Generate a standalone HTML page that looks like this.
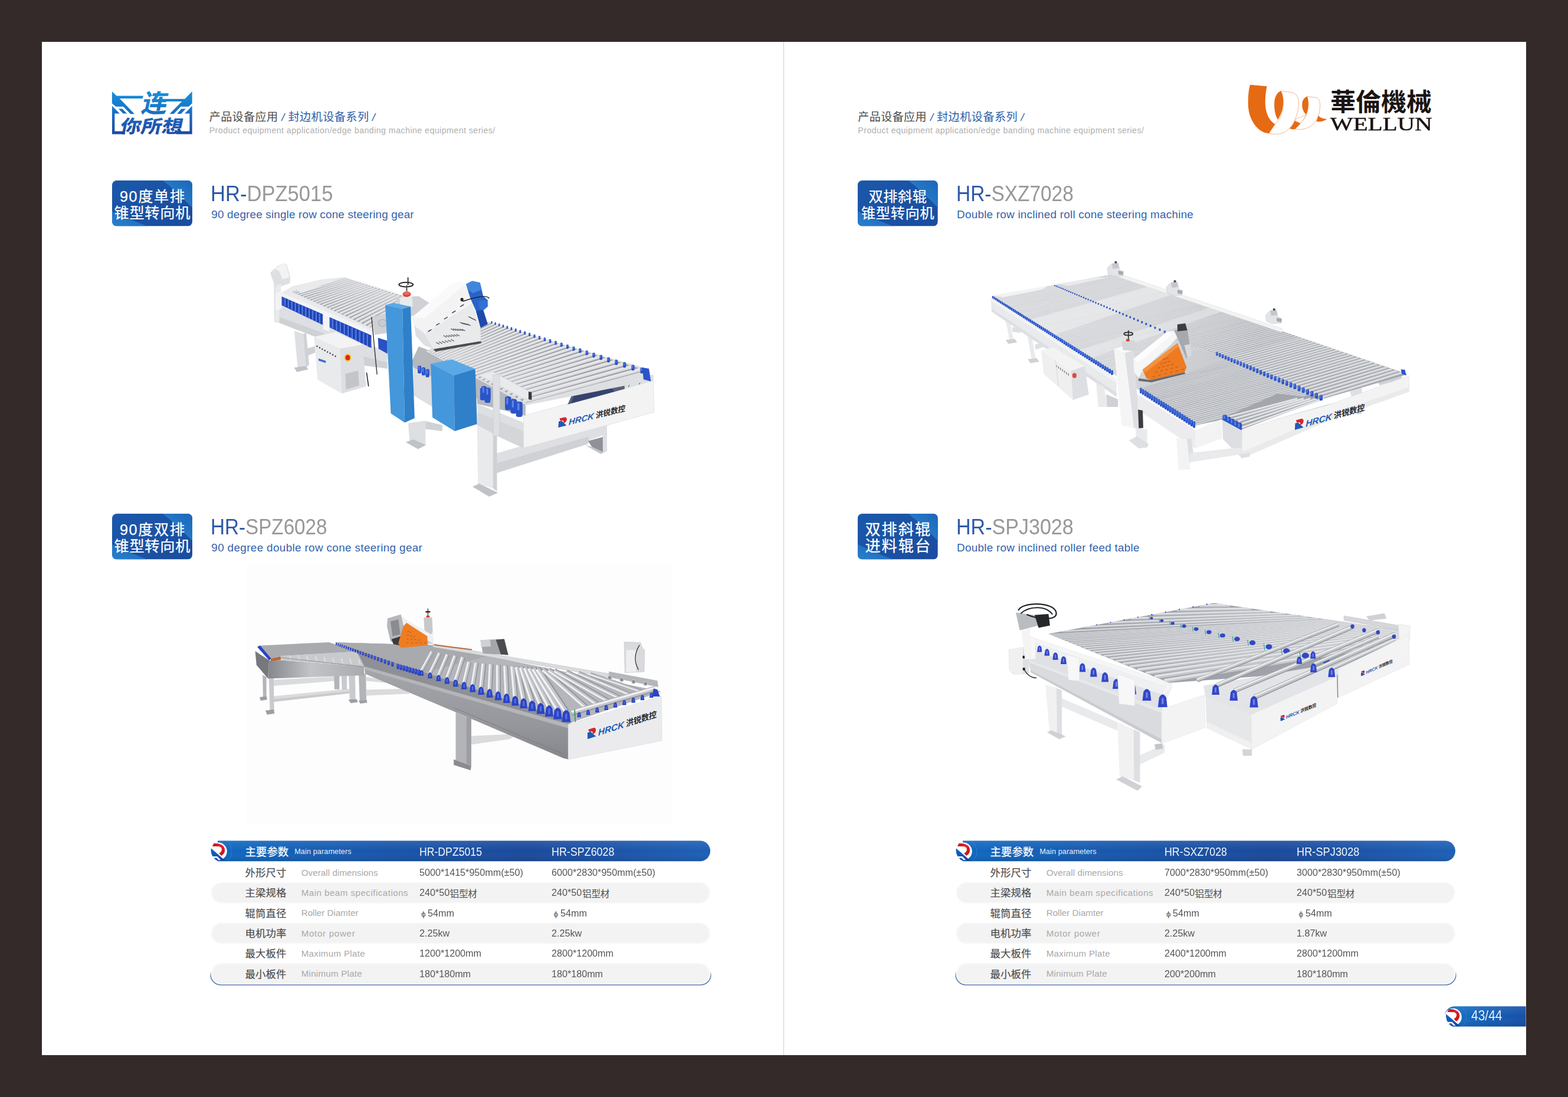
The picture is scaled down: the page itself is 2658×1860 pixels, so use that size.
<!DOCTYPE html>
<html lang="zh"><head><meta charset="utf-8"><title>HRCK / WELLUN product catalogue 43/44</title>
<style>
html,body{margin:0;padding:0;background:#342a29;}
body{width:2658px;height:1860px;position:relative;overflow:hidden;font-family:"Liberation Sans",sans-serif;}
#page{position:absolute;left:70.5px;top:71.2px;width:2516.1px;height:1718.2px;background:#fff;}
#fold{position:absolute;left:1328px;top:71.2px;width:1px;height:1718.2px;background:#cfcfd2;}
.t{position:absolute;white-space:nowrap;font-family:"Liberation Sans",sans-serif;}
.ser{font-family:"Liberation Serif",serif;}
svg{position:absolute;left:0;top:0;overflow:visible;}
.m{position:absolute;}
.cj{font-family:"Liberation Sans","Noto Sans CJK SC",sans-serif;}
.cjt{font-family:"Liberation Sans","Noto Sans CJK TC",sans-serif;}
</style></head><body>
<div id="page"></div><div id="fold"></div>

<svg width="2658" height="1860" viewBox="0 0 2658 1860" role="img" aria-label="catalogue artwork">
<defs>
<linearGradient id="hdr" x1="0" x2="1" y1="0" y2="0">
 <stop offset="0" stop-color="#0f68c0"/><stop offset="0.3" stop-color="#1757ac"/><stop offset="0.62" stop-color="#1a499b"/><stop offset="1" stop-color="#1d5fb5"/>
</linearGradient>
<linearGradient id="pgn" x1="0" x2="1" y1="0" y2="0"><stop offset="0" stop-color="#1272c8"/><stop offset="1" stop-color="#164fa6"/></linearGradient>
<linearGradient id="hdrv" x1="0" x2="0" y1="0" y2="1">
 <stop offset="0" stop-color="#fff" stop-opacity="0.10"/><stop offset="0.5" stop-color="#fff" stop-opacity="0"/><stop offset="1" stop-color="#000" stop-opacity="0.10"/>
</linearGradient>
<linearGradient id="bdg" x1="0" x2="1" y1="0" y2="1">
 <stop offset="0" stop-color="#1b58aa"/><stop offset="1" stop-color="#1a4c9e"/>
</linearGradient>
<linearGradient id="bdg2" x1="0" x2="1" y1="1" y2="0">
 <stop offset="0" stop-color="#2a8ad6"/><stop offset="1" stop-color="#1d66b8"/>
</linearGradient>
<linearGradient id="rred" x1="0" x2="1" y1="0" y2="1">
 <stop offset="0" stop-color="#c8161c"/><stop offset="0.5" stop-color="#e3222a"/><stop offset="1" stop-color="#b5141a"/>
</linearGradient>
<linearGradient id="rblu" x1="0" x2="1" y1="0" y2="1">
 <stop offset="0" stop-color="#0e6ac4"/><stop offset="1" stop-color="#1a3c9c"/>
</linearGradient>
<linearGradient id="rowline" x1="0" x2="0" y1="0" y2="1">
 <stop offset="0" stop-color="#5f7fb5" stop-opacity="0"/><stop offset="0.35" stop-color="#5f7fb5" stop-opacity="0"/><stop offset="0.6" stop-color="#5f7fb5" stop-opacity="1"/><stop offset="1" stop-color="#5f7fb5" stop-opacity="1"/>
</linearGradient>
<filter id="soft" x="-5%" y="-20%" width="110%" height="140%"><feGaussianBlur stdDeviation="1.2"/></filter>
</defs>
<g id="m1"><polygon points="498.8,561 513.9,566.1 519,623.2 504.7,623.2" fill="#dddfe2"/><polygon points="513.9,566.1 519,564.4 524,618.1 519,623.2" fill="#cfd1d5"/><polygon points="498.8,623.2 519,620.7 522.3,626.5 503,630.7" fill="#bfc2c7"/><polygon points="516.4,592.1 534.1,587.1 534.1,598 517.3,604.7" fill="#cfd1d5"/><polygon points="458.5,461.9 469.4,451.8 481.2,446.8 486.2,448.5 492.1,470.3 491.2,480.4 476.1,485.4 476.1,500.6 474.4,547.6 465.2,545.9 464.4,480.4 458.8,465.3" fill="#dddfe2"/><polygon points="465.2,455.2 480.3,447.6 485.4,449.3 490.4,470.3 478.6,473.7 473.6,460.2" fill="#f3f3f4"/><polygon points="466.9,485.4 476.1,480.4 476.1,500.6 474.4,545.9 466.9,544.2" fill="#e9eaec"/><polygon points="473.6,517.4 630.7,586.2 656.7,598 656.7,624.9 618.1,619.8 547.5,576.1 473.6,547.6" fill="#dddfe2"/><polygon points="473.6,537.5 547.5,564.4 618.1,604.7 656.7,614.8 656.7,624.9 618.1,619.8 547.5,576.1 473.6,547.6" fill="#cfd1d5"/><polygon points="476.1,497.2 495.4,485.4 544.1,474 582.8,470 708.8,509 633.2,564.4" fill="#e9eaec"/><polygon points="495.4,494.7 628.1,555.1 707.1,509.8 584.5,471.2" fill="#979aa0"/><line x1="497.9" y1="495.8" x2="586.7" y2="471.9" stroke="#dadbde" stroke-width="2.4"/><line x1="497.8" y1="495.5" x2="586.6" y2="471.6" stroke="#e6e7e9" stroke-width="0.9"/><line x1="502.8" y1="498" x2="591.2" y2="473.3" stroke="#dadbde" stroke-width="2.5"/><line x1="502.7" y1="497.7" x2="591.2" y2="473" stroke="#e6e7e9" stroke-width="0.9"/><line x1="507.8" y1="500.3" x2="595.9" y2="474.7" stroke="#dadbde" stroke-width="2.6"/><line x1="507.7" y1="500" x2="595.8" y2="474.5" stroke="#e6e7e9" stroke-width="0.9"/><line x1="512.9" y1="502.6" x2="600.6" y2="476.2" stroke="#dadbde" stroke-width="2.6"/><line x1="512.8" y1="502.3" x2="600.5" y2="475.9" stroke="#e6e7e9" stroke-width="1"/><line x1="518.1" y1="505" x2="605.4" y2="477.7" stroke="#dadbde" stroke-width="2.7"/><line x1="518" y1="504.7" x2="605.3" y2="477.4" stroke="#e6e7e9" stroke-width="1"/><line x1="523.4" y1="507.4" x2="610.3" y2="479.3" stroke="#dadbde" stroke-width="2.8"/><line x1="523.3" y1="507.1" x2="610.2" y2="479" stroke="#e6e7e9" stroke-width="1"/><line x1="528.8" y1="509.9" x2="615.3" y2="480.9" stroke="#dadbde" stroke-width="2.9"/><line x1="528.7" y1="509.5" x2="615.2" y2="480.5" stroke="#e6e7e9" stroke-width="1"/><line x1="534.3" y1="512.4" x2="620.4" y2="482.5" stroke="#dadbde" stroke-width="3"/><line x1="534.2" y1="512" x2="620.2" y2="482.1" stroke="#e6e7e9" stroke-width="1.1"/><line x1="539.9" y1="514.9" x2="625.5" y2="484.1" stroke="#dadbde" stroke-width="3.1"/><line x1="539.8" y1="514.6" x2="625.4" y2="483.7" stroke="#e6e7e9" stroke-width="1.1"/><line x1="545.6" y1="517.5" x2="630.8" y2="485.8" stroke="#dadbde" stroke-width="3.2"/><line x1="545.5" y1="517.2" x2="630.7" y2="485.4" stroke="#e6e7e9" stroke-width="1.2"/><line x1="551.5" y1="520.2" x2="636.2" y2="487.5" stroke="#dadbde" stroke-width="3.3"/><line x1="551.3" y1="519.8" x2="636.1" y2="487.1" stroke="#e6e7e9" stroke-width="1.2"/><line x1="557.4" y1="522.9" x2="641.7" y2="489.2" stroke="#dadbde" stroke-width="3.4"/><line x1="557.3" y1="522.5" x2="641.6" y2="488.8" stroke="#e6e7e9" stroke-width="1.2"/><line x1="563.5" y1="525.7" x2="647.4" y2="491" stroke="#dadbde" stroke-width="3.5"/><line x1="563.3" y1="525.3" x2="647.2" y2="490.6" stroke="#e6e7e9" stroke-width="1.3"/><line x1="569.7" y1="528.5" x2="653.1" y2="492.8" stroke="#dadbde" stroke-width="3.7"/><line x1="569.5" y1="528.1" x2="652.9" y2="492.4" stroke="#e6e7e9" stroke-width="1.3"/><line x1="576" y1="531.4" x2="658.9" y2="494.6" stroke="#dadbde" stroke-width="3.8"/><line x1="575.8" y1="531" x2="658.8" y2="494.2" stroke="#e6e7e9" stroke-width="1.4"/><line x1="582.5" y1="534.3" x2="664.9" y2="496.5" stroke="#dadbde" stroke-width="3.9"/><line x1="582.3" y1="533.9" x2="664.7" y2="496.1" stroke="#e6e7e9" stroke-width="1.4"/><line x1="589.1" y1="537.4" x2="671" y2="498.4" stroke="#dadbde" stroke-width="4.1"/><line x1="588.9" y1="536.9" x2="670.8" y2="498" stroke="#e6e7e9" stroke-width="1.5"/><line x1="595.9" y1="540.4" x2="677.3" y2="500.4" stroke="#dadbde" stroke-width="4.2"/><line x1="595.6" y1="540" x2="677" y2="499.9" stroke="#e6e7e9" stroke-width="1.5"/><line x1="602.8" y1="543.6" x2="683.6" y2="502.4" stroke="#dadbde" stroke-width="4.3"/><line x1="602.5" y1="543.1" x2="683.4" y2="501.9" stroke="#e6e7e9" stroke-width="1.6"/><line x1="609.8" y1="546.8" x2="690.2" y2="504.5" stroke="#dadbde" stroke-width="4.5"/><line x1="609.6" y1="546.3" x2="689.9" y2="504" stroke="#e6e7e9" stroke-width="1.6"/><line x1="617" y1="550.1" x2="696.8" y2="506.6" stroke="#dadbde" stroke-width="4.7"/><line x1="616.8" y1="549.6" x2="696.5" y2="506.1" stroke="#e6e7e9" stroke-width="1.7"/><line x1="624.4" y1="553.4" x2="703.6" y2="508.7" stroke="#dadbde" stroke-width="4.8"/><line x1="624.1" y1="552.9" x2="703.3" y2="508.2" stroke="#e6e7e9" stroke-width="1.7"/><polygon points="495.4,486.3 544.1,474 582.8,470.3 510.6,497.2" fill="#e9eaec"/><polygon points="476.1,495.8 632.3,561.4 632.3,566.9 476.1,501.4" fill="#f3f3f4"/><polygon points="477.3,502.6 547.5,532.8 547.5,550.9 477.3,517.7" fill="#2a50c4"/><polygon points="558.4,537.5 629.5,568.6 629.5,589.9 558.4,555.1" fill="#2a50c4"/><line x1="483.3" y1="505.2" x2="483.3" y2="518.8" stroke="#5a86ec" stroke-width="1.6"/><line x1="485.5" y1="506.2" x2="485.5" y2="519.8" stroke="#17308c" stroke-width="1.2"/><line x1="489.1" y1="507.9" x2="489.1" y2="521.8" stroke="#5a86ec" stroke-width="1.6"/><line x1="491.3" y1="508.9" x2="491.3" y2="522.8" stroke="#17308c" stroke-width="1.2"/><line x1="495" y1="510.6" x2="495" y2="524.8" stroke="#5a86ec" stroke-width="1.6"/><line x1="497.2" y1="511.6" x2="497.2" y2="525.8" stroke="#17308c" stroke-width="1.2"/><line x1="500.9" y1="513.3" x2="500.9" y2="527.8" stroke="#5a86ec" stroke-width="1.6"/><line x1="503.1" y1="514.3" x2="503.1" y2="528.8" stroke="#17308c" stroke-width="1.2"/><line x1="506.8" y1="515.9" x2="506.8" y2="530.8" stroke="#5a86ec" stroke-width="1.6"/><line x1="509" y1="516.9" x2="509" y2="531.8" stroke="#17308c" stroke-width="1.2"/><line x1="512.7" y1="518.6" x2="512.7" y2="533.7" stroke="#5a86ec" stroke-width="1.6"/><line x1="514.9" y1="519.6" x2="514.9" y2="534.7" stroke="#17308c" stroke-width="1.2"/><line x1="518.5" y1="521.3" x2="518.5" y2="536.7" stroke="#5a86ec" stroke-width="1.6"/><line x1="520.7" y1="522.3" x2="520.7" y2="537.7" stroke="#17308c" stroke-width="1.2"/><line x1="524.4" y1="524" x2="524.4" y2="539.7" stroke="#5a86ec" stroke-width="1.6"/><line x1="526.6" y1="525" x2="526.6" y2="540.7" stroke="#17308c" stroke-width="1.2"/><line x1="530.3" y1="526.6" x2="530.3" y2="542.7" stroke="#5a86ec" stroke-width="1.6"/><line x1="532.5" y1="527.6" x2="532.5" y2="543.7" stroke="#17308c" stroke-width="1.2"/><line x1="536.2" y1="529.3" x2="536.2" y2="545.6" stroke="#5a86ec" stroke-width="1.6"/><line x1="538.4" y1="530.3" x2="538.4" y2="546.6" stroke="#17308c" stroke-width="1.2"/><line x1="542" y1="532" x2="542" y2="548.6" stroke="#5a86ec" stroke-width="1.6"/><line x1="544.2" y1="533" x2="544.2" y2="549.6" stroke="#17308c" stroke-width="1.2"/><line x1="564.2" y1="540.3" x2="564.2" y2="556.5" stroke="#5a86ec" stroke-width="1.6"/><line x1="566.4" y1="541.3" x2="566.4" y2="557.5" stroke="#17308c" stroke-width="1.2"/><line x1="570.8" y1="543.3" x2="570.8" y2="559.9" stroke="#5a86ec" stroke-width="1.6"/><line x1="573" y1="544.3" x2="573" y2="560.9" stroke="#17308c" stroke-width="1.2"/><line x1="577.3" y1="546.3" x2="577.3" y2="563.4" stroke="#5a86ec" stroke-width="1.6"/><line x1="579.5" y1="547.3" x2="579.5" y2="564.4" stroke="#17308c" stroke-width="1.2"/><line x1="583.9" y1="549.4" x2="583.9" y2="566.8" stroke="#5a86ec" stroke-width="1.6"/><line x1="586.1" y1="550.4" x2="586.1" y2="567.8" stroke="#17308c" stroke-width="1.2"/><line x1="590.4" y1="552.4" x2="590.4" y2="570.3" stroke="#5a86ec" stroke-width="1.6"/><line x1="592.6" y1="553.4" x2="592.6" y2="571.3" stroke="#17308c" stroke-width="1.2"/><line x1="597" y1="555.4" x2="597" y2="573.7" stroke="#5a86ec" stroke-width="1.6"/><line x1="599.2" y1="556.4" x2="599.2" y2="574.7" stroke="#17308c" stroke-width="1.2"/><line x1="603.5" y1="558.5" x2="603.5" y2="577.2" stroke="#5a86ec" stroke-width="1.6"/><line x1="605.7" y1="559.5" x2="605.7" y2="578.2" stroke="#17308c" stroke-width="1.2"/><line x1="610.1" y1="561.5" x2="610.1" y2="580.6" stroke="#5a86ec" stroke-width="1.6"/><line x1="612.3" y1="562.5" x2="612.3" y2="581.6" stroke="#17308c" stroke-width="1.2"/><line x1="616.6" y1="564.5" x2="616.6" y2="584.1" stroke="#5a86ec" stroke-width="1.6"/><line x1="618.8" y1="565.5" x2="618.8" y2="585.1" stroke="#17308c" stroke-width="1.2"/><line x1="623.2" y1="567.6" x2="623.2" y2="587.5" stroke="#5a86ec" stroke-width="1.6"/><line x1="625.4" y1="568.6" x2="625.4" y2="588.5" stroke="#17308c" stroke-width="1.2"/><polygon points="547.5,532.5 558.4,537.2 558.4,562.7 547.5,557.7" fill="#f3f3f4"/><polygon points="466.9,497.2 477.3,494.7 477.3,524.1 466.9,526.6" fill="#f3f3f4"/><polygon points="532.4,571.1 569.3,562.7 614.7,584.5 576.1,591.6" fill="#f3f3f4"/><polygon points="532.4,571.1 576.1,591.6 579.4,667.2 538.3,643.7" fill="#e9eaec"/><polygon points="576.1,591.6 614.7,584.5 620.6,655.1 579.4,667.2" fill="#dddfe2"/><polygon points="585.3,634.1 607.1,628.2 608.8,653.4 586.5,660.5" fill="#c3c5c9"/><ellipse cx="589.5" cy="606.4" rx="5.6" ry="6.4" fill="#f0c020"/><ellipse cx="589.5" cy="606.4" rx="3.8" ry="4.4" fill="#d8261e"/><ellipse cx="537.4" cy="587.1" rx="1.2" ry="1.5" fill="#4a4a4a"/><ellipse cx="541.9" cy="589.5" rx="1.2" ry="1.5" fill="#4a4a4a"/><ellipse cx="546.3" cy="591.9" rx="1.2" ry="1.5" fill="#4a4a4a"/><ellipse cx="550.7" cy="594.3" rx="1.2" ry="1.5" fill="#4a4a4a"/><ellipse cx="555.2" cy="596.7" rx="1.2" ry="1.5" fill="#4a4a4a"/><ellipse cx="559.6" cy="599.1" rx="1.2" ry="1.5" fill="#4a4a4a"/><ellipse cx="564.1" cy="601.5" rx="1.2" ry="1.5" fill="#4a4a4a"/><ellipse cx="568.5" cy="603.9" rx="1.2" ry="1.5" fill="#4a4a4a"/><polygon points="539.9,607.7 552.2,611.8 552.2,615.6 539.9,611.4" fill="#3b6fd0"/><line x1="621.4" y1="631.6" x2="624.8" y2="655.1" stroke="#2a2a2a" stroke-width="1.6"/><line x1="629.8" y1="537.5" x2="639.1" y2="634.9" stroke="#333" stroke-width="1.4"/><polygon points="631.5,537.5 655,530.8 656.7,564.4 634.9,567.7" fill="#cfd1d5"/><ellipse cx="648.3" cy="547.6" rx="7" ry="6" fill="#c9ccd0" stroke="#9a9da2" stroke-width="0.8"/><polygon points="640.7,572.8 656.7,577.8 656.7,599.7 641.6,591.3" fill="#2a50c4"/><polygon points="668.6,503.5 709.7,502.3 729.6,514.7 714.7,529.7 696,537.1 681.1,524.7" fill="#cfd1d5"/><polygon points="677.3,504.8 698.5,502.3 699.7,519.7 678.6,522.2" fill="#e9eaec"/><line x1="691.6" y1="471.2" x2="691.6" y2="482.4" stroke="#2b2b2b" stroke-width="1.8" stroke-linecap="round"/><ellipse cx="688.3" cy="482.6" rx="12" ry="3.8" fill="none" stroke="#2b2b2b" stroke-width="2"/><line x1="689.2" y1="483.6" x2="689.5" y2="493.6" stroke="#555" stroke-width="2.2"/><ellipse cx="689.5" cy="498.8" rx="7" ry="4.6" fill="#d8402f"/><ellipse cx="689.5" cy="497.3" rx="5.5" ry="3.2" fill="#e86a55"/><polygon points="691.9,717.4 721.3,713.2 721.3,754.4 694.4,748.5" fill="#dddfe2"/><polygon points="687.7,749.7 700.3,745.1 722.1,754.4 708.7,761.4" fill="#bfc2c7"/><polygon points="721.3,714.1 749.8,720.8 749.8,730.9 721.3,727.5" fill="#cfd1d5"/><polygon points="841.3,768.7 1023.6,716.1 1023.6,737.6 841.3,802.3" fill="#dddfe2"/><polygon points="841.3,785.5 998.4,740.1 996.7,752.7 841.3,802.3" fill="#cfd1d5"/><polygon points="1021.9,718.3 1029,716.6 1029,764.5 1021.9,766.5" fill="#dddfe2"/><polygon points="996.7,747.7 1021.9,740.9 1021.9,766.5 1003.4,757.7" fill="#8e9197"/><polygon points="991.7,754.4 1003.4,757.7 1021.9,766.5 1029,764.1 1032,762.8 1018.5,769.8" fill="#bfc2c7"/><polygon points="808.6,720.8 835.5,731.7 835.5,827.5 810.3,821.6" fill="#e9eaec"/><polygon points="835.5,731.7 842.5,730 842.5,833.3 835.5,827.5" fill="#cfd1d5"/><polygon points="801.1,825.3 812,819.9 844.2,835.4 829.1,842.1" fill="#bfc2c7"/><polygon points="701.1,623.4 808.6,675.4 808.6,720.8 748.1,699 701.1,670.4" fill="#dddfe2"/><polygon points="809.4,684.7 887.5,716.6 887.5,759.8 847.2,741.3 809.4,720.8" fill="#dddfe2"/><polygon points="809.4,699 887.5,730.9 887.5,759.8 847.2,741.3 809.4,720.8" fill="#d4d6d9"/><polygon points="887.5,704.8 1107.6,645.2 1108.6,699 887.5,759.8" fill="#f3f3f4" stroke="#d0d2d5" stroke-width="0.5"/><polygon points="962.3,685.8 969.8,668.7 1042.1,648.6 1058.9,645.2 1058.9,659.5" fill="#5a6078"/><polygon points="968.1,683.8 973.2,670.4 1032,654.4 1042.1,663.7" fill="#36436e"/><polygon points="1058.9,645.2 1107.6,635.1 1107.6,645.2 1058.9,659.5" fill="#dddfe2"/><line x1="1068.9" y1="641.8" x2="1065.6" y2="656.1" stroke="#2a9a5a" stroke-width="1.2"/><line x1="1087.4" y1="630.1" x2="1084" y2="651.9" stroke="#2a9a5a" stroke-width="1.4"/><g transform="translate(946.3 725) rotate(-13.8) skewX(-18)"><path d="M0 0 L0 -10 L5 -10 L14.5 -0 L9 0 Z" fill="#1f5bb5"/><path d="M1 -14.5 L11 -14.5 Q17 -11 12 -5.5 L8 -5.5 Q11 -10 3 -10.5 Z" fill="#d8232a"/><text x="18" y="0" font-family="Liberation Sans, sans-serif" font-weight="bold" font-style="italic" font-size="13.8" fill="#1f5bb5" textLength="44" lengthAdjust="spacingAndGlyphs">HRCK</text><g transform="translate(65 -0.2)"><text class="cj" x="0" y="0" font-size="13" font-weight="bold" fill="#26262a">洪锐数控</text></g></g><polygon points="709.7,587.5 724.6,593.1 891,680 890.9,704.8 809.4,684.7 808.6,675.4 701.1,623.4 697.7,613.3" fill="#b5b8bd"/><polygon points="722.1,595.6 815.5,544.6 1100,625.7 1105,645 891.7,687" fill="#dddfe2"/><polygon points="725.9,595 892,683 1095.8,628.2 827.9,545.9" fill="#92959b"/><line x1="727.8" y1="596" x2="831" y2="546.9" stroke="#dbdcdf" stroke-width="3.2"/><line x1="727.6" y1="595.7" x2="830.8" y2="546.5" stroke="#e8e9eb" stroke-width="1.2"/><line x1="731.8" y1="598.1" x2="837.4" y2="548.8" stroke="#dbdcdf" stroke-width="3.3"/><line x1="731.6" y1="597.8" x2="837.2" y2="548.5" stroke="#e8e9eb" stroke-width="1.2"/><line x1="735.8" y1="600.3" x2="843.9" y2="550.8" stroke="#dbdcdf" stroke-width="3.4"/><line x1="735.7" y1="599.9" x2="843.8" y2="550.5" stroke="#e8e9eb" stroke-width="1.2"/><line x1="740" y1="602.5" x2="850.7" y2="552.9" stroke="#dbdcdf" stroke-width="3.5"/><line x1="739.9" y1="602.1" x2="850.5" y2="552.5" stroke="#e8e9eb" stroke-width="1.2"/><line x1="744.3" y1="604.8" x2="857.6" y2="555.1" stroke="#dbdcdf" stroke-width="3.5"/><line x1="744.2" y1="604.4" x2="857.5" y2="554.7" stroke="#e8e9eb" stroke-width="1.3"/><line x1="748.8" y1="607.1" x2="864.8" y2="557.3" stroke="#dbdcdf" stroke-width="3.6"/><line x1="748.6" y1="606.7" x2="864.6" y2="556.9" stroke="#e8e9eb" stroke-width="1.3"/><line x1="753.4" y1="609.5" x2="872.2" y2="559.5" stroke="#dbdcdf" stroke-width="3.7"/><line x1="753.2" y1="609.1" x2="872" y2="559.1" stroke="#e8e9eb" stroke-width="1.3"/><line x1="758.1" y1="612" x2="879.8" y2="561.9" stroke="#dbdcdf" stroke-width="3.8"/><line x1="757.9" y1="611.6" x2="879.6" y2="561.4" stroke="#e8e9eb" stroke-width="1.4"/><line x1="762.9" y1="614.6" x2="887.6" y2="564.3" stroke="#dbdcdf" stroke-width="3.9"/><line x1="762.8" y1="614.2" x2="887.5" y2="563.8" stroke="#e8e9eb" stroke-width="1.4"/><line x1="768" y1="617.3" x2="895.8" y2="566.8" stroke="#dbdcdf" stroke-width="4"/><line x1="767.8" y1="616.8" x2="895.6" y2="566.3" stroke="#e8e9eb" stroke-width="1.4"/><line x1="773.1" y1="620" x2="904.1" y2="569.3" stroke="#dbdcdf" stroke-width="4.1"/><line x1="773" y1="619.6" x2="903.9" y2="568.9" stroke="#e8e9eb" stroke-width="1.5"/><line x1="778.5" y1="622.9" x2="912.8" y2="572" stroke="#dbdcdf" stroke-width="4.2"/><line x1="778.3" y1="622.4" x2="912.6" y2="571.5" stroke="#e8e9eb" stroke-width="1.5"/><line x1="784" y1="625.8" x2="921.7" y2="574.7" stroke="#dbdcdf" stroke-width="4.3"/><line x1="783.9" y1="625.3" x2="921.5" y2="574.2" stroke="#e8e9eb" stroke-width="1.5"/><line x1="789.8" y1="628.8" x2="930.9" y2="577.6" stroke="#dbdcdf" stroke-width="4.4"/><line x1="789.6" y1="628.3" x2="930.7" y2="577.1" stroke="#e8e9eb" stroke-width="1.6"/><line x1="795.7" y1="632" x2="940.5" y2="580.5" stroke="#dbdcdf" stroke-width="4.5"/><line x1="795.5" y1="631.5" x2="940.3" y2="580" stroke="#e8e9eb" stroke-width="1.6"/><line x1="801.8" y1="635.2" x2="950.4" y2="583.5" stroke="#dbdcdf" stroke-width="4.6"/><line x1="801.6" y1="634.7" x2="950.2" y2="583" stroke="#e8e9eb" stroke-width="1.7"/><line x1="808.2" y1="638.6" x2="960.6" y2="586.7" stroke="#dbdcdf" stroke-width="4.8"/><line x1="808" y1="638.1" x2="960.4" y2="586.2" stroke="#e8e9eb" stroke-width="1.7"/><line x1="814.8" y1="642.1" x2="971.3" y2="590" stroke="#dbdcdf" stroke-width="4.9"/><line x1="814.6" y1="641.5" x2="971.1" y2="589.4" stroke="#e8e9eb" stroke-width="1.8"/><line x1="821.6" y1="645.7" x2="982.3" y2="593.3" stroke="#dbdcdf" stroke-width="5.1"/><line x1="821.4" y1="645.1" x2="982.1" y2="592.8" stroke="#e8e9eb" stroke-width="1.8"/><line x1="828.7" y1="649.5" x2="993.7" y2="596.9" stroke="#dbdcdf" stroke-width="5.2"/><line x1="828.5" y1="648.9" x2="993.5" y2="596.3" stroke="#e8e9eb" stroke-width="1.9"/><line x1="836.1" y1="653.4" x2="1005.6" y2="600.5" stroke="#dbdcdf" stroke-width="5.4"/><line x1="835.9" y1="652.8" x2="1005.4" y2="599.9" stroke="#e8e9eb" stroke-width="1.9"/><line x1="843.8" y1="657.4" x2="1018" y2="604.3" stroke="#dbdcdf" stroke-width="5.6"/><line x1="843.6" y1="656.8" x2="1017.8" y2="603.7" stroke="#e8e9eb" stroke-width="2"/><line x1="851.7" y1="661.7" x2="1030.9" y2="608.3" stroke="#dbdcdf" stroke-width="5.7"/><line x1="851.5" y1="661" x2="1030.7" y2="607.6" stroke="#e8e9eb" stroke-width="2.1"/><line x1="860" y1="666.1" x2="1044.2" y2="612.4" stroke="#dbdcdf" stroke-width="5.9"/><line x1="859.8" y1="665.4" x2="1044" y2="611.7" stroke="#e8e9eb" stroke-width="2.1"/><line x1="868.7" y1="670.6" x2="1058.2" y2="616.7" stroke="#dbdcdf" stroke-width="6.1"/><line x1="868.5" y1="669.9" x2="1058" y2="616" stroke="#e8e9eb" stroke-width="2.2"/><line x1="877.7" y1="675.4" x2="1072.8" y2="621.1" stroke="#dbdcdf" stroke-width="6.4"/><line x1="877.5" y1="674.7" x2="1072.6" y2="620.4" stroke="#e8e9eb" stroke-width="2.3"/><line x1="887.1" y1="680.4" x2="1088" y2="625.8" stroke="#dbdcdf" stroke-width="6.6"/><line x1="886.9" y1="679.7" x2="1087.7" y2="625" stroke="#e8e9eb" stroke-width="2.4"/><rect x="832.4" y="544.4" width="2.2" height="4.3" rx="0.8" fill="#2b54c9"/><rect x="838.6" y="546.4" width="2.3" height="4.4" rx="0.8" fill="#2b54c9"/><rect x="845.1" y="548.4" width="2.4" height="4.5" rx="0.8" fill="#2b54c9"/><rect x="851.8" y="550.5" width="2.5" height="4.7" rx="0.9" fill="#2b54c9"/><rect x="858.6" y="552.6" width="2.6" height="4.9" rx="0.9" fill="#2b54c9"/><rect x="865.7" y="554.8" width="2.6" height="5" rx="0.9" fill="#2b54c9"/><rect x="872.9" y="557.1" width="2.7" height="5.2" rx="1" fill="#2b54c9"/><rect x="880.4" y="559.4" width="2.8" height="5.4" rx="1" fill="#2b54c9"/><rect x="888.2" y="561.8" width="2.9" height="5.5" rx="1" fill="#2b54c9"/><rect x="896.1" y="564.3" width="3" height="5.7" rx="1.1" fill="#2b54c9"/><rect x="896.8" y="564.7" width="0.9" height="2.9" rx="0.5" fill="#5c86ea"/><rect x="904.4" y="566.9" width="3.1" height="5.9" rx="1.1" fill="#2b54c9"/><rect x="905" y="567.3" width="0.9" height="3" rx="0.5" fill="#5c86ea"/><rect x="912.9" y="569.5" width="3.2" height="6.1" rx="1.1" fill="#2b54c9"/><rect x="913.6" y="570" width="1" height="3.1" rx="0.5" fill="#5c86ea"/><rect x="921.7" y="572.2" width="3.3" height="6.3" rx="1.2" fill="#2b54c9"/><rect x="922.4" y="572.7" width="1" height="3.2" rx="0.5" fill="#5c86ea"/><rect x="930.8" y="575.1" width="3.4" height="6.5" rx="1.2" fill="#2b54c9"/><rect x="931.5" y="575.6" width="1" height="3.3" rx="0.5" fill="#5c86ea"/><rect x="940.2" y="578" width="3.5" height="6.7" rx="1.2" fill="#2b54c9"/><rect x="941" y="578.5" width="1.1" height="3.4" rx="0.5" fill="#5c86ea"/><rect x="949.9" y="581" width="3.7" height="7" rx="1.3" fill="#2b54c9"/><rect x="950.7" y="581.6" width="1.1" height="3.5" rx="0.5" fill="#5c86ea"/><rect x="960" y="584.2" width="3.8" height="7.2" rx="1.3" fill="#2b54c9"/><rect x="960.8" y="584.8" width="1.1" height="3.6" rx="0.6" fill="#5c86ea"/><rect x="970.5" y="587.4" width="3.9" height="7.4" rx="1.4" fill="#2b54c9"/><rect x="971.3" y="588" width="1.2" height="3.7" rx="0.6" fill="#5c86ea"/><rect x="981.3" y="590.8" width="4" height="7.7" rx="1.4" fill="#2b54c9"/><rect x="982.2" y="591.4" width="1.2" height="3.8" rx="0.6" fill="#5c86ea"/><rect x="992.6" y="594.3" width="4.2" height="7.9" rx="1.5" fill="#2b54c9"/><rect x="993.5" y="595" width="1.3" height="4" rx="0.6" fill="#5c86ea"/><rect x="1004.3" y="598" width="4.3" height="8.2" rx="1.5" fill="#2b54c9"/><rect x="1005.3" y="598.6" width="1.3" height="4.1" rx="0.6" fill="#5c86ea"/><rect x="1016.5" y="601.8" width="4.5" height="8.5" rx="1.6" fill="#2b54c9"/><rect x="1017.5" y="602.4" width="1.3" height="4.2" rx="0.7" fill="#5c86ea"/><rect x="1029.2" y="605.7" width="4.6" height="8.8" rx="1.6" fill="#2b54c9"/><rect x="1030.2" y="606.4" width="1.4" height="4.4" rx="0.7" fill="#5c86ea"/><rect x="1042.3" y="609.8" width="4.8" height="9.1" rx="1.7" fill="#2b54c9"/><rect x="1043.4" y="610.5" width="1.4" height="4.5" rx="0.7" fill="#5c86ea"/><rect x="1056.1" y="614.1" width="5" height="9.4" rx="1.7" fill="#2b54c9"/><rect x="1057.2" y="614.8" width="1.5" height="4.7" rx="0.7" fill="#5c86ea"/><rect x="1070.4" y="618.5" width="5.1" height="9.7" rx="1.8" fill="#2b54c9"/><rect x="1071.5" y="619.3" width="1.5" height="4.9" rx="0.8" fill="#5c86ea"/><rect x="1085.4" y="623.2" width="5.3" height="10.1" rx="1.9" fill="#2b54c9"/><rect x="1086.5" y="624" width="1.6" height="5" rx="0.8" fill="#5c86ea"/><polygon points="1089.1,623.2 1100,624.9 1103.4,646.7 1090.8,643.3" fill="#2b54c9"/><polygon points="810.2,636 835.4,630.1 900.9,665.4 900.9,678 887.5,676.3 830.4,645.2" fill="#e9eaec" stroke="#c4c6ca" stroke-width="0.5"/><polygon points="835.4,636 847.2,634.3 847.2,737.6 836.3,740.1" fill="#dddfe2" stroke="#c0c2c6" stroke-width="0.5"/><polygon points="895.9,664 901.3,665 901.3,678 895.9,677.1" fill="#3a3a3c"/><rect x="813.8" y="657.4" width="9.2" height="21.3" rx="3.2" fill="#2b54c9"/><rect x="815.8" y="659.1" width="2.8" height="10.6" rx="1.4" fill="#5c86ea"/><rect x="821.5" y="660.7" width="9.8" height="22.4" rx="3.4" fill="#2b54c9"/><rect x="823.7" y="662.4" width="2.9" height="11.2" rx="1.5" fill="#5c86ea"/><rect x="856.1" y="672" width="10.2" height="23.6" rx="3.6" fill="#2b54c9"/><rect x="858.3" y="673.9" width="3.1" height="11.8" rx="1.5" fill="#5c86ea"/><rect x="865.3" y="676.5" width="10.8" height="24.7" rx="3.8" fill="#2b54c9"/><rect x="867.7" y="678.5" width="3.2" height="12.4" rx="1.6" fill="#5c86ea"/><rect x="874.6" y="681" width="11.2" height="25.9" rx="3.9" fill="#2b54c9"/><rect x="877.1" y="683" width="3.4" height="12.9" rx="1.7" fill="#5c86ea"/><rect x="708.1" y="619.9" width="6.1" height="13.4" rx="2.1" fill="#2b54c9"/><rect x="709.5" y="621" width="1.8" height="6.7" rx="0.9" fill="#5c86ea"/><rect x="714.8" y="622.8" width="6.2" height="13.8" rx="2.2" fill="#2b54c9"/><rect x="716.2" y="623.9" width="1.9" height="6.9" rx="0.9" fill="#5c86ea"/><rect x="721.4" y="625.7" width="6.4" height="14.1" rx="2.2" fill="#2b54c9"/><rect x="722.8" y="626.8" width="1.9" height="7.1" rx="1" fill="#5c86ea"/><rect x="816" y="654.5" width="8.8" height="20.1" rx="3.1" fill="#2b54c9"/><rect x="817.9" y="656.1" width="2.6" height="10.1" rx="1.3" fill="#5c86ea"/><rect x="822.5" y="657.2" width="9.2" height="21.3" rx="3.2" fill="#2b54c9"/><rect x="824.5" y="658.9" width="2.8" height="10.6" rx="1.4" fill="#5c86ea"/><polygon points="734.6,591.9 815.5,578.2 815.7,581.9 738.3,596.2" fill="#4a4c50"/><polygon points="699.7,537.1 764.5,482.6 780.6,476.4 791.2,487.3 800.5,512.9 719.7,565.1 707.2,570.1 701,549.6" fill="#f3f3f4"/><polygon points="699.7,537.1 764.5,482.6 780.6,476.4 789.3,481.1 719.7,539.6" fill="#fafafa"/><polygon points="719.7,565.7 800.5,513.5 814.2,555.2 815.2,578.2 734.6,591.6" fill="#e9eaec"/><polygon points="702.2,552.1 719.7,565.7 734.6,591.6 719.7,585.7 704.7,569.5" fill="#dddfe2"/><line x1="739.6" y1="580.7" x2="744.6" y2="583.3" stroke="#4c4e52" stroke-width="1.1" stroke-linecap="round"/><line x1="752" y1="569.1" x2="757" y2="571.7" stroke="#4c4e52" stroke-width="1.1" stroke-linecap="round"/><line x1="764.5" y1="557.5" x2="769.5" y2="560.1" stroke="#4c4e52" stroke-width="1.1" stroke-linecap="round"/><line x1="744.5" y1="579.7" x2="749.5" y2="582.3" stroke="#4c4e52" stroke-width="1.1" stroke-linecap="round"/><line x1="756.4" y1="568.7" x2="761.4" y2="571.3" stroke="#4c4e52" stroke-width="1.1" stroke-linecap="round"/><line x1="768.2" y1="557.6" x2="773.2" y2="560.2" stroke="#4c4e52" stroke-width="1.1" stroke-linecap="round"/><line x1="780" y1="546.6" x2="785" y2="549.2" stroke="#4c4e52" stroke-width="1.1" stroke-linecap="round"/><line x1="749.5" y1="578.7" x2="754.5" y2="581.3" stroke="#4c4e52" stroke-width="1.1" stroke-linecap="round"/><line x1="760.7" y1="568.2" x2="765.7" y2="570.8" stroke="#4c4e52" stroke-width="1.1" stroke-linecap="round"/><line x1="771.9" y1="557.8" x2="776.9" y2="560.4" stroke="#4c4e52" stroke-width="1.1" stroke-linecap="round"/><line x1="783.1" y1="547.3" x2="788.1" y2="549.9" stroke="#4c4e52" stroke-width="1.1" stroke-linecap="round"/><line x1="794.3" y1="536.8" x2="799.3" y2="539.4" stroke="#4c4e52" stroke-width="1.1" stroke-linecap="round"/><line x1="754.5" y1="577.7" x2="759.5" y2="580.3" stroke="#4c4e52" stroke-width="1.1" stroke-linecap="round"/><line x1="765.1" y1="567.8" x2="770.1" y2="570.4" stroke="#4c4e52" stroke-width="1.1" stroke-linecap="round"/><line x1="775.7" y1="557.9" x2="780.7" y2="560.5" stroke="#4c4e52" stroke-width="1.1" stroke-linecap="round"/><line x1="786.2" y1="548" x2="791.2" y2="550.6" stroke="#4c4e52" stroke-width="1.1" stroke-linecap="round"/><line x1="796.8" y1="538.1" x2="801.8" y2="540.7" stroke="#4c4e52" stroke-width="1.1" stroke-linecap="round"/><line x1="759.5" y1="576.7" x2="764.5" y2="579.3" stroke="#4c4e52" stroke-width="1.1" stroke-linecap="round"/><line x1="769.4" y1="567.4" x2="774.4" y2="570" stroke="#4c4e52" stroke-width="1.1" stroke-linecap="round"/><line x1="779.4" y1="558" x2="784.4" y2="560.6" stroke="#4c4e52" stroke-width="1.1" stroke-linecap="round"/><line x1="789.3" y1="548.7" x2="794.3" y2="551.3" stroke="#4c4e52" stroke-width="1.1" stroke-linecap="round"/><line x1="799.3" y1="539.4" x2="804.3" y2="542" stroke="#4c4e52" stroke-width="1.1" stroke-linecap="round"/><line x1="764.5" y1="575.7" x2="769.5" y2="578.3" stroke="#4c4e52" stroke-width="1.1" stroke-linecap="round"/><line x1="773.8" y1="566.9" x2="778.8" y2="569.5" stroke="#4c4e52" stroke-width="1.1" stroke-linecap="round"/><line x1="783.1" y1="558.2" x2="788.1" y2="560.8" stroke="#4c4e52" stroke-width="1.1" stroke-linecap="round"/><line x1="792.5" y1="549.4" x2="797.5" y2="552" stroke="#4c4e52" stroke-width="1.1" stroke-linecap="round"/><line x1="801.8" y1="540.6" x2="806.8" y2="543.2" stroke="#4c4e52" stroke-width="1.1" stroke-linecap="round"/><line x1="725.9" y1="562" x2="730.9" y2="559" stroke="#4c4e52" stroke-width="1.6" stroke-linecap="round"/><line x1="739.6" y1="551.4" x2="744.6" y2="548.4" stroke="#4c4e52" stroke-width="1.6" stroke-linecap="round"/><line x1="753.3" y1="540.9" x2="758.3" y2="537.9" stroke="#4c4e52" stroke-width="1.6" stroke-linecap="round"/><line x1="766.9" y1="530.3" x2="771.9" y2="527.3" stroke="#4c4e52" stroke-width="1.6" stroke-linecap="round"/><line x1="780.6" y1="519.7" x2="785.6" y2="516.7" stroke="#4c4e52" stroke-width="1.6" stroke-linecap="round"/><ellipse cx="783.1" cy="507.9" rx="2.6" ry="3" fill="#222"/><polygon points="790,481.7 800.5,476.4 813.6,479.2 819.2,502.3 826.7,508.5 826.7,519.7 819.2,525.9 826.7,549.6 814.9,555.8 806.8,527.2 797.4,506" fill="#2a62c8"/><polygon points="790,481.7 800.5,476.4 813.6,479.2 816.7,491.1 801.8,497.3 793.1,491.1" fill="#3f86dc"/><polygon points="811.7,509.7 826.1,508.5 826.7,519.7 819.2,525.9 812.4,522.2" fill="#2f74d4"/><polygon points="806.8,527.2 819.2,525.9 826.7,549.6 814.9,555.8" fill="#1f4aa8"/><path d="M784.4 511 Q824.2 497.3 829.2 506" fill="none" stroke="#222" stroke-width="1.6"/><polygon points="653.1,517.2 667.4,513.5 696,519.7 682.3,523.7" fill="#5aa9e6"/><polygon points="653.1,517.2 682.3,523.7 686,716.6 662.5,701" fill="#4497da"/><polygon points="682.3,523.7 696,519.7 702.8,709 686,716.6" fill="#2f7fc9"/><polygon points="730.2,616.8 765.7,609.3 805.5,625.5 769.4,636.7" fill="#5aa9e6"/><polygon points="730.2,616.8 769.4,636.7 770.8,730.9 733,707.7" fill="#4497da"/><polygon points="769.4,636.7 805.5,625.5 808.6,719.1 770.8,730.9" fill="#2f7fc9"/></g><g id="m2"><rect x="418" y="957" width="722" height="438" fill="#fdfdfd"/><polygon points="445.2,1144.3 451.6,1147.7 451.6,1183.8 446,1183.8" fill="#b3b4b8"/><polygon points="440.2,1182.1 451.9,1180.4 452.8,1186.3 441.8,1188" fill="#9d9ea3"/><polygon points="462,1152.7 568.7,1147.3 568.7,1154.4 462.8,1163.1" fill="#dadbdd"/><polygon points="462.8,1180.4 593,1167.8 593,1175.4 463.7,1190" fill="#dadbdd"/><polygon points="462.8,1185.5 593,1172 593,1175.4 463.7,1190" fill="#c9cacd"/><polygon points="566.1,1144.3 575.4,1144.3 575.4,1168.7 567,1168.7" fill="#b3b4b8"/><polygon points="578.7,1143.5 588,1143.5 588,1169.5 579.6,1169.5" fill="#c9cacd"/><polygon points="455.8,1150.2 464,1150.2 464.7,1206.8 457.6,1206.8" fill="#c9cacd"/><polygon points="449.9,1204.8 464,1203.1 465.4,1209.8 452.8,1211.8" fill="#9d9ea3"/><polygon points="591,1142.3 601.8,1142.3 602.8,1188 593,1188" fill="#c9cacd"/><polygon points="608.1,1142.3 620.2,1142.3 621.1,1189.7 609.8,1189.7" fill="#b3b4b8"/><polygon points="590.5,1186.3 604.8,1185.5 606.5,1190.5 594.7,1192.2" fill="#9d9ea3"/><polygon points="608.1,1188 621.6,1187.1 622.4,1191.3 610.7,1193" fill="#9d9ea3"/><polygon points="620.7,1147.7 672,1154.4 672,1159.4 620.7,1154.4" fill="#dadbdd"/><polygon points="620.7,1169.5 682.1,1167.8 695.5,1176.2 620.7,1179.6" fill="#dadbdd"/><polygon points="432.6,1104 456.1,1119.4 454.1,1150.2 434.8,1127.5" fill="#77787d"/><linearGradient id="m2f" x1="0" x2="1" y1="0" y2="0"><stop offset="0" stop-color="#86878c"/><stop offset="0.45" stop-color="#c3c4c7"/><stop offset="1" stop-color="#a9aaae"/></linearGradient><polygon points="456.1,1119.9 477.1,1119.4 616.9,1130 617.5,1145.1 454.1,1150.5" fill="url(#m2f)"/><polygon points="475.4,1112.1 604.8,1104.8 668.6,1127.5 666.9,1137.6 616.9,1130 477.1,1119.4" fill="#c9cacd"/><line x1="490.6" y1="1109.6" x2="493.1" y2="1117.6" stroke="#e8e8ea" stroke-width="1.4"/><line x1="505.2" y1="1110.7" x2="507.7" y2="1118.7" stroke="#e8e8ea" stroke-width="1.4"/><line x1="519.9" y1="1111.8" x2="522.4" y2="1119.8" stroke="#e8e8ea" stroke-width="1.4"/><line x1="534.5" y1="1112.9" x2="537" y2="1120.9" stroke="#e8e8ea" stroke-width="1.4"/><line x1="549.2" y1="1114" x2="551.7" y2="1122" stroke="#e8e8ea" stroke-width="1.4"/><line x1="563.9" y1="1115.1" x2="566.4" y2="1123.1" stroke="#e8e8ea" stroke-width="1.4"/><line x1="578.5" y1="1116.2" x2="581" y2="1124.2" stroke="#e8e8ea" stroke-width="1.4"/><line x1="593.2" y1="1117.3" x2="595.7" y2="1125.3" stroke="#e8e8ea" stroke-width="1.4"/><line x1="607.8" y1="1118.4" x2="610.3" y2="1126.4" stroke="#e8e8ea" stroke-width="1.4"/><line x1="622.5" y1="1119.5" x2="625" y2="1127.5" stroke="#e8e8ea" stroke-width="1.4"/><line x1="637.2" y1="1120.5" x2="639.7" y2="1128.5" stroke="#e8e8ea" stroke-width="1.4"/><line x1="651.8" y1="1121.6" x2="654.3" y2="1129.6" stroke="#e8e8ea" stroke-width="1.4"/><line x1="475.4" y1="1114.9" x2="666.9" y2="1135.9" stroke="#8f9095" stroke-width="1"/><polygon points="437.6,1094.8 557.7,1088.9 604.8,1104.8 477.1,1112.1 457.8,1116.9" fill="#a9aaae"/><polygon points="436,1096.8 441.3,1094.8 460,1116.9 456.1,1119.4" fill="#2b44c4"/><polygon points="457.8,1116.9 475.4,1112.7 476.3,1119.1 459.5,1120.8" fill="#b9673f"/><polygon points="798.6,1248.1 879.2,1243.9 864.1,1253.2 798.6,1262.4" fill="#dadbdd"/><polygon points="772.5,1207.8 790.2,1215.4 790.2,1295.2 772.5,1288.8" fill="#b3b4b8"/><polygon points="790.2,1215.4 798.9,1217.9 798.9,1298.5 790.2,1295.2" fill="#9d9ea3"/><polygon points="769.2,1287.6 798.9,1298.5 797.7,1306.1 769.2,1296.9" fill="#8a8b90"/><polygon points="567.9,1089.2 735.5,1094.1 1120.6,1172.4 970.7,1223.9 963.2,1228 617.5,1130 604.8,1104.8" fill="#8e9096"/><polygon points="567.9,1089.2 735.5,1094.1 1120.6,1172.4 970.7,1223.9" fill="#b4b6bb"/><polygon points="567.9,1089.2 735.5,1094.1 825.7,1112.7 719.4,1140.1" fill="#a9aaae"/><polygon points="733.9,1091.8 1057.8,1146.6 1057.8,1153 733.9,1097" fill="#dadbdd" stroke="#aeb0b4" stroke-width="0.4"/><linearGradient id="m2b" x1="0" x2="0" y1="0" y2="1"><stop offset="0" stop-color="#a5a6aa"/><stop offset="0.6" stop-color="#97989d"/><stop offset="1" stop-color="#85868b"/></linearGradient><polygon points="617.5,1130 963.2,1228 963.2,1287.6 954.8,1285.4 770,1206.5 619.1,1142.6" fill="url(#m2b)"/><polygon points="617.5,1130 963.2,1228 963.2,1234.7 617.9,1135.1" fill="#b4b5b9"/><line x1="770" y1="1200.3" x2="954.8" y2="1278.4" stroke="#7b7c81" stroke-width="0.9"/><line x1="714.6" y1="1137.3" x2="732.2" y2="1105" stroke="#8d9096" stroke-width="6.4"/><line x1="714.1" y1="1137" x2="731.8" y2="1104.8" stroke="#c4c6cb" stroke-width="5.1"/><line x1="713.4" y1="1136.7" x2="731.1" y2="1104.4" stroke="#f2f2f4" stroke-width="1.9"/><line x1="729" y1="1141.3" x2="745.3" y2="1107.4" stroke="#8d9096" stroke-width="6.8"/><line x1="728.5" y1="1141.1" x2="744.8" y2="1107.1" stroke="#c4c6cb" stroke-width="5.4"/><line x1="727.8" y1="1140.8" x2="744.1" y2="1106.8" stroke="#f2f2f4" stroke-width="2"/><line x1="743.4" y1="1145.4" x2="758.4" y2="1109.7" stroke="#8d9096" stroke-width="7.2"/><line x1="742.9" y1="1145.2" x2="757.9" y2="1109.5" stroke="#c4c6cb" stroke-width="5.8"/><line x1="742.1" y1="1144.9" x2="757.1" y2="1109.2" stroke="#f2f2f4" stroke-width="2.2"/><line x1="757.8" y1="1149.5" x2="771.5" y2="1112.1" stroke="#8d9096" stroke-width="7.6"/><line x1="757.3" y1="1149.3" x2="770.9" y2="1111.9" stroke="#c4c6cb" stroke-width="6.1"/><line x1="756.4" y1="1149" x2="770.1" y2="1111.6" stroke="#f2f2f4" stroke-width="2.3"/><line x1="772.3" y1="1153.6" x2="784.6" y2="1114.4" stroke="#8d9096" stroke-width="8"/><line x1="771.7" y1="1153.4" x2="784" y2="1114.2" stroke="#c4c6cb" stroke-width="6.4"/><line x1="770.7" y1="1153.1" x2="783.1" y2="1113.9" stroke="#f2f2f4" stroke-width="2.4"/><line x1="786.7" y1="1157.6" x2="795.2" y2="1122.5" stroke="#8d9096" stroke-width="8.2"/><line x1="786.1" y1="1157.5" x2="794.6" y2="1122.3" stroke="#c4c6cb" stroke-width="6.6"/><line x1="785.1" y1="1157.2" x2="793.6" y2="1122.1" stroke="#f2f2f4" stroke-width="2.5"/><line x1="801.1" y1="1161.7" x2="807.5" y2="1123.7" stroke="#8d9096" stroke-width="8.4"/><line x1="800.5" y1="1161.6" x2="806.8" y2="1123.6" stroke="#c4c6cb" stroke-width="6.7"/><line x1="799.5" y1="1161.4" x2="805.8" y2="1123.4" stroke="#f2f2f4" stroke-width="2.5"/><line x1="815.6" y1="1165.8" x2="819.7" y2="1124.9" stroke="#8d9096" stroke-width="8.6"/><line x1="814.9" y1="1165.7" x2="819" y2="1124.9" stroke="#c4c6cb" stroke-width="6.9"/><line x1="813.8" y1="1165.6" x2="818" y2="1124.8" stroke="#f2f2f4" stroke-width="2.6"/><line x1="830" y1="1169.8" x2="832" y2="1126.2" stroke="#8d9096" stroke-width="8.9"/><line x1="829.3" y1="1169.8" x2="831.3" y2="1126.1" stroke="#c4c6cb" stroke-width="7.1"/><line x1="828.2" y1="1169.8" x2="830.2" y2="1126.1" stroke="#f2f2f4" stroke-width="2.7"/><line x1="844.4" y1="1173.9" x2="844.2" y2="1127.4" stroke="#8d9096" stroke-width="9.1"/><line x1="843.7" y1="1173.9" x2="843.5" y2="1127.4" stroke="#c4c6cb" stroke-width="7.3"/><line x1="842.6" y1="1173.9" x2="842.4" y2="1127.4" stroke="#f2f2f4" stroke-width="2.7"/><line x1="858.8" y1="1178" x2="856.5" y2="1128.6" stroke="#8d9096" stroke-width="9.3"/><line x1="858.1" y1="1178" x2="855.8" y2="1128.7" stroke="#c4c6cb" stroke-width="7.4"/><line x1="857" y1="1178.1" x2="854.7" y2="1128.7" stroke="#f2f2f4" stroke-width="2.8"/><line x1="873.3" y1="1182.1" x2="868.8" y2="1129.8" stroke="#8d9096" stroke-width="9.5"/><line x1="872.5" y1="1182.1" x2="868" y2="1129.9" stroke="#c4c6cb" stroke-width="7.6"/><line x1="871.4" y1="1182.2" x2="866.9" y2="1130" stroke="#f2f2f4" stroke-width="2.9"/><line x1="887.7" y1="1186.1" x2="876.2" y2="1130.6" stroke="#8d9096" stroke-width="9.7"/><line x1="886.9" y1="1186.3" x2="875.4" y2="1130.7" stroke="#c4c6cb" stroke-width="7.8"/><line x1="885.8" y1="1186.5" x2="874.3" y2="1131" stroke="#f2f2f4" stroke-width="2.9"/><line x1="902.1" y1="1190.2" x2="883.2" y2="1131.3" stroke="#8d9096" stroke-width="10"/><line x1="901.4" y1="1190.4" x2="882.5" y2="1131.5" stroke="#c4c6cb" stroke-width="8"/><line x1="900.2" y1="1190.8" x2="881.3" y2="1131.9" stroke="#f2f2f4" stroke-width="3"/><line x1="916.5" y1="1194.3" x2="890.3" y2="1132" stroke="#8d9096" stroke-width="10.2"/><line x1="915.8" y1="1194.6" x2="889.5" y2="1132.3" stroke="#c4c6cb" stroke-width="8.1"/><line x1="914.7" y1="1195.1" x2="888.4" y2="1132.8" stroke="#f2f2f4" stroke-width="3.1"/><line x1="931" y1="1198.3" x2="897.3" y2="1132.7" stroke="#8d9096" stroke-width="10.4"/><line x1="930.2" y1="1198.7" x2="896.6" y2="1133.1" stroke="#c4c6cb" stroke-width="8.3"/><line x1="929.1" y1="1199.3" x2="895.5" y2="1133.7" stroke="#f2f2f4" stroke-width="3.1"/><line x1="945.4" y1="1202.4" x2="904.4" y2="1133.4" stroke="#8d9096" stroke-width="10.6"/><line x1="944.7" y1="1202.8" x2="903.7" y2="1133.8" stroke="#c4c6cb" stroke-width="8.5"/><line x1="943.6" y1="1203.5" x2="902.6" y2="1134.5" stroke="#f2f2f4" stroke-width="3.2"/><line x1="959.8" y1="1206.5" x2="911.4" y2="1134.1" stroke="#8d9096" stroke-width="10.8"/><line x1="959.1" y1="1207" x2="910.7" y2="1134.6" stroke="#c4c6cb" stroke-width="8.7"/><line x1="958" y1="1207.7" x2="909.6" y2="1135.3" stroke="#f2f2f4" stroke-width="3.3"/><line x1="993.4" y1="1199.4" x2="920.7" y2="1135" stroke="#8d9096" stroke-width="9"/><line x1="992.9" y1="1200" x2="920.2" y2="1135.6" stroke="#c4c6cb" stroke-width="7.2"/><line x1="992.2" y1="1200.8" x2="919.5" y2="1136.4" stroke="#f2f2f4" stroke-width="2.7"/><line x1="1012.6" y1="1194.1" x2="930.3" y2="1136" stroke="#8d9096" stroke-width="8.4"/><line x1="1012.2" y1="1194.7" x2="929.9" y2="1136.5" stroke="#c4c6cb" stroke-width="6.7"/><line x1="1011.6" y1="1195.5" x2="929.3" y2="1137.4" stroke="#f2f2f4" stroke-width="2.5"/><line x1="1031.7" y1="1188.8" x2="939.8" y2="1137" stroke="#8d9096" stroke-width="7.8"/><line x1="1031.4" y1="1189.4" x2="939.5" y2="1137.5" stroke="#c4c6cb" stroke-width="6.2"/><line x1="1031" y1="1190.2" x2="939.1" y2="1138.3" stroke="#f2f2f4" stroke-width="2.3"/><line x1="1050.9" y1="1183.5" x2="960.2" y2="1139" stroke="#8d9096" stroke-width="7.2"/><line x1="1050.6" y1="1184" x2="959.9" y2="1139.5" stroke="#c4c6cb" stroke-width="5.8"/><line x1="1050.2" y1="1184.8" x2="959.5" y2="1140.3" stroke="#f2f2f4" stroke-width="2.2"/><line x1="1070" y1="1178.2" x2="980.7" y2="1141" stroke="#8d9096" stroke-width="6.6"/><line x1="1069.8" y1="1178.7" x2="980.4" y2="1141.5" stroke="#c4c6cb" stroke-width="5.3"/><line x1="1069.5" y1="1179.4" x2="980.1" y2="1142.3" stroke="#f2f2f4" stroke-width="2"/><line x1="1089.2" y1="1172.9" x2="1001.1" y2="1143.1" stroke="#8d9096" stroke-width="6"/><line x1="1089" y1="1173.3" x2="1001" y2="1143.5" stroke="#c4c6cb" stroke-width="4.8"/><line x1="1088.8" y1="1174" x2="1000.8" y2="1144.2" stroke="#f2f2f4" stroke-width="1.8"/><line x1="969.1" y1="1208.7" x2="1111" y2="1167.8" stroke="#8d9096" stroke-width="9.5"/><line x1="968.8" y1="1207.9" x2="1110.8" y2="1167.1" stroke="#c4c6cb" stroke-width="7.6"/><line x1="968.5" y1="1206.8" x2="1110.5" y2="1166" stroke="#f2f2f4" stroke-width="2.9"/><line x1="974.1" y1="1202.8" x2="975.3" y2="1224.6" stroke="#2f9a5a" stroke-width="1.6"/><path d="M711.8 1138.6 Q714.6 1133.7 717.3 1138.6 L718.1 1145.7 L711 1145.7 Z" fill="#2b44c4"/><rect x="713.8" y="1138.9" width="1.6" height="4.5" fill="#5570e4"/><path d="M726.1 1142.7 Q729 1137.5 731.9 1142.7 L732.8 1150.3 L725.2 1150.3 Z" fill="#2b44c4"/><rect x="728.2" y="1143.1" width="1.7" height="4.8" fill="#5570e4"/><path d="M740.3 1146.9 Q743.4 1141.4 746.5 1146.9 L747.5 1155 L739.4 1155 Z" fill="#2b44c4"/><rect x="742.5" y="1147.2" width="1.8" height="5.1" fill="#5570e4"/><path d="M754.6 1151 Q757.8 1145.2 761.1 1151 L762.1 1159.6 L753.6 1159.6 Z" fill="#2b44c4"/><rect x="756.9" y="1151.4" width="1.9" height="5.4" fill="#5570e4"/><path d="M768.8 1155.2 Q772.3 1149.1 775.7 1155.2 L776.8 1164.2 L767.8 1164.2 Z" fill="#2b44c4"/><rect x="771.3" y="1155.6" width="2" height="5.7" fill="#5570e4"/><path d="M783.1 1159.3 Q786.7 1152.9 790.3 1159.3 L791.4 1168.8 L782 1168.8 Z" fill="#2b44c4"/><rect x="785.7" y="1159.8" width="2.1" height="6" fill="#5570e4"/><path d="M797.3 1163.5 Q801.1 1156.7 804.9 1163.5 L806.1 1173.4 L796.2 1173.4 Z" fill="#2b44c4"/><rect x="800" y="1164" width="2.2" height="6.3" fill="#5570e4"/><path d="M811.6 1167.7 Q815.6 1160.6 819.5 1167.7 L820.7 1178 L810.4 1178 Z" fill="#2b44c4"/><rect x="814.4" y="1168.1" width="2.3" height="6.6" fill="#5570e4"/><path d="M825.8 1171.8 Q830 1164.4 834.1 1171.8 L835.4 1182.7 L824.6 1182.7 Z" fill="#2b44c4"/><rect x="828.8" y="1172.3" width="2.4" height="6.9" fill="#5570e4"/><path d="M840.1 1176 Q844.4 1168.3 848.7 1176 L850.1 1187.3 L838.8 1187.3 Z" fill="#2b44c4"/><rect x="843.2" y="1176.5" width="2.5" height="7.2" fill="#5570e4"/><path d="M854.3 1180.1 Q858.8 1172.1 863.3 1180.1 L864.7 1191.9 L852.9 1191.9 Z" fill="#2b44c4"/><rect x="857.5" y="1180.7" width="2.6" height="7.5" fill="#5570e4"/><path d="M868.6 1184.3 Q873.3 1175.9 877.9 1184.3 L879.4 1196.5 L867.1 1196.5 Z" fill="#2b44c4"/><rect x="871.9" y="1184.8" width="2.7" height="7.8" fill="#5570e4"/><path d="M882.8 1188.4 Q887.7 1179.8 892.5 1188.4 L894 1201.1 L881.3 1201.1 Z" fill="#2b44c4"/><rect x="886.3" y="1189" width="2.8" height="8.1" fill="#5570e4"/><path d="M897.1 1192.6 Q902.1 1183.6 907.1 1192.6 L908.7 1205.7 L895.5 1205.7 Z" fill="#2b44c4"/><rect x="900.7" y="1193.2" width="2.9" height="8.4" fill="#5570e4"/><path d="M911.3 1196.7 Q916.5 1187.5 921.7 1196.7 L923.3 1210.4 L909.7 1210.4 Z" fill="#2b44c4"/><rect x="915.1" y="1197.4" width="3" height="8.7" fill="#5570e4"/><path d="M925.6 1200.9 Q931 1191.3 936.3 1200.9 L938 1215 L923.9 1215 Z" fill="#2b44c4"/><rect x="929.4" y="1201.5" width="3.1" height="9" fill="#5570e4"/><path d="M939.8 1205.1 Q945.4 1195.1 950.9 1205.1 L952.7 1219.6 L938.1 1219.6 Z" fill="#2b44c4"/><rect x="943.8" y="1205.7" width="3.2" height="9.3" fill="#5570e4"/><path d="M954.1 1209.2 Q959.8 1199 965.5 1209.2 L967.3 1224.2 L952.3 1224.2 Z" fill="#2b44c4"/><rect x="958.2" y="1209.9" width="3.3" height="9.5" fill="#5570e4"/><path d="M979.1 1209.7 Q981.7 1205.2 984.2 1209.7 L985 1216.3 L978.4 1216.3 Z" fill="#2b44c4"/><rect x="980.9" y="1210" width="1.4" height="4.2" fill="#5570e4"/><path d="M994.5 1205.6 Q997 1201.1 999.5 1205.6 L1000.3 1212.2 L993.7 1212.2 Z" fill="#2b44c4"/><rect x="996.3" y="1205.9" width="1.4" height="4.2" fill="#5570e4"/><path d="M1009.8 1201.4 Q1012.3 1196.9 1014.8 1201.4 L1015.6 1208 L1009 1208 Z" fill="#2b44c4"/><rect x="1011.6" y="1201.7" width="1.4" height="4.2" fill="#5570e4"/><path d="M1025.1 1197.3 Q1027.6 1192.8 1030.2 1197.3 L1030.9 1203.9 L1024.3 1203.9 Z" fill="#2b44c4"/><rect x="1026.9" y="1197.6" width="1.4" height="4.2" fill="#5570e4"/><path d="M1040.5 1193.1 Q1043 1188.6 1045.5 1193.1 L1046.3 1199.7 L1039.7 1199.7 Z" fill="#2b44c4"/><rect x="1042.3" y="1193.4" width="1.4" height="4.2" fill="#5570e4"/><path d="M1055.8 1188.9 Q1058.3 1184.4 1060.8 1188.9 L1061.6 1195.5 L1055 1195.5 Z" fill="#2b44c4"/><rect x="1057.6" y="1189.2" width="1.4" height="4.2" fill="#5570e4"/><path d="M1071.1 1184.8 Q1073.6 1180.3 1076.1 1184.8 L1076.9 1191.4 L1070.3 1191.4 Z" fill="#2b44c4"/><rect x="1072.9" y="1185.1" width="1.4" height="4.2" fill="#5570e4"/><path d="M1086.4 1180.6 Q1089 1176.1 1091.5 1180.6 L1092.3 1187.2 L1085.7 1187.2 Z" fill="#2b44c4"/><rect x="1088.2" y="1180.9" width="1.4" height="4.2" fill="#5570e4"/><path d="M1101.8 1176.5 Q1104.3 1172 1106.8 1176.5 L1107.6 1183.1 L1101 1183.1 Z" fill="#2b44c4"/><rect x="1103.6" y="1176.8" width="1.4" height="4.2" fill="#5570e4"/><polygon points="1107.6,1167.5 1114.4,1169.2 1118.6,1180.9 1106,1180.9" fill="#2b44c4"/><rect x="569.1" y="1089.8" width="2.2" height="4.2" rx="0.8" fill="#2b44c4"/><rect x="572.2" y="1090.9" width="2.3" height="4.4" rx="0.8" fill="#2b44c4"/><rect x="575.4" y="1092" width="2.4" height="4.5" rx="0.8" fill="#2b44c4"/><rect x="578.6" y="1093.1" width="2.4" height="4.6" rx="0.8" fill="#2b44c4"/><rect x="582" y="1094.3" width="2.5" height="4.7" rx="0.9" fill="#2b44c4"/><rect x="585.6" y="1095.5" width="2.6" height="4.9" rx="0.9" fill="#2b44c4"/><rect x="589.2" y="1096.8" width="2.6" height="5" rx="0.9" fill="#2b44c4"/><rect x="592.9" y="1098.1" width="2.7" height="5.2" rx="0.9" fill="#2b44c4"/><rect x="596.8" y="1099.4" width="2.8" height="5.3" rx="1" fill="#2b44c4"/><rect x="600.8" y="1100.8" width="2.9" height="5.5" rx="1" fill="#2b44c4"/><rect x="605" y="1102.2" width="3" height="5.6" rx="1" fill="#2b44c4"/><rect x="609.3" y="1103.7" width="3" height="5.8" rx="1.1" fill="#2b44c4"/><rect x="610" y="1104.2" width="0.9" height="2.9" rx="0.5" fill="#5570e4"/><rect x="613.8" y="1105.3" width="3.1" height="6" rx="1.1" fill="#2b44c4"/><rect x="614.5" y="1105.8" width="0.9" height="3" rx="0.5" fill="#5570e4"/><rect x="618.5" y="1106.9" width="3.2" height="6.1" rx="1.1" fill="#2b44c4"/><rect x="619.2" y="1107.4" width="1" height="3.1" rx="0.5" fill="#5570e4"/><rect x="623.3" y="1108.6" width="3.3" height="6.3" rx="1.2" fill="#2b44c4"/><rect x="624" y="1109.1" width="1" height="3.2" rx="0.5" fill="#5570e4"/><rect x="628.3" y="1110.3" width="3.4" height="6.5" rx="1.2" fill="#2b44c4"/><rect x="629.1" y="1110.8" width="1" height="3.3" rx="0.5" fill="#5570e4"/><rect x="633.5" y="1112.1" width="3.5" height="6.7" rx="1.2" fill="#2b44c4"/><rect x="634.3" y="1112.7" width="1.1" height="3.4" rx="0.5" fill="#5570e4"/><rect x="639" y="1114" width="3.6" height="6.9" rx="1.3" fill="#2b44c4"/><rect x="639.8" y="1114.5" width="1.1" height="3.5" rx="0.5" fill="#5570e4"/><rect x="644.6" y="1116" width="3.8" height="7.1" rx="1.3" fill="#2b44c4"/><rect x="645.5" y="1116.5" width="1.1" height="3.6" rx="0.6" fill="#5570e4"/><rect x="650.6" y="1118" width="3.9" height="7.4" rx="1.4" fill="#2b44c4"/><rect x="651.4" y="1118.6" width="1.2" height="3.7" rx="0.6" fill="#5570e4"/><rect x="656.7" y="1120.1" width="4" height="7.6" rx="1.4" fill="#2b44c4"/><rect x="657.6" y="1120.7" width="1.2" height="3.8" rx="0.6" fill="#5570e4"/><rect x="663.2" y="1122.4" width="4.1" height="7.9" rx="1.4" fill="#2b44c4"/><rect x="664.1" y="1123" width="1.2" height="3.9" rx="0.6" fill="#5570e4"/><rect x="672.4" y="1125.5" width="4.2" height="8.9" rx="1.5" fill="#2b44c4"/><rect x="673.3" y="1126.2" width="1.3" height="4.4" rx="0.6" fill="#5570e4"/><rect x="677.4" y="1126.9" width="4.3" height="9.1" rx="1.5" fill="#2b44c4"/><rect x="678.3" y="1127.6" width="1.3" height="4.5" rx="0.6" fill="#5570e4"/><rect x="682.4" y="1128.3" width="4.4" height="9.2" rx="1.5" fill="#2b44c4"/><rect x="683.3" y="1129" width="1.3" height="4.6" rx="0.7" fill="#5570e4"/><rect x="687.4" y="1129.6" width="4.5" height="9.4" rx="1.6" fill="#2b44c4"/><rect x="688.4" y="1130.4" width="1.3" height="4.7" rx="0.7" fill="#5570e4"/><rect x="692.4" y="1131" width="4.5" height="9.5" rx="1.6" fill="#2b44c4"/><rect x="693.4" y="1131.8" width="1.4" height="4.8" rx="0.7" fill="#5570e4"/><rect x="697.4" y="1132.4" width="4.6" height="9.7" rx="1.6" fill="#2b44c4"/><rect x="698.4" y="1133.2" width="1.4" height="4.8" rx="0.7" fill="#5570e4"/><rect x="702.4" y="1133.8" width="4.7" height="9.8" rx="1.6" fill="#2b44c4"/><rect x="703.4" y="1134.6" width="1.4" height="4.9" rx="0.7" fill="#5570e4"/><rect x="707.4" y="1135.2" width="4.8" height="10" rx="1.7" fill="#2b44c4"/><rect x="708.4" y="1136" width="1.4" height="5" rx="0.7" fill="#5570e4"/><polygon points="963.2,1228 1121.1,1180.6 1122.1,1255.7 963.2,1287.6" fill="#ebebed" stroke="#cfd0d3" stroke-width="0.5"/><g transform="translate(995.9 1253.2) rotate(-17.6) skewX(-18)"><path d="M0 0 L0 -10.5 L5.2 -10.5 L15.2 -0 L9.5 0 Z" fill="#1f5bb5"/><path d="M1.1 -15.2 L11.6 -15.2 Q17.8 -11.6 12.6 -5.8 L8.4 -5.8 Q11.6 -10.5 3.1 -11 Z" fill="#d8232a"/><text x="18.9" y="0" font-family="Liberation Sans, sans-serif" font-weight="bold" font-style="italic" font-size="14.5" fill="#1f5bb5" textLength="46.2" lengthAdjust="spacingAndGlyphs">HRCK</text><g transform="translate(68.2 -0.2)"><text class="cj" x="0" y="0" font-size="13.7" font-weight="bold" fill="#26262a">洪锐数控</text></g></g><polygon points="718.2,1046.9 732.4,1046.9 734.5,1091.4 721,1091.4" fill="#c7c8cb"/><line x1="725.4" y1="1031.8" x2="725.4" y2="1046.9" stroke="#333" stroke-width="1.2"/><ellipse cx="725.4" cy="1037.3" rx="4.5" ry="1.6" fill="#333"/><ellipse cx="725.4" cy="1045.2" rx="3.2" ry="1.8" fill="#d8402f"/><polygon points="678.7,1043.5 693,1053.6 730.8,1075.4 734.5,1070.4 734.5,1091.4 682.1,1062" fill="#f0f0f1"/><polygon points="656.9,1048.6 679.5,1041.8 686.3,1070.4 679.5,1094.8 661.9,1087.2 656,1062" fill="#b5b7bb"/><polygon points="661.9,1053.6 675.3,1050.2 678.7,1075.4 665.3,1078.8" fill="#8a8c91"/><polygon points="663.6,1083.8 679.5,1078.8 680.4,1094.8 666.9,1092.2" fill="#3a3b3f"/><polygon points="683.7,1062 689.1,1056.1 724.4,1078.8 725.1,1094.2 679.5,1098.4 675.3,1090.6" fill="#ee7d22"/><line x1="688.8" y1="1090.6" x2="692.3" y2="1089.4" stroke="#b85510" stroke-width="0.9"/><line x1="696.3" y1="1090.6" x2="699.8" y2="1089.4" stroke="#b85510" stroke-width="0.9"/><line x1="703.9" y1="1090.6" x2="707.4" y2="1089.4" stroke="#b85510" stroke-width="0.9"/><line x1="711.4" y1="1090.6" x2="714.9" y2="1089.4" stroke="#b85510" stroke-width="0.9"/><line x1="719" y1="1090.6" x2="722.5" y2="1089.4" stroke="#b85510" stroke-width="0.9"/><line x1="689.3" y1="1084.1" x2="692.8" y2="1082.9" stroke="#b85510" stroke-width="0.9"/><line x1="695.7" y1="1084.6" x2="699.2" y2="1083.4" stroke="#b85510" stroke-width="0.9"/><line x1="702.2" y1="1085.1" x2="705.7" y2="1083.9" stroke="#b85510" stroke-width="0.9"/><line x1="708.6" y1="1085.6" x2="712.1" y2="1084.4" stroke="#b85510" stroke-width="0.9"/><line x1="689.8" y1="1077.7" x2="693.3" y2="1076.5" stroke="#b85510" stroke-width="0.9"/><line x1="695.1" y1="1078.7" x2="698.6" y2="1077.5" stroke="#b85510" stroke-width="0.9"/><line x1="700.4" y1="1079.7" x2="703.9" y2="1078.5" stroke="#b85510" stroke-width="0.9"/><line x1="690.3" y1="1071.3" x2="693.8" y2="1070.1" stroke="#b85510" stroke-width="0.9"/><line x1="694.5" y1="1072.8" x2="698" y2="1071.6" stroke="#b85510" stroke-width="0.9"/><polygon points="735.8,1092.2 800,1100.6 800,1102.6 735.8,1094.2" fill="#b9673f"/><polygon points="814.5,1085.2 854,1083.5 861.6,1110.4 818.7,1107.9" fill="#a4a6aa"/><polygon points="840.6,1084.4 854.8,1083.5 861.6,1110.4 849,1109.6" fill="#4b4c50"/><polygon points="814.5,1085.2 830.5,1084.5 832.2,1096.1 815.4,1097" fill="#d0d1d4"/><polygon points="1058.1,1088.6 1085.8,1089.4 1089.2,1099 1092.9,1102 1091.9,1139 1059.3,1140.6" fill="#d9dadd" stroke="#b8babd" stroke-width="0.5"/><polygon points="1061.4,1102 1078.2,1102 1078.2,1139 1061.4,1139.8" fill="#eeeeef"/><path d="M1084.1 1093.6 Q1070.7 1115.4 1082.4 1135.6" fill="none" stroke="#2a2a2a" stroke-width="1.2"/><polygon points="1032.1,1138.6 1114.4,1154.1 1116,1165 1032.1,1147.7" fill="#b4b6ba"/><ellipse cx="1033.7" cy="1149" rx="3.4" ry="3.4" fill="#8d8f94" stroke="#d5d6d9" stroke-width="1"/><ellipse cx="1053.9" cy="1152.4" rx="3.4" ry="3.4" fill="#8d8f94" stroke="#d5d6d9" stroke-width="1"/><ellipse cx="1074" cy="1155.8" rx="3.4" ry="3.4" fill="#8d8f94" stroke="#d5d6d9" stroke-width="1"/><ellipse cx="1094.2" cy="1159.1" rx="3.4" ry="3.4" fill="#8d8f94" stroke="#d5d6d9" stroke-width="1"/></g><g id="m3"><polygon points="1704,540.9 1711.1,540.9 1718.3,577.1 1711.6,577.1" fill="#e9eaec"/><polygon points="1704.9,576.2 1720,574.5 1724.2,580.4 1709.1,582.9" fill="#cfd1d5"/><polygon points="1741.5,567.8 1748.5,567.8 1755.8,609.8 1749,609.8" fill="#e9eaec"/><polygon points="1742.3,609 1757.4,607.3 1761.6,613.2 1746.5,615.7" fill="#cfd1d5"/><polygon points="1715.4,554.4 1730.6,557.7 1730.6,564.5 1716.3,562.8" fill="#dddfe2"/><polygon points="1754.1,584.6 1769.2,579.6 1769.2,588 1755.8,593" fill="#dddfe2"/><polygon points="2286.7,659.2 2308.3,653.2 2309,672.6 2292.6,677.1" fill="#dddfe2"/><polygon points="2332.9,644.3 2376.2,636.8 2376.2,642.8 2338.9,653.2" fill="#cfd1d5"/><polygon points="2298.6,695 2307.6,692 2308.3,701 2300.8,702.5" fill="#cfd1d5"/><polygon points="1679.3,504.8 1892.7,642.6 1892.7,672.8 1681,528.3" fill="#e9eaec"/><polygon points="1679.3,504.8 1892.7,642.6 1892.7,649.3 1679.7,509.9" fill="#f3f3f4"/><polygon points="1681,523.3 1892.7,666.1 1892.7,672.8 1681,528.3" fill="#dddfe2"/><polygon points="1858.2,650.1 1871.7,655.2 1876.7,689.9 1861.6,689.9" fill="#e9eaec"/><polygon points="1875,668.6 1895.2,677 1895.2,689.9 1876.7,689.9" fill="#cfd1d5"/><polygon points="1765,593.9 1785.1,588.8 1838.9,620.7 1815.4,629.1" fill="#f3f3f4"/><polygon points="1765,593.9 1815.4,629.1 1818.7,678.2 1769.2,633.7" fill="#efeff0"/><polygon points="1815.4,629.1 1838.9,620.7 1845.6,669 1818.7,678.2" fill="#dddfe2"/><ellipse cx="1821.3" cy="636.7" rx="3.6" ry="4.2" fill="#e04a3a"/><line x1="1791" y1="619.1" x2="1791" y2="622.6" stroke="#77797e" stroke-width="1.4"/><line x1="1794.4" y1="621.4" x2="1794.4" y2="624.9" stroke="#77797e" stroke-width="1.4"/><line x1="1797.7" y1="623.8" x2="1797.7" y2="627.3" stroke="#77797e" stroke-width="1.4"/><line x1="1801.1" y1="626.2" x2="1801.1" y2="629.7" stroke="#77797e" stroke-width="1.4"/><line x1="1804.5" y1="628.6" x2="1804.5" y2="632.1" stroke="#77797e" stroke-width="1.4"/><line x1="1807.8" y1="631" x2="1807.8" y2="634.5" stroke="#77797e" stroke-width="1.4"/><line x1="1811.2" y1="633.3" x2="1811.2" y2="636.8" stroke="#77797e" stroke-width="1.4"/><line x1="1789.3" y1="611.5" x2="1794.4" y2="655.2" stroke="#d0d2d5" stroke-width="0.8"/><polygon points="1681.8,503.2 1889.7,464.5 2385.7,634.4 2243.3,676 2105.1,728 2069.8,709.5 2026.1,721.3" fill="#bfc2c7"/><polygon points="1681.8,503.2 1786.8,483.5 2243.3,676 2026.1,721.3" fill="#a3a6ac"/><line x1="1682.8" y1="503.8" x2="1788.4" y2="484.2" stroke="#d2d4d8" stroke-width="1.2"/><line x1="1684.8" y1="505.1" x2="1791" y2="485.3" stroke="#d2d4d8" stroke-width="1.2"/><line x1="1686.9" y1="506.4" x2="1793.7" y2="486.4" stroke="#d2d4d8" stroke-width="1.2"/><line x1="1688.9" y1="507.7" x2="1796.4" y2="487.5" stroke="#d2d4d8" stroke-width="1.2"/><line x1="1691" y1="509" x2="1799.1" y2="488.7" stroke="#d2d4d8" stroke-width="1.2"/><line x1="1693" y1="510.3" x2="1801.7" y2="489.8" stroke="#d2d4d8" stroke-width="1.2"/><line x1="1695.1" y1="511.6" x2="1804.5" y2="490.9" stroke="#d2d4d8" stroke-width="1.2"/><line x1="1697.2" y1="512.9" x2="1807.2" y2="492.1" stroke="#d2d4d8" stroke-width="1.2"/><line x1="1699.3" y1="514.3" x2="1809.9" y2="493.2" stroke="#d2d4d8" stroke-width="1.2"/><line x1="1701.4" y1="515.6" x2="1812.6" y2="494.4" stroke="#d2d4d8" stroke-width="1.2"/><line x1="1703.5" y1="516.9" x2="1815.4" y2="495.6" stroke="#d2d4d8" stroke-width="1.2"/><line x1="1705.6" y1="518.3" x2="1818.2" y2="496.7" stroke="#d2d4d8" stroke-width="1.2"/><line x1="1707.8" y1="519.6" x2="1820.9" y2="497.9" stroke="#d2d4d8" stroke-width="1.2"/><line x1="1709.9" y1="521" x2="1823.7" y2="499.1" stroke="#d2d4d8" stroke-width="1.2"/><line x1="1712.1" y1="522.4" x2="1826.5" y2="500.3" stroke="#d2d4d8" stroke-width="1.3"/><line x1="1714.2" y1="523.7" x2="1829.3" y2="501.4" stroke="#d2d4d8" stroke-width="1.3"/><line x1="1716.4" y1="525.1" x2="1832.2" y2="502.6" stroke="#d2d4d8" stroke-width="1.3"/><line x1="1718.6" y1="526.5" x2="1835" y2="503.8" stroke="#d2d4d8" stroke-width="1.3"/><line x1="1720.8" y1="527.9" x2="1837.9" y2="505" stroke="#d2d4d8" stroke-width="1.3"/><line x1="1723" y1="529.3" x2="1840.7" y2="506.2" stroke="#d2d4d8" stroke-width="1.3"/><line x1="1725.2" y1="530.7" x2="1843.6" y2="507.5" stroke="#d2d4d8" stroke-width="1.3"/><line x1="1727.4" y1="532.1" x2="1846.5" y2="508.7" stroke="#d2d4d8" stroke-width="1.3"/><line x1="1729.7" y1="533.5" x2="1849.4" y2="509.9" stroke="#d2d4d8" stroke-width="1.3"/><line x1="1731.9" y1="535" x2="1852.3" y2="511.1" stroke="#d2d4d8" stroke-width="1.3"/><line x1="1734.2" y1="536.4" x2="1855.2" y2="512.4" stroke="#d2d4d8" stroke-width="1.3"/><line x1="1736.5" y1="537.8" x2="1858.2" y2="513.6" stroke="#d2d4d8" stroke-width="1.3"/><line x1="1738.8" y1="539.3" x2="1861.1" y2="514.9" stroke="#d2d4d8" stroke-width="1.3"/><line x1="1741.1" y1="540.7" x2="1864.1" y2="516.1" stroke="#d2d4d8" stroke-width="1.3"/><line x1="1743.4" y1="542.2" x2="1867.1" y2="517.4" stroke="#d2d4d8" stroke-width="1.3"/><line x1="1745.7" y1="543.7" x2="1870.1" y2="518.6" stroke="#d2d4d8" stroke-width="1.4"/><line x1="1748" y1="545.1" x2="1873.1" y2="519.9" stroke="#d2d4d8" stroke-width="1.4"/><line x1="1750.4" y1="546.6" x2="1876.1" y2="521.2" stroke="#d2d4d8" stroke-width="1.4"/><line x1="1752.7" y1="548.1" x2="1879.2" y2="522.5" stroke="#d2d4d8" stroke-width="1.4"/><line x1="1755.1" y1="549.6" x2="1882.2" y2="523.7" stroke="#d2d4d8" stroke-width="1.4"/><line x1="1757.5" y1="551.1" x2="1885.3" y2="525" stroke="#d2d4d8" stroke-width="1.4"/><line x1="1759.9" y1="552.6" x2="1888.4" y2="526.3" stroke="#d2d4d8" stroke-width="1.4"/><line x1="1762.3" y1="554.2" x2="1891.5" y2="527.6" stroke="#d2d4d8" stroke-width="1.4"/><line x1="1764.7" y1="555.7" x2="1894.6" y2="529" stroke="#d2d4d8" stroke-width="1.4"/><line x1="1767.1" y1="557.2" x2="1897.7" y2="530.3" stroke="#d2d4d8" stroke-width="1.4"/><line x1="1769.5" y1="558.8" x2="1900.9" y2="531.6" stroke="#d2d4d8" stroke-width="1.4"/><line x1="1772" y1="560.3" x2="1904" y2="532.9" stroke="#d2d4d8" stroke-width="1.4"/><line x1="1774.5" y1="561.9" x2="1907.2" y2="534.3" stroke="#d2d4d8" stroke-width="1.4"/><line x1="1776.9" y1="563.5" x2="1910.4" y2="535.6" stroke="#d2d4d8" stroke-width="1.4"/><line x1="1779.4" y1="565" x2="1913.6" y2="537" stroke="#d2d4d8" stroke-width="1.5"/><line x1="1781.9" y1="566.6" x2="1916.8" y2="538.3" stroke="#d2d4d8" stroke-width="1.5"/><line x1="1784.5" y1="568.2" x2="1920.1" y2="539.7" stroke="#d2d4d8" stroke-width="1.5"/><line x1="1787" y1="569.8" x2="1923.3" y2="541.1" stroke="#d2d4d8" stroke-width="1.5"/><line x1="1789.5" y1="571.4" x2="1926.6" y2="542.4" stroke="#d2d4d8" stroke-width="1.5"/><line x1="1792.1" y1="573.1" x2="1929.9" y2="543.8" stroke="#d2d4d8" stroke-width="1.5"/><line x1="1794.7" y1="574.7" x2="1933.2" y2="545.2" stroke="#d2d4d8" stroke-width="1.5"/><line x1="1797.3" y1="576.3" x2="1936.5" y2="546.6" stroke="#d2d4d8" stroke-width="1.5"/><line x1="1799.9" y1="578" x2="1939.8" y2="548" stroke="#d2d4d8" stroke-width="1.5"/><line x1="1802.5" y1="579.6" x2="1943.1" y2="549.4" stroke="#d2d4d8" stroke-width="1.5"/><line x1="1805.1" y1="581.3" x2="1946.5" y2="550.8" stroke="#d2d4d8" stroke-width="1.5"/><line x1="1807.7" y1="583" x2="1949.9" y2="552.3" stroke="#d2d4d8" stroke-width="1.5"/><line x1="1810.4" y1="584.7" x2="1953.3" y2="553.7" stroke="#d2d4d8" stroke-width="1.5"/><line x1="1813.1" y1="586.3" x2="1956.7" y2="555.1" stroke="#d2d4d8" stroke-width="1.6"/><line x1="1815.7" y1="588" x2="1960.1" y2="556.6" stroke="#d2d4d8" stroke-width="1.6"/><line x1="1818.4" y1="589.8" x2="1963.6" y2="558" stroke="#d2d4d8" stroke-width="1.6"/><line x1="1821.2" y1="591.5" x2="1967" y2="559.5" stroke="#d2d4d8" stroke-width="1.6"/><line x1="1823.9" y1="593.2" x2="1970.5" y2="561" stroke="#d2d4d8" stroke-width="1.6"/><line x1="1826.6" y1="594.9" x2="1974" y2="562.4" stroke="#d2d4d8" stroke-width="1.6"/><line x1="1829.4" y1="596.7" x2="1977.5" y2="563.9" stroke="#d2d4d8" stroke-width="1.6"/><line x1="1832.2" y1="598.4" x2="1981.1" y2="565.4" stroke="#d2d4d8" stroke-width="1.6"/><line x1="1835" y1="600.2" x2="1984.6" y2="566.9" stroke="#d2d4d8" stroke-width="1.6"/><line x1="1837.8" y1="602" x2="1988.2" y2="568.4" stroke="#d2d4d8" stroke-width="1.6"/><line x1="1840.6" y1="603.8" x2="1991.8" y2="569.9" stroke="#d2d4d8" stroke-width="1.6"/><line x1="1843.4" y1="605.6" x2="1995.4" y2="571.5" stroke="#d2d4d8" stroke-width="1.7"/><line x1="1846.3" y1="607.4" x2="1999" y2="573" stroke="#d2d4d8" stroke-width="1.7"/><line x1="1849.1" y1="609.2" x2="2002.7" y2="574.5" stroke="#d2d4d8" stroke-width="1.7"/><line x1="1852" y1="611" x2="2006.3" y2="576.1" stroke="#d2d4d8" stroke-width="1.7"/><line x1="1854.9" y1="612.9" x2="2010" y2="577.6" stroke="#d2d4d8" stroke-width="1.7"/><line x1="1857.8" y1="614.7" x2="2013.7" y2="579.2" stroke="#d2d4d8" stroke-width="1.7"/><line x1="1860.8" y1="616.6" x2="2017.4" y2="580.8" stroke="#d2d4d8" stroke-width="1.7"/><line x1="1863.7" y1="618.4" x2="2021.2" y2="582.3" stroke="#d2d4d8" stroke-width="1.7"/><line x1="1866.7" y1="620.3" x2="2024.9" y2="583.9" stroke="#d2d4d8" stroke-width="1.7"/><line x1="1869.7" y1="622.2" x2="2028.7" y2="585.5" stroke="#d2d4d8" stroke-width="1.7"/><line x1="1872.7" y1="624.1" x2="2032.5" y2="587.1" stroke="#d2d4d8" stroke-width="1.8"/><line x1="1875.7" y1="626" x2="2036.3" y2="588.7" stroke="#d2d4d8" stroke-width="1.8"/><line x1="1878.7" y1="627.9" x2="2040.2" y2="590.3" stroke="#d2d4d8" stroke-width="1.8"/><line x1="1881.8" y1="629.9" x2="2044" y2="592" stroke="#d2d4d8" stroke-width="1.8"/><line x1="1884.8" y1="631.8" x2="2047.9" y2="593.6" stroke="#d2d4d8" stroke-width="1.8"/><line x1="1887.9" y1="633.8" x2="2051.8" y2="595.2" stroke="#d2d4d8" stroke-width="1.8"/><line x1="1891" y1="635.7" x2="2055.7" y2="596.9" stroke="#d2d4d8" stroke-width="1.8"/><line x1="1894.2" y1="637.7" x2="2059.7" y2="598.6" stroke="#d2d4d8" stroke-width="1.8"/><line x1="1897.3" y1="639.7" x2="2063.6" y2="600.2" stroke="#d2d4d8" stroke-width="1.8"/><line x1="1900.5" y1="641.7" x2="2067.6" y2="601.9" stroke="#d2d4d8" stroke-width="1.8"/><line x1="1903.6" y1="643.7" x2="2071.6" y2="603.6" stroke="#d2d4d8" stroke-width="1.9"/><line x1="1906.8" y1="645.8" x2="2075.7" y2="605.3" stroke="#d2d4d8" stroke-width="1.9"/><line x1="1910.1" y1="647.8" x2="2079.7" y2="607" stroke="#d2d4d8" stroke-width="1.9"/><line x1="1913.3" y1="649.8" x2="2083.8" y2="608.7" stroke="#d2d4d8" stroke-width="1.9"/><line x1="1916.5" y1="651.9" x2="2087.9" y2="610.5" stroke="#d2d4d8" stroke-width="1.9"/><line x1="1919.8" y1="654" x2="2092" y2="612.2" stroke="#d2d4d8" stroke-width="1.9"/><line x1="1923.1" y1="656.1" x2="2096.1" y2="613.9" stroke="#d2d4d8" stroke-width="1.9"/><line x1="1926.4" y1="658.2" x2="2100.3" y2="615.7" stroke="#d2d4d8" stroke-width="1.9"/><line x1="1929.8" y1="660.3" x2="2104.5" y2="617.5" stroke="#d2d4d8" stroke-width="1.9"/><line x1="1933.1" y1="662.4" x2="2108.7" y2="619.2" stroke="#d2d4d8" stroke-width="2"/><line x1="1936.5" y1="664.5" x2="2112.9" y2="621" stroke="#d2d4d8" stroke-width="2"/><line x1="1939.9" y1="666.7" x2="2117.2" y2="622.8" stroke="#d2d4d8" stroke-width="2"/><line x1="1943.3" y1="668.9" x2="2121.5" y2="624.6" stroke="#d2d4d8" stroke-width="2"/><line x1="1946.7" y1="671" x2="2125.8" y2="626.4" stroke="#d2d4d8" stroke-width="2"/><line x1="1950.2" y1="673.2" x2="2130.1" y2="628.3" stroke="#d2d4d8" stroke-width="2"/><line x1="1953.7" y1="675.4" x2="2134.5" y2="630.1" stroke="#d2d4d8" stroke-width="2"/><line x1="1957.2" y1="677.6" x2="2138.8" y2="631.9" stroke="#d2d4d8" stroke-width="2"/><line x1="1960.7" y1="679.9" x2="2143.2" y2="633.8" stroke="#d2d4d8" stroke-width="2.1"/><line x1="1964.3" y1="682.1" x2="2147.7" y2="635.7" stroke="#d2d4d8" stroke-width="2.1"/><line x1="1967.8" y1="684.4" x2="2152.1" y2="637.5" stroke="#d2d4d8" stroke-width="2.1"/><line x1="1971.4" y1="686.7" x2="2156.6" y2="639.4" stroke="#d2d4d8" stroke-width="2.1"/><line x1="1975" y1="688.9" x2="2161.1" y2="641.3" stroke="#d2d4d8" stroke-width="2.1"/><line x1="1978.7" y1="691.2" x2="2165.6" y2="643.2" stroke="#d2d4d8" stroke-width="2.1"/><line x1="1982.3" y1="693.6" x2="2170.2" y2="645.2" stroke="#d2d4d8" stroke-width="2.1"/><line x1="1986" y1="695.9" x2="2174.8" y2="647.1" stroke="#d2d4d8" stroke-width="2.1"/><line x1="1989.7" y1="698.2" x2="2179.4" y2="649" stroke="#d2d4d8" stroke-width="2.2"/><line x1="1993.4" y1="700.6" x2="2184" y2="651" stroke="#d2d4d8" stroke-width="2.2"/><line x1="1997.2" y1="703" x2="2188.7" y2="653" stroke="#d2d4d8" stroke-width="2.2"/><line x1="2001" y1="705.4" x2="2193.4" y2="655" stroke="#d2d4d8" stroke-width="2.2"/><line x1="2004.8" y1="707.8" x2="2198.1" y2="656.9" stroke="#d2d4d8" stroke-width="2.2"/><line x1="2008.6" y1="710.2" x2="2202.9" y2="658.9" stroke="#d2d4d8" stroke-width="2.2"/><line x1="2012.4" y1="712.6" x2="2207.6" y2="661" stroke="#d2d4d8" stroke-width="2.2"/><line x1="2016.3" y1="715.1" x2="2212.4" y2="663" stroke="#d2d4d8" stroke-width="2.3"/><line x1="2020.2" y1="717.6" x2="2217.3" y2="665" stroke="#d2d4d8" stroke-width="2.3"/><line x1="2024.1" y1="720.1" x2="2222.1" y2="667.1" stroke="#d2d4d8" stroke-width="2.3"/><polygon points="1786.8,483.5 1889.7,464.5 2385.7,634.4 2243.3,676" fill="#a3a6ac"/><line x1="1787.7" y1="483.9" x2="1890.4" y2="464.7" stroke="#d2d4d8" stroke-width="0.8"/><line x1="1789.5" y1="484.6" x2="1892.3" y2="465.4" stroke="#d2d4d8" stroke-width="0.8"/><line x1="1791.2" y1="485.4" x2="1894.3" y2="466.1" stroke="#d2d4d8" stroke-width="0.8"/><line x1="1793.1" y1="486.1" x2="1896.3" y2="466.8" stroke="#d2d4d8" stroke-width="0.8"/><line x1="1794.9" y1="486.9" x2="1898.3" y2="467.4" stroke="#d2d4d8" stroke-width="0.8"/><line x1="1796.7" y1="487.7" x2="1900.3" y2="468.1" stroke="#d2d4d8" stroke-width="0.8"/><line x1="1798.6" y1="488.5" x2="1902.4" y2="468.8" stroke="#d2d4d8" stroke-width="0.8"/><line x1="1800.5" y1="489.3" x2="1904.4" y2="469.5" stroke="#d2d4d8" stroke-width="0.8"/><line x1="1802.4" y1="490.1" x2="1906.5" y2="470.3" stroke="#d2d4d8" stroke-width="0.8"/><line x1="1804.3" y1="490.9" x2="1908.6" y2="471" stroke="#d2d4d8" stroke-width="0.8"/><line x1="1806.2" y1="491.7" x2="1910.7" y2="471.7" stroke="#d2d4d8" stroke-width="0.8"/><line x1="1808.2" y1="492.5" x2="1912.8" y2="472.4" stroke="#d2d4d8" stroke-width="0.8"/><line x1="1810.1" y1="493.3" x2="1915" y2="473.2" stroke="#d2d4d8" stroke-width="0.9"/><line x1="1812.1" y1="494.2" x2="1917.2" y2="473.9" stroke="#d2d4d8" stroke-width="0.9"/><line x1="1814.1" y1="495" x2="1919.4" y2="474.7" stroke="#d2d4d8" stroke-width="0.9"/><line x1="1816.2" y1="495.9" x2="1921.6" y2="475.4" stroke="#d2d4d8" stroke-width="0.9"/><line x1="1818.2" y1="496.7" x2="1923.8" y2="476.2" stroke="#d2d4d8" stroke-width="0.9"/><line x1="1820.3" y1="497.6" x2="1926.1" y2="477" stroke="#d2d4d8" stroke-width="0.9"/><line x1="1822.4" y1="498.5" x2="1928.4" y2="477.8" stroke="#d2d4d8" stroke-width="0.9"/><line x1="1824.5" y1="499.4" x2="1930.7" y2="478.5" stroke="#d2d4d8" stroke-width="0.9"/><line x1="1826.6" y1="500.3" x2="1933" y2="479.3" stroke="#d2d4d8" stroke-width="0.9"/><line x1="1828.8" y1="501.2" x2="1935.4" y2="480.2" stroke="#d2d4d8" stroke-width="0.9"/><line x1="1831" y1="502.1" x2="1937.8" y2="481" stroke="#d2d4d8" stroke-width="0.9"/><line x1="1833.2" y1="503" x2="1940.2" y2="481.8" stroke="#d2d4d8" stroke-width="1"/><line x1="1835.4" y1="504" x2="1942.6" y2="482.6" stroke="#d2d4d8" stroke-width="1"/><line x1="1837.6" y1="504.9" x2="1945.1" y2="483.5" stroke="#d2d4d8" stroke-width="1"/><line x1="1839.9" y1="505.9" x2="1947.6" y2="484.3" stroke="#d2d4d8" stroke-width="1"/><line x1="1842.2" y1="506.9" x2="1950.1" y2="485.2" stroke="#d2d4d8" stroke-width="1"/><line x1="1844.5" y1="507.8" x2="1952.6" y2="486" stroke="#d2d4d8" stroke-width="1"/><line x1="1846.9" y1="508.8" x2="1955.2" y2="486.9" stroke="#d2d4d8" stroke-width="1"/><line x1="1849.2" y1="509.8" x2="1957.7" y2="487.8" stroke="#d2d4d8" stroke-width="1"/><line x1="1851.6" y1="510.8" x2="1960.4" y2="488.7" stroke="#d2d4d8" stroke-width="1"/><line x1="1854.1" y1="511.9" x2="1963" y2="489.6" stroke="#d2d4d8" stroke-width="1.1"/><line x1="1856.5" y1="512.9" x2="1965.7" y2="490.5" stroke="#d2d4d8" stroke-width="1.1"/><line x1="1859" y1="513.9" x2="1968.4" y2="491.4" stroke="#d2d4d8" stroke-width="1.1"/><line x1="1861.5" y1="515" x2="1971.1" y2="492.4" stroke="#d2d4d8" stroke-width="1.1"/><line x1="1864" y1="516.1" x2="1973.9" y2="493.3" stroke="#d2d4d8" stroke-width="1.1"/><line x1="1866.6" y1="517.1" x2="1976.6" y2="494.3" stroke="#d2d4d8" stroke-width="1.1"/><line x1="1869.2" y1="518.2" x2="1979.5" y2="495.2" stroke="#d2d4d8" stroke-width="1.1"/><line x1="1871.8" y1="519.3" x2="1982.3" y2="496.2" stroke="#d2d4d8" stroke-width="1.1"/><line x1="1874.4" y1="520.4" x2="1985.2" y2="497.2" stroke="#d2d4d8" stroke-width="1.2"/><line x1="1877.1" y1="521.6" x2="1988.1" y2="498.2" stroke="#d2d4d8" stroke-width="1.2"/><line x1="1879.8" y1="522.7" x2="1991.1" y2="499.2" stroke="#d2d4d8" stroke-width="1.2"/><line x1="1882.5" y1="523.9" x2="1994" y2="500.2" stroke="#d2d4d8" stroke-width="1.2"/><line x1="1885.3" y1="525" x2="1997" y2="501.3" stroke="#d2d4d8" stroke-width="1.2"/><line x1="1888.1" y1="526.2" x2="2000.1" y2="502.3" stroke="#d2d4d8" stroke-width="1.2"/><line x1="1891" y1="527.4" x2="2003.2" y2="503.4" stroke="#d2d4d8" stroke-width="1.2"/><line x1="1893.8" y1="528.6" x2="2006.3" y2="504.4" stroke="#d2d4d8" stroke-width="1.2"/><line x1="1896.7" y1="529.9" x2="2009.5" y2="505.5" stroke="#d2d4d8" stroke-width="1.3"/><line x1="1899.7" y1="531.1" x2="2012.7" y2="506.6" stroke="#d2d4d8" stroke-width="1.3"/><line x1="1902.6" y1="532.4" x2="2015.9" y2="507.7" stroke="#d2d4d8" stroke-width="1.3"/><line x1="1905.7" y1="533.6" x2="2019.2" y2="508.8" stroke="#d2d4d8" stroke-width="1.3"/><line x1="1908.7" y1="534.9" x2="2022.5" y2="510" stroke="#d2d4d8" stroke-width="1.3"/><line x1="1911.8" y1="536.2" x2="2025.8" y2="511.1" stroke="#d2d4d8" stroke-width="1.3"/><line x1="1914.9" y1="537.5" x2="2029.2" y2="512.3" stroke="#d2d4d8" stroke-width="1.4"/><line x1="1918.1" y1="538.9" x2="2032.6" y2="513.5" stroke="#d2d4d8" stroke-width="1.4"/><line x1="1921.3" y1="540.2" x2="2036.1" y2="514.7" stroke="#d2d4d8" stroke-width="1.4"/><line x1="1924.5" y1="541.6" x2="2039.6" y2="515.9" stroke="#d2d4d8" stroke-width="1.4"/><line x1="1927.8" y1="543" x2="2043.2" y2="517.1" stroke="#d2d4d8" stroke-width="1.4"/><line x1="1931.1" y1="544.4" x2="2046.8" y2="518.3" stroke="#d2d4d8" stroke-width="1.4"/><line x1="1934.5" y1="545.8" x2="2050.4" y2="519.6" stroke="#d2d4d8" stroke-width="1.5"/><line x1="1937.9" y1="547.2" x2="2054.1" y2="520.8" stroke="#d2d4d8" stroke-width="1.5"/><line x1="1941.4" y1="548.7" x2="2057.9" y2="522.1" stroke="#d2d4d8" stroke-width="1.5"/><line x1="1944.9" y1="550.2" x2="2061.7" y2="523.4" stroke="#d2d4d8" stroke-width="1.5"/><line x1="1948.4" y1="551.6" x2="2065.5" y2="524.7" stroke="#d2d4d8" stroke-width="1.5"/><line x1="1952" y1="553.2" x2="2069.4" y2="526.1" stroke="#d2d4d8" stroke-width="1.6"/><line x1="1955.6" y1="554.7" x2="2073.3" y2="527.4" stroke="#d2d4d8" stroke-width="1.6"/><line x1="1959.3" y1="556.3" x2="2077.3" y2="528.8" stroke="#d2d4d8" stroke-width="1.6"/><line x1="1963.1" y1="557.8" x2="2081.4" y2="530.2" stroke="#d2d4d8" stroke-width="1.6"/><line x1="1966.9" y1="559.4" x2="2085.5" y2="531.6" stroke="#d2d4d8" stroke-width="1.7"/><line x1="1970.7" y1="561" x2="2089.6" y2="533" stroke="#d2d4d8" stroke-width="1.7"/><line x1="1974.6" y1="562.7" x2="2093.8" y2="534.4" stroke="#d2d4d8" stroke-width="1.7"/><line x1="1978.6" y1="564.4" x2="2098.1" y2="535.9" stroke="#d2d4d8" stroke-width="1.7"/><line x1="1982.6" y1="566" x2="2102.4" y2="537.4" stroke="#d2d4d8" stroke-width="1.7"/><line x1="1986.6" y1="567.8" x2="2106.8" y2="538.9" stroke="#d2d4d8" stroke-width="1.8"/><line x1="1990.7" y1="569.5" x2="2111.3" y2="540.4" stroke="#d2d4d8" stroke-width="1.8"/><line x1="1994.9" y1="571.3" x2="2115.8" y2="541.9" stroke="#d2d4d8" stroke-width="1.8"/><line x1="1999.2" y1="573" x2="2120.4" y2="543.5" stroke="#d2d4d8" stroke-width="1.8"/><line x1="2003.5" y1="574.9" x2="2125" y2="545.1" stroke="#d2d4d8" stroke-width="1.9"/><line x1="2007.8" y1="576.7" x2="2129.7" y2="546.7" stroke="#d2d4d8" stroke-width="1.9"/><line x1="2012.2" y1="578.6" x2="2134.5" y2="548.3" stroke="#d2d4d8" stroke-width="1.9"/><line x1="2016.7" y1="580.5" x2="2139.3" y2="550" stroke="#d2d4d8" stroke-width="2"/><line x1="2021.3" y1="582.4" x2="2144.2" y2="551.7" stroke="#d2d4d8" stroke-width="2"/><line x1="2025.9" y1="584.3" x2="2149.2" y2="553.4" stroke="#d2d4d8" stroke-width="2"/><line x1="2030.6" y1="586.3" x2="2154.3" y2="555.1" stroke="#d2d4d8" stroke-width="2.1"/><line x1="2035.4" y1="588.3" x2="2159.4" y2="556.9" stroke="#d2d4d8" stroke-width="2.1"/><line x1="2040.2" y1="590.4" x2="2164.6" y2="558.7" stroke="#d2d4d8" stroke-width="2.1"/><line x1="2045.2" y1="592.5" x2="2169.9" y2="560.5" stroke="#d2d4d8" stroke-width="2.1"/><line x1="2050.2" y1="594.6" x2="2175.3" y2="562.3" stroke="#d2d4d8" stroke-width="2.2"/><line x1="2055.2" y1="596.7" x2="2180.8" y2="564.2" stroke="#d2d4d8" stroke-width="2.2"/><line x1="2060.4" y1="598.9" x2="2186.3" y2="566.1" stroke="#d2d4d8" stroke-width="2.3"/><line x1="2065.6" y1="601.1" x2="2191.9" y2="568" stroke="#d2d4d8" stroke-width="2.3"/><line x1="2071" y1="603.3" x2="2197.6" y2="570" stroke="#d2d4d8" stroke-width="2.3"/><line x1="2076.4" y1="605.6" x2="2203.5" y2="572" stroke="#d2d4d8" stroke-width="2.4"/><line x1="2081.9" y1="607.9" x2="2209.4" y2="574" stroke="#d2d4d8" stroke-width="2.4"/><line x1="2081.9" y1="607.6" x2="2209.4" y2="573.7" stroke="#e2e3e6" stroke-width="0.9"/><line x1="2087.5" y1="610.3" x2="2215.4" y2="576.1" stroke="#d2d4d8" stroke-width="2.4"/><line x1="2087.5" y1="610" x2="2215.4" y2="575.8" stroke="#e2e3e6" stroke-width="0.9"/><line x1="2093.1" y1="612.7" x2="2221.5" y2="578.1" stroke="#d2d4d8" stroke-width="2.5"/><line x1="2093.1" y1="612.4" x2="2221.5" y2="577.8" stroke="#e2e3e6" stroke-width="0.9"/><line x1="2098.9" y1="615.1" x2="2227.6" y2="580.3" stroke="#d2d4d8" stroke-width="2.5"/><line x1="2098.9" y1="614.8" x2="2227.6" y2="580" stroke="#e2e3e6" stroke-width="0.9"/><line x1="2104.8" y1="617.6" x2="2233.9" y2="582.4" stroke="#d2d4d8" stroke-width="2.6"/><line x1="2104.8" y1="617.3" x2="2233.9" y2="582.1" stroke="#e2e3e6" stroke-width="0.9"/><line x1="2110.8" y1="620.1" x2="2240.4" y2="584.6" stroke="#d2d4d8" stroke-width="2.6"/><line x1="2110.8" y1="619.8" x2="2240.4" y2="584.3" stroke="#e2e3e6" stroke-width="0.9"/><line x1="2116.9" y1="622.7" x2="2246.9" y2="586.8" stroke="#d2d4d8" stroke-width="2.7"/><line x1="2116.9" y1="622.4" x2="2246.9" y2="586.5" stroke="#e2e3e6" stroke-width="1"/><line x1="2123" y1="625.3" x2="2253.5" y2="589.1" stroke="#d2d4d8" stroke-width="2.7"/><line x1="2123" y1="625" x2="2253.5" y2="588.8" stroke="#e2e3e6" stroke-width="1"/><line x1="2129.3" y1="627.9" x2="2260.2" y2="591.4" stroke="#d2d4d8" stroke-width="2.8"/><line x1="2129.3" y1="627.6" x2="2260.2" y2="591.1" stroke="#e2e3e6" stroke-width="1"/><line x1="2135.7" y1="630.6" x2="2267.1" y2="593.8" stroke="#d2d4d8" stroke-width="2.8"/><line x1="2135.7" y1="630.3" x2="2267.1" y2="593.4" stroke="#e2e3e6" stroke-width="1"/><line x1="2142.3" y1="633.4" x2="2274.1" y2="596.2" stroke="#d2d4d8" stroke-width="2.9"/><line x1="2142.3" y1="633.1" x2="2274.1" y2="595.8" stroke="#e2e3e6" stroke-width="1"/><line x1="2148.9" y1="636.2" x2="2281.2" y2="598.6" stroke="#d2d4d8" stroke-width="2.9"/><line x1="2148.9" y1="635.8" x2="2281.2" y2="598.2" stroke="#e2e3e6" stroke-width="1"/><line x1="2155.7" y1="639" x2="2288.4" y2="601.1" stroke="#d2d4d8" stroke-width="3"/><line x1="2155.7" y1="638.7" x2="2288.4" y2="600.7" stroke="#e2e3e6" stroke-width="1.1"/><line x1="2162.6" y1="642" x2="2295.7" y2="603.6" stroke="#d2d4d8" stroke-width="3"/><line x1="2162.6" y1="641.6" x2="2295.7" y2="603.2" stroke="#e2e3e6" stroke-width="1.1"/><line x1="2169.6" y1="644.9" x2="2303.2" y2="606.2" stroke="#d2d4d8" stroke-width="3.1"/><line x1="2169.6" y1="644.5" x2="2303.2" y2="605.8" stroke="#e2e3e6" stroke-width="1.1"/><line x1="2176.7" y1="647.9" x2="2310.9" y2="608.8" stroke="#d2d4d8" stroke-width="3.1"/><line x1="2176.7" y1="647.5" x2="2310.9" y2="608.4" stroke="#e2e3e6" stroke-width="1.1"/><line x1="2184" y1="651" x2="2318.6" y2="611.4" stroke="#d2d4d8" stroke-width="3.2"/><line x1="2184" y1="650.6" x2="2318.6" y2="611" stroke="#e2e3e6" stroke-width="1.1"/><line x1="2191.4" y1="654.1" x2="2326.5" y2="614.1" stroke="#d2d4d8" stroke-width="3.3"/><line x1="2191.4" y1="653.7" x2="2326.5" y2="613.7" stroke="#e2e3e6" stroke-width="1.2"/><line x1="2199" y1="657.3" x2="2334.6" y2="616.9" stroke="#d2d4d8" stroke-width="3.3"/><line x1="2199" y1="656.9" x2="2334.6" y2="616.5" stroke="#e2e3e6" stroke-width="1.2"/><line x1="2206.7" y1="660.6" x2="2342.8" y2="619.7" stroke="#d2d4d8" stroke-width="3.4"/><line x1="2206.7" y1="660.2" x2="2342.8" y2="619.3" stroke="#e2e3e6" stroke-width="1.2"/><line x1="2214.5" y1="663.9" x2="2351.2" y2="622.6" stroke="#d2d4d8" stroke-width="3.4"/><line x1="2214.5" y1="663.5" x2="2351.2" y2="622.2" stroke="#e2e3e6" stroke-width="1.2"/><line x1="2222.6" y1="667.2" x2="2359.7" y2="625.5" stroke="#d2d4d8" stroke-width="3.5"/><line x1="2222.6" y1="666.8" x2="2359.7" y2="625.1" stroke="#e2e3e6" stroke-width="1.3"/><line x1="2230.7" y1="670.7" x2="2368.4" y2="628.5" stroke="#d2d4d8" stroke-width="3.6"/><line x1="2230.7" y1="670.3" x2="2368.4" y2="628.1" stroke="#e2e3e6" stroke-width="1.3"/><line x1="2239.1" y1="674.2" x2="2377.3" y2="631.5" stroke="#d2d4d8" stroke-width="3.7"/><line x1="2239.1" y1="673.8" x2="2377.3" y2="631.1" stroke="#e2e3e6" stroke-width="1.3"/><polygon points="2069.8,709.5 2105.1,728 2243.3,676 2165.6,667.5" fill="#a3a6ac"/><line x1="2074.9" y1="708.7" x2="2199.2" y2="675.9" stroke="#d6d8dc" stroke-width="3.2"/><line x1="2074.9" y1="708.1" x2="2199.2" y2="675.3" stroke="#ebecee" stroke-width="1.3"/><line x1="2082" y1="712.9" x2="2210.2" y2="675.9" stroke="#d6d8dc" stroke-width="3.2"/><line x1="2082" y1="712.3" x2="2210.2" y2="675.3" stroke="#ebecee" stroke-width="1.3"/><line x1="2089.1" y1="717.1" x2="2221.2" y2="676" stroke="#d6d8dc" stroke-width="3.2"/><line x1="2089.1" y1="716.5" x2="2221.2" y2="675.4" stroke="#ebecee" stroke-width="1.3"/><line x1="2096.3" y1="721.3" x2="2232.3" y2="676" stroke="#d6d8dc" stroke-width="3.2"/><line x1="2096.3" y1="720.7" x2="2232.3" y2="675.4" stroke="#ebecee" stroke-width="1.3"/><line x1="2103.4" y1="725.5" x2="2243.3" y2="676" stroke="#d6d8dc" stroke-width="3.2"/><line x1="2103.4" y1="724.9" x2="2243.3" y2="675.4" stroke="#ebecee" stroke-width="1.3"/><linearGradient id="m3g" gradientUnits="userSpaceOnUse" x1="1700" y1="480" x2="2100" y2="640"><stop offset="0" stop-color="#fff" stop-opacity="0.38"/><stop offset="0.6" stop-color="#fff" stop-opacity="0.3"/><stop offset="1" stop-color="#fff" stop-opacity="0"/></linearGradient><polygon points="1681.8,503.2 1889.7,464.5 2197.2,569.8 1929.7,660.2" fill="url(#m3g)"/><polygon points="1743.8,542.5 1949.2,484.9 1988.9,498.5 1785.1,568.6" fill="#ffffff" opacity="0.35"/><polygon points="1826.4,594.8 2053.4,520.6 2073.2,527.4 1847.1,607.9" fill="#ffffff" opacity="0.3"/><polygon points="1682.7,500.6 1775.9,484.7 1767.5,490.6 1700.3,504" fill="#f3f3f4"/><polygon points="1792.7,481.3 1858.2,470.4 1878.4,470.4 1811.2,484.7" fill="#e9eaec"/><polygon points="1888,461.1 2173.4,557 2173.4,563.7 1888,467.3" fill="#f3f3f4" stroke="#cfd1d4" stroke-width="0.4"/><polygon points="1877.1,454.4 1884.6,446.9 1895.5,446.2 1898.2,457.8 1904.3,460.5 1903.6,467.9 1888,468.6 1878.5,464.5" fill="#e3e4e7" stroke="#b9bcc1" stroke-width="0.5"/><polygon points="1884.6,446.9 1895.5,446.2 1896.8,454.4 1886.6,455.7" fill="#c4c7cc"/><ellipse cx="1891.4" cy="444.8" rx="2.2" ry="2" fill="#4a4c51"/><polygon points="1895.5,459.1 1904.3,460.5 1903.6,466.6 1896.1,465.2" fill="#a7aaaf"/><polygon points="1977.3,486.6 1984.8,479.2 1995.7,478.5 1998.4,490 2004.5,492.7 2003.8,500.2 1988.2,500.9 1978.7,496.8" fill="#e3e4e7" stroke="#b9bcc1" stroke-width="0.5"/><polygon points="1984.8,479.2 1995.7,478.5 1997,486.6 1986.9,488" fill="#c4c7cc"/><ellipse cx="1991.6" cy="477.1" rx="2.2" ry="2" fill="#4a4c51"/><polygon points="1995.7,491.4 2004.5,492.7 2003.8,498.9 1996.4,497.5" fill="#a7aaaf"/><polygon points="2145.5,534.2 2153,526.7 2163.8,526 2166.6,537.6 2172.7,540.3 2172,547.8 2156.4,548.5 2146.9,544.4" fill="#e3e4e7" stroke="#b9bcc1" stroke-width="0.5"/><polygon points="2153,526.7 2163.8,526 2165.2,534.2 2155,535.5" fill="#c4c7cc"/><ellipse cx="2159.8" cy="524.7" rx="2.2" ry="2" fill="#4a4c51"/><polygon points="2163.8,538.9 2172.7,540.3 2172,546.4 2164.5,545.1" fill="#a7aaaf"/><rect x="1681.9" y="501.7" width="2.3" height="4.6" rx="0.8" fill="#2b54c9"/><rect x="1684.5" y="503.3" width="2.3" height="4.7" rx="0.8" fill="#2b54c9"/><rect x="1687.1" y="504.9" width="2.4" height="4.7" rx="0.8" fill="#2b54c9"/><rect x="1689.7" y="506.6" width="2.4" height="4.8" rx="0.8" fill="#2b54c9"/><rect x="1692.3" y="508.2" width="2.4" height="4.8" rx="0.8" fill="#2b54c9"/><rect x="1694.9" y="509.9" width="2.4" height="4.8" rx="0.8" fill="#2b54c9"/><rect x="1697.6" y="511.5" width="2.4" height="4.9" rx="0.9" fill="#2b54c9"/><rect x="1700.3" y="513.2" width="2.5" height="4.9" rx="0.9" fill="#2b54c9"/><rect x="1703" y="514.9" width="2.5" height="5" rx="0.9" fill="#2b54c9"/><rect x="1705.7" y="516.6" width="2.5" height="5" rx="0.9" fill="#2b54c9"/><rect x="1708.4" y="518.3" width="2.5" height="5.1" rx="0.9" fill="#2b54c9"/><rect x="1711.1" y="520" width="2.6" height="5.1" rx="0.9" fill="#2b54c9"/><rect x="1713.9" y="521.7" width="2.6" height="5.2" rx="0.9" fill="#2b54c9"/><rect x="1716.7" y="523.5" width="2.6" height="5.2" rx="0.9" fill="#2b54c9"/><rect x="1719.4" y="525.2" width="2.6" height="5.2" rx="0.9" fill="#2b54c9"/><rect x="1722.3" y="527" width="2.6" height="5.3" rx="0.9" fill="#2b54c9"/><rect x="1725.1" y="528.8" width="2.7" height="5.3" rx="0.9" fill="#2b54c9"/><rect x="1727.9" y="530.5" width="2.7" height="5.4" rx="0.9" fill="#2b54c9"/><rect x="1730.8" y="532.3" width="2.7" height="5.4" rx="1" fill="#2b54c9"/><rect x="1733.7" y="534.2" width="2.7" height="5.5" rx="1" fill="#2b54c9"/><rect x="1736.6" y="536" width="2.8" height="5.5" rx="1" fill="#2b54c9"/><rect x="1739.5" y="537.8" width="2.8" height="5.6" rx="1" fill="#2b54c9"/><rect x="1742.5" y="539.7" width="2.8" height="5.6" rx="1" fill="#2b54c9"/><rect x="1745.4" y="541.5" width="2.8" height="5.7" rx="1" fill="#2b54c9"/><rect x="1748.4" y="543.4" width="2.9" height="5.7" rx="1" fill="#2b54c9"/><rect x="1751.4" y="545.3" width="2.9" height="5.8" rx="1" fill="#2b54c9"/><rect x="1754.5" y="547.2" width="2.9" height="5.8" rx="1" fill="#2b54c9"/><rect x="1757.5" y="549.1" width="2.9" height="5.9" rx="1" fill="#2b54c9"/><rect x="1760.6" y="551" width="3" height="5.9" rx="1" fill="#2b54c9"/><rect x="1763.7" y="552.9" width="3" height="6" rx="1" fill="#2b54c9"/><rect x="1766.8" y="554.9" width="3" height="6" rx="1.1" fill="#2b54c9"/><rect x="1767.4" y="555.4" width="0.9" height="3" rx="0.5" fill="#5c86ea"/><rect x="1769.9" y="556.8" width="3" height="6.1" rx="1.1" fill="#2b54c9"/><rect x="1770.6" y="557.3" width="0.9" height="3" rx="0.5" fill="#5c86ea"/><rect x="1773.1" y="558.8" width="3.1" height="6.1" rx="1.1" fill="#2b54c9"/><rect x="1773.7" y="559.3" width="0.9" height="3.1" rx="0.5" fill="#5c86ea"/><rect x="1776.2" y="560.8" width="3.1" height="6.2" rx="1.1" fill="#2b54c9"/><rect x="1776.9" y="561.3" width="0.9" height="3.1" rx="0.5" fill="#5c86ea"/><rect x="1779.4" y="562.8" width="3.1" height="6.2" rx="1.1" fill="#2b54c9"/><rect x="1780.1" y="563.3" width="0.9" height="3.1" rx="0.5" fill="#5c86ea"/><rect x="1782.6" y="564.8" width="3.1" height="6.3" rx="1.1" fill="#2b54c9"/><rect x="1783.3" y="565.3" width="0.9" height="3.1" rx="0.5" fill="#5c86ea"/><rect x="1785.9" y="566.9" width="3.2" height="6.4" rx="1.1" fill="#2b54c9"/><rect x="1786.6" y="567.4" width="1" height="3.2" rx="0.5" fill="#5c86ea"/><rect x="1789.2" y="568.9" width="3.2" height="6.4" rx="1.1" fill="#2b54c9"/><rect x="1789.9" y="569.4" width="1" height="3.2" rx="0.5" fill="#5c86ea"/><rect x="1792.4" y="571" width="3.2" height="6.5" rx="1.1" fill="#2b54c9"/><rect x="1793.2" y="571.5" width="1" height="3.2" rx="0.5" fill="#5c86ea"/><rect x="1795.8" y="573.1" width="3.3" height="6.5" rx="1.1" fill="#2b54c9"/><rect x="1796.5" y="573.6" width="1" height="3.3" rx="0.5" fill="#5c86ea"/><rect x="1799.1" y="575.1" width="3.3" height="6.6" rx="1.1" fill="#2b54c9"/><rect x="1799.8" y="575.7" width="1" height="3.3" rx="0.5" fill="#5c86ea"/><rect x="1802.5" y="577.3" width="3.3" height="6.6" rx="1.2" fill="#2b54c9"/><rect x="1803.2" y="577.8" width="1" height="3.3" rx="0.5" fill="#5c86ea"/><rect x="1805.8" y="579.4" width="3.3" height="6.7" rx="1.2" fill="#2b54c9"/><rect x="1806.6" y="579.9" width="1" height="3.3" rx="0.5" fill="#5c86ea"/><rect x="1809.2" y="581.5" width="3.4" height="6.7" rx="1.2" fill="#2b54c9"/><rect x="1810" y="582.1" width="1" height="3.4" rx="0.5" fill="#5c86ea"/><rect x="1812.7" y="583.7" width="3.4" height="6.8" rx="1.2" fill="#2b54c9"/><rect x="1813.4" y="584.2" width="1" height="3.4" rx="0.5" fill="#5c86ea"/><rect x="1816.1" y="585.8" width="3.4" height="6.9" rx="1.2" fill="#2b54c9"/><rect x="1816.9" y="586.4" width="1" height="3.4" rx="0.5" fill="#5c86ea"/><rect x="1819.6" y="588" width="3.5" height="6.9" rx="1.2" fill="#2b54c9"/><rect x="1820.4" y="588.6" width="1" height="3.5" rx="0.5" fill="#5c86ea"/><rect x="1823.1" y="590.2" width="3.5" height="7" rx="1.2" fill="#2b54c9"/><rect x="1823.9" y="590.8" width="1" height="3.5" rx="0.5" fill="#5c86ea"/><rect x="1826.7" y="592.4" width="3.5" height="7" rx="1.2" fill="#2b54c9"/><rect x="1827.4" y="593" width="1.1" height="3.5" rx="0.5" fill="#5c86ea"/><rect x="1830.2" y="594.7" width="3.5" height="7.1" rx="1.2" fill="#2b54c9"/><rect x="1831" y="595.2" width="1.1" height="3.5" rx="0.5" fill="#5c86ea"/><rect x="1833.8" y="596.9" width="3.6" height="7.1" rx="1.3" fill="#2b54c9"/><rect x="1834.6" y="597.5" width="1.1" height="3.6" rx="0.5" fill="#5c86ea"/><rect x="1837.4" y="599.2" width="3.6" height="7.2" rx="1.3" fill="#2b54c9"/><rect x="1838.2" y="599.8" width="1.1" height="3.6" rx="0.5" fill="#5c86ea"/><rect x="1841.1" y="601.5" width="3.6" height="7.3" rx="1.3" fill="#2b54c9"/><rect x="1841.9" y="602" width="1.1" height="3.6" rx="0.5" fill="#5c86ea"/><rect x="1844.7" y="603.8" width="3.7" height="7.3" rx="1.3" fill="#2b54c9"/><rect x="1845.5" y="604.4" width="1.1" height="3.7" rx="0.5" fill="#5c86ea"/><rect x="1848.4" y="606.1" width="3.7" height="7.4" rx="1.3" fill="#2b54c9"/><rect x="1849.3" y="606.7" width="1.1" height="3.7" rx="0.6" fill="#5c86ea"/><rect x="1852.2" y="608.4" width="3.7" height="7.5" rx="1.3" fill="#2b54c9"/><rect x="1853" y="609" width="1.1" height="3.7" rx="0.6" fill="#5c86ea"/><rect x="1855.9" y="610.8" width="3.8" height="7.5" rx="1.3" fill="#2b54c9"/><rect x="1856.7" y="611.4" width="1.1" height="3.8" rx="0.6" fill="#5c86ea"/><rect x="1859.7" y="613.1" width="3.8" height="7.6" rx="1.3" fill="#2b54c9"/><rect x="1860.5" y="613.7" width="1.1" height="3.8" rx="0.6" fill="#5c86ea"/><rect x="1863.5" y="615.5" width="3.8" height="7.6" rx="1.3" fill="#2b54c9"/><rect x="1864.4" y="616.1" width="1.1" height="3.8" rx="0.6" fill="#5c86ea"/><rect x="1867.3" y="617.9" width="3.9" height="7.7" rx="1.3" fill="#2b54c9"/><rect x="1868.2" y="618.6" width="1.2" height="3.9" rx="0.6" fill="#5c86ea"/><rect x="1871.2" y="620.4" width="3.9" height="7.8" rx="1.4" fill="#2b54c9"/><rect x="1872.1" y="621" width="1.2" height="3.9" rx="0.6" fill="#5c86ea"/><rect x="1875.1" y="622.8" width="3.9" height="7.8" rx="1.4" fill="#2b54c9"/><rect x="1876" y="623.4" width="1.2" height="3.9" rx="0.6" fill="#5c86ea"/><rect x="1879" y="625.3" width="4" height="7.9" rx="1.4" fill="#2b54c9"/><rect x="1879.9" y="625.9" width="1.2" height="4" rx="0.6" fill="#5c86ea"/><rect x="1883" y="627.8" width="4" height="8" rx="1.4" fill="#2b54c9"/><rect x="1883.9" y="628.4" width="1.2" height="4" rx="0.6" fill="#5c86ea"/><rect x="1932.1" y="657.5" width="3.6" height="9.4" rx="1.3" fill="#2b54c9"/><rect x="1932.9" y="658.3" width="1.1" height="4.7" rx="0.5" fill="#5c86ea"/><rect x="1935.8" y="659.9" width="3.6" height="9.5" rx="1.3" fill="#2b54c9"/><rect x="1936.6" y="660.6" width="1.1" height="4.7" rx="0.5" fill="#5c86ea"/><rect x="1939.6" y="662.3" width="3.7" height="9.5" rx="1.3" fill="#2b54c9"/><rect x="1940.4" y="663" width="1.1" height="4.8" rx="0.5" fill="#5c86ea"/><rect x="1943.3" y="664.6" width="3.7" height="9.6" rx="1.3" fill="#2b54c9"/><rect x="1944.1" y="665.4" width="1.1" height="4.8" rx="0.6" fill="#5c86ea"/><rect x="1947.1" y="667" width="3.7" height="9.6" rx="1.3" fill="#2b54c9"/><rect x="1947.9" y="667.8" width="1.1" height="4.8" rx="0.6" fill="#5c86ea"/><rect x="1950.9" y="669.5" width="3.7" height="9.7" rx="1.3" fill="#2b54c9"/><rect x="1951.7" y="670.2" width="1.1" height="4.9" rx="0.6" fill="#5c86ea"/><rect x="1954.7" y="671.9" width="3.8" height="9.8" rx="1.3" fill="#2b54c9"/><rect x="1955.5" y="672.7" width="1.1" height="4.9" rx="0.6" fill="#5c86ea"/><rect x="1958.5" y="674.3" width="3.8" height="9.8" rx="1.3" fill="#2b54c9"/><rect x="1959.4" y="675.1" width="1.1" height="4.9" rx="0.6" fill="#5c86ea"/><rect x="1962.4" y="676.7" width="3.8" height="9.9" rx="1.3" fill="#2b54c9"/><rect x="1963.2" y="677.5" width="1.1" height="4.9" rx="0.6" fill="#5c86ea"/><rect x="1966.2" y="679.2" width="3.8" height="10" rx="1.3" fill="#2b54c9"/><rect x="1967.1" y="680" width="1.1" height="5" rx="0.6" fill="#5c86ea"/><rect x="1970.1" y="681.6" width="3.9" height="10" rx="1.3" fill="#2b54c9"/><rect x="1971" y="682.4" width="1.2" height="5" rx="0.6" fill="#5c86ea"/><rect x="1974" y="684.1" width="3.9" height="10.1" rx="1.4" fill="#2b54c9"/><rect x="1974.9" y="684.9" width="1.2" height="5" rx="0.6" fill="#5c86ea"/><rect x="1977.9" y="686.6" width="3.9" height="10.2" rx="1.4" fill="#2b54c9"/><rect x="1978.8" y="687.4" width="1.2" height="5.1" rx="0.6" fill="#5c86ea"/><rect x="1981.8" y="689.1" width="3.9" height="10.2" rx="1.4" fill="#2b54c9"/><rect x="1982.7" y="689.9" width="1.2" height="5.1" rx="0.6" fill="#5c86ea"/><rect x="1985.8" y="691.6" width="4" height="10.3" rx="1.4" fill="#2b54c9"/><rect x="1986.6" y="692.4" width="1.2" height="5.1" rx="0.6" fill="#5c86ea"/><rect x="1989.7" y="694.1" width="4" height="10.3" rx="1.4" fill="#2b54c9"/><rect x="1990.6" y="694.9" width="1.2" height="5.2" rx="0.6" fill="#5c86ea"/><rect x="1993.7" y="696.6" width="4" height="10.4" rx="1.4" fill="#2b54c9"/><rect x="1994.6" y="697.4" width="1.2" height="5.2" rx="0.6" fill="#5c86ea"/><rect x="1997.7" y="699.1" width="4" height="10.5" rx="1.4" fill="#2b54c9"/><rect x="1998.6" y="700" width="1.2" height="5.2" rx="0.6" fill="#5c86ea"/><rect x="2001.7" y="701.7" width="4.1" height="10.5" rx="1.4" fill="#2b54c9"/><rect x="2002.6" y="702.5" width="1.2" height="5.3" rx="0.6" fill="#5c86ea"/><rect x="2005.7" y="704.2" width="4.1" height="10.6" rx="1.4" fill="#2b54c9"/><rect x="2006.6" y="705.1" width="1.2" height="5.3" rx="0.6" fill="#5c86ea"/><rect x="2009.7" y="706.8" width="4.1" height="10.7" rx="1.4" fill="#2b54c9"/><rect x="2010.6" y="707.6" width="1.2" height="5.3" rx="0.6" fill="#5c86ea"/><rect x="2013.8" y="709.4" width="4.1" height="10.8" rx="1.4" fill="#2b54c9"/><rect x="2014.7" y="710.2" width="1.2" height="5.4" rx="0.6" fill="#5c86ea"/><rect x="2017.9" y="711.9" width="4.2" height="10.8" rx="1.5" fill="#2b54c9"/><rect x="2018.8" y="712.8" width="1.2" height="5.4" rx="0.6" fill="#5c86ea"/><rect x="2022" y="714.5" width="4.2" height="10.9" rx="1.5" fill="#2b54c9"/><rect x="2022.9" y="715.4" width="1.3" height="5.4" rx="0.6" fill="#5c86ea"/><rect x="1787.2" y="482.9" width="1.8" height="2.4" rx="0.6" fill="#2b54c9"/><rect x="1789.9" y="484" width="1.8" height="2.4" rx="0.6" fill="#2b54c9"/><rect x="1792.7" y="485.2" width="1.9" height="2.4" rx="0.6" fill="#2b54c9"/><rect x="1795.6" y="486.4" width="1.9" height="2.4" rx="0.7" fill="#2b54c9"/><rect x="1798.5" y="487.6" width="1.9" height="2.5" rx="0.7" fill="#2b54c9"/><rect x="1801.4" y="488.8" width="1.9" height="2.5" rx="0.7" fill="#2b54c9"/><rect x="1804.5" y="490.1" width="1.9" height="2.5" rx="0.7" fill="#2b54c9"/><rect x="1807.6" y="491.4" width="2" height="2.5" rx="0.7" fill="#2b54c9"/><rect x="1810.8" y="492.8" width="2" height="2.6" rx="0.7" fill="#2b54c9"/><rect x="1814.1" y="494.1" width="2" height="2.6" rx="0.7" fill="#2b54c9"/><rect x="1817.4" y="495.5" width="2" height="2.6" rx="0.7" fill="#2b54c9"/><rect x="1820.9" y="497" width="2.1" height="2.7" rx="0.7" fill="#2b54c9"/><rect x="1824.4" y="498.4" width="2.1" height="2.7" rx="0.7" fill="#2b54c9"/><rect x="1828" y="500" width="2.1" height="2.7" rx="0.7" fill="#2b54c9"/><rect x="1831.8" y="501.5" width="2.1" height="2.8" rx="0.7" fill="#2b54c9"/><rect x="1835.6" y="503.1" width="2.2" height="2.8" rx="0.8" fill="#2b54c9"/><rect x="1839.5" y="504.8" width="2.2" height="2.9" rx="0.8" fill="#2b54c9"/><rect x="1843.5" y="506.4" width="2.2" height="2.9" rx="0.8" fill="#2b54c9"/><rect x="1847.7" y="508.2" width="2.3" height="2.9" rx="0.8" fill="#2b54c9"/><rect x="1851.9" y="510" width="2.3" height="3" rx="0.8" fill="#2b54c9"/><rect x="1856.3" y="511.8" width="2.3" height="3" rx="0.8" fill="#2b54c9"/><rect x="1860.8" y="513.7" width="2.3" height="3.1" rx="0.8" fill="#2b54c9"/><rect x="1865.5" y="515.6" width="2.4" height="3.1" rx="0.8" fill="#2b54c9"/><rect x="1870.3" y="517.6" width="2.4" height="3.1" rx="0.8" fill="#2b54c9"/><rect x="1875.2" y="519.7" width="2.5" height="3.2" rx="0.9" fill="#2b54c9"/><rect x="1880.3" y="521.8" width="2.5" height="3.2" rx="0.9" fill="#2b54c9"/><rect x="1885.6" y="524" width="2.5" height="3.3" rx="0.9" fill="#2b54c9"/><rect x="1891" y="526.3" width="2.6" height="3.3" rx="0.9" fill="#2b54c9"/><rect x="1896.6" y="528.6" width="2.6" height="3.4" rx="0.9" fill="#2b54c9"/><rect x="1902.3" y="531.1" width="2.7" height="3.4" rx="0.9" fill="#2b54c9"/><rect x="1908.3" y="533.6" width="2.7" height="3.5" rx="0.9" fill="#2b54c9"/><rect x="1914.5" y="536.1" width="2.7" height="3.6" rx="1" fill="#2b54c9"/><rect x="1920.9" y="538.8" width="2.8" height="3.6" rx="1" fill="#2b54c9"/><rect x="1927.5" y="541.6" width="2.8" height="3.7" rx="1" fill="#2b54c9"/><rect x="1934.3" y="544.4" width="2.9" height="3.8" rx="1" fill="#2b54c9"/><rect x="1941.4" y="547.4" width="2.9" height="3.8" rx="1" fill="#2b54c9"/><rect x="1948.8" y="550.5" width="3" height="3.9" rx="1" fill="#2b54c9"/><rect x="1956.5" y="553.7" width="3" height="4" rx="1.1" fill="#2b54c9"/><rect x="1957.1" y="554" width="0.9" height="2" rx="0.5" fill="#5c86ea"/><rect x="1964.4" y="557" width="3.1" height="4" rx="1.1" fill="#2b54c9"/><rect x="1965.1" y="557.4" width="0.9" height="2" rx="0.5" fill="#5c86ea"/><rect x="1972.7" y="560.5" width="3.2" height="4.1" rx="1.1" fill="#2b54c9"/><rect x="1973.4" y="560.8" width="1" height="2.1" rx="0.5" fill="#5c86ea"/><rect x="2061.3" y="596.7" width="3.4" height="6.5" rx="1.2" fill="#2b54c9"/><rect x="2062.1" y="597.3" width="1" height="3.3" rx="0.5" fill="#5c86ea"/><rect x="2066.1" y="598.7" width="3.5" height="6.6" rx="1.2" fill="#2b54c9"/><rect x="2066.8" y="599.2" width="1" height="3.3" rx="0.5" fill="#5c86ea"/><rect x="2070.9" y="600.7" width="3.5" height="6.7" rx="1.2" fill="#2b54c9"/><rect x="2071.6" y="601.2" width="1.1" height="3.3" rx="0.5" fill="#5c86ea"/><rect x="2075.8" y="602.7" width="3.6" height="6.8" rx="1.2" fill="#2b54c9"/><rect x="2076.5" y="603.3" width="1.1" height="3.4" rx="0.5" fill="#5c86ea"/><rect x="2080.7" y="604.8" width="3.6" height="6.9" rx="1.3" fill="#2b54c9"/><rect x="2081.5" y="605.3" width="1.1" height="3.4" rx="0.5" fill="#5c86ea"/><rect x="2085.8" y="606.9" width="3.7" height="7" rx="1.3" fill="#2b54c9"/><rect x="2086.6" y="607.4" width="1.1" height="3.5" rx="0.5" fill="#5c86ea"/><rect x="2090.9" y="609" width="3.7" height="7.1" rx="1.3" fill="#2b54c9"/><rect x="2091.7" y="609.5" width="1.1" height="3.5" rx="0.6" fill="#5c86ea"/><rect x="2096.1" y="611.1" width="3.8" height="7.2" rx="1.3" fill="#2b54c9"/><rect x="2096.9" y="611.7" width="1.1" height="3.6" rx="0.6" fill="#5c86ea"/><rect x="2101.4" y="613.3" width="3.8" height="7.3" rx="1.3" fill="#2b54c9"/><rect x="2102.2" y="613.9" width="1.1" height="3.6" rx="0.6" fill="#5c86ea"/><rect x="2106.7" y="615.6" width="3.9" height="7.4" rx="1.4" fill="#2b54c9"/><rect x="2107.6" y="616.1" width="1.2" height="3.7" rx="0.6" fill="#5c86ea"/><rect x="2112.2" y="617.8" width="3.9" height="7.5" rx="1.4" fill="#2b54c9"/><rect x="2113.1" y="618.4" width="1.2" height="3.7" rx="0.6" fill="#5c86ea"/><rect x="2117.8" y="620.1" width="4" height="7.6" rx="1.4" fill="#2b54c9"/><rect x="2118.7" y="620.7" width="1.2" height="3.8" rx="0.6" fill="#5c86ea"/><rect x="2123.4" y="622.5" width="4" height="7.7" rx="1.4" fill="#2b54c9"/><rect x="2124.3" y="623.1" width="1.2" height="3.8" rx="0.6" fill="#5c86ea"/><rect x="2129.2" y="624.9" width="4.1" height="7.8" rx="1.4" fill="#2b54c9"/><rect x="2130.1" y="625.5" width="1.2" height="3.9" rx="0.6" fill="#5c86ea"/><rect x="2135" y="627.3" width="4.2" height="7.9" rx="1.5" fill="#2b54c9"/><rect x="2135.9" y="627.9" width="1.2" height="3.9" rx="0.6" fill="#5c86ea"/><rect x="2141" y="629.7" width="4.2" height="8" rx="1.5" fill="#2b54c9"/><rect x="2141.9" y="630.4" width="1.3" height="4" rx="0.6" fill="#5c86ea"/><rect x="2147" y="632.3" width="4.3" height="8.1" rx="1.5" fill="#2b54c9"/><rect x="2148" y="632.9" width="1.3" height="4.1" rx="0.6" fill="#5c86ea"/><rect x="2153.2" y="634.8" width="4.3" height="8.2" rx="1.5" fill="#2b54c9"/><rect x="2154.2" y="635.5" width="1.3" height="4.1" rx="0.7" fill="#5c86ea"/><rect x="2159.5" y="637.4" width="4.4" height="8.4" rx="1.5" fill="#2b54c9"/><rect x="2160.5" y="638.1" width="1.3" height="4.2" rx="0.7" fill="#5c86ea"/><rect x="2165.9" y="640.1" width="4.5" height="8.5" rx="1.6" fill="#2b54c9"/><rect x="2166.9" y="640.7" width="1.3" height="4.2" rx="0.7" fill="#5c86ea"/><rect x="2172.4" y="642.8" width="4.5" height="8.6" rx="1.6" fill="#2b54c9"/><rect x="2173.4" y="643.4" width="1.4" height="4.3" rx="0.7" fill="#5c86ea"/><rect x="2179" y="645.5" width="4.6" height="8.7" rx="1.6" fill="#2b54c9"/><rect x="2180" y="646.2" width="1.4" height="4.4" rx="0.7" fill="#5c86ea"/><rect x="2185.8" y="648.3" width="4.7" height="8.8" rx="1.6" fill="#2b54c9"/><rect x="2186.8" y="649" width="1.4" height="4.4" rx="0.7" fill="#5c86ea"/><rect x="2192.6" y="651.1" width="4.7" height="9" rx="1.7" fill="#2b54c9"/><rect x="2193.7" y="651.9" width="1.4" height="4.5" rx="0.7" fill="#5c86ea"/><rect x="2199.7" y="654.1" width="4.8" height="9.1" rx="1.7" fill="#2b54c9"/><rect x="2200.7" y="654.8" width="1.4" height="4.6" rx="0.7" fill="#5c86ea"/><rect x="2206.8" y="657" width="4.9" height="9.2" rx="1.7" fill="#2b54c9"/><rect x="2207.9" y="657.8" width="1.5" height="4.6" rx="0.7" fill="#5c86ea"/><rect x="2214.1" y="660" width="4.9" height="9.4" rx="1.7" fill="#2b54c9"/><rect x="2215.2" y="660.8" width="1.5" height="4.7" rx="0.7" fill="#5c86ea"/><rect x="2221.5" y="663.1" width="5" height="9.5" rx="1.8" fill="#2b54c9"/><rect x="2222.6" y="663.9" width="1.5" height="4.8" rx="0.8" fill="#5c86ea"/><rect x="2229.1" y="666.2" width="5.1" height="9.7" rx="1.8" fill="#2b54c9"/><rect x="2230.2" y="667" width="1.5" height="4.8" rx="0.8" fill="#5c86ea"/><rect x="2236.8" y="669.4" width="5.2" height="9.8" rx="1.8" fill="#2b54c9"/><rect x="2237.9" y="670.2" width="1.5" height="4.9" rx="0.8" fill="#5c86ea"/><rect x="2072.5" y="703.2" width="7.5" height="12.7" rx="2.6" fill="#2b54c9"/><rect x="2074.2" y="704.2" width="2.2" height="6.4" rx="1.1" fill="#5c86ea"/><rect x="2078.7" y="706.6" width="7.6" height="13" rx="2.7" fill="#2b54c9"/><rect x="2080.4" y="707.7" width="2.3" height="6.5" rx="1.1" fill="#5c86ea"/><rect x="2084.8" y="710" width="7.8" height="13.3" rx="2.7" fill="#2b54c9"/><rect x="2086.5" y="711.1" width="2.3" height="6.6" rx="1.2" fill="#5c86ea"/><rect x="2091" y="713.4" width="8" height="13.5" rx="2.8" fill="#2b54c9"/><rect x="2092.7" y="714.5" width="2.4" height="6.8" rx="1.2" fill="#5c86ea"/><rect x="2097.1" y="716.8" width="8.1" height="13.8" rx="2.8" fill="#2b54c9"/><rect x="2098.9" y="717.9" width="2.4" height="6.9" rx="1.2" fill="#5c86ea"/><polygon points="2374.7,626.3 2381.5,627.1 2383.7,636.8 2376.2,633.8" fill="#2b54c9"/><polygon points="1927,667.5 2026.1,729.7 2026.1,760.2 1929.1,695.2" fill="#ececee"/><polygon points="2026.1,729.7 2069.8,710.7 2071.5,743.4 2026.1,760.2" fill="#f3f3f4"/><polygon points="2071.5,711.5 2105.1,729.7 2105.1,777 2073.2,744.8" fill="#dddfe2"/><polygon points="2105.1,728.8 2250.8,686.8 2388.9,636.8 2388.5,664 2250.8,713.2 2105.1,777" fill="#f3f3f4" stroke="#d5d7da" stroke-width="0.4"/><polygon points="2105.1,766.6 2250.8,704 2388.5,656.2 2388.5,664 2250.8,713.2 2105.1,777" fill="#e9eaec"/><polygon points="2108.5,725.5 2260,683.5 2250.8,686.8" fill="#b4b7bc"/><g transform="translate(2195 728.8) rotate(-15.6) skewX(-18)"><path d="M0 0 L0 -10.5 L5.2 -10.5 L15.2 -0 L9.5 0 Z" fill="#1f5bb5"/><path d="M1.1 -15.2 L11.6 -15.2 Q17.8 -11.6 12.6 -5.8 L8.4 -5.8 Q11.6 -10.5 3.1 -11 Z" fill="#d8232a"/><text x="18.9" y="0" font-family="Liberation Sans, sans-serif" font-weight="bold" font-style="italic" font-size="14.5" fill="#1f5bb5" textLength="46.2" lengthAdjust="spacingAndGlyphs">HRCK</text><g transform="translate(68.2 -0.2)"><text class="cj" x="0" y="0" font-size="13.7" font-weight="bold" fill="#26262a">洪锐数控</text></g></g><polygon points="1994.2,743.1 2011.9,745.1 2018.1,795.5 1997.9,797.2" fill="#f3f3f4"/><polygon points="2011.9,745.1 2019.4,743.1 2024.5,778.4 2016.9,785.1" fill="#dddfe2"/><polygon points="2016.9,768.3 2104.3,758.2 2104.3,770.3 2018.1,783.8" fill="#e9eaec"/><polygon points="2103.4,770 2118.5,767.5 2118.5,774.2 2104.3,776.7" fill="#dddfe2"/><polygon points="1925.4,725.5 1944.7,728 1944.7,755.7 1925.4,744.8" fill="#e9eaec"/><polygon points="1913.6,746.8 1927.4,739.7 1947.5,753.2 1944.7,758.6 1930.4,760.2" fill="#dddfe2"/><polygon points="1888.4,591.6 1906.9,598.3 1922.3,725.8 1901.3,721.6" fill="#f5f5f6"/><polygon points="1888.4,591.6 1905.2,586.9 1922.8,594.4 1906.9,598.3" fill="#fbfbfb"/><polygon points="1906.9,598.3 1922.8,594.4 1931.2,726.6 1922.3,725.8" fill="#dddfe2"/><polygon points="1929.1,694.4 1937.1,696.1 1938,725.5 1930.4,726.3" fill="#3c3d41"/><polygon points="1901,578.5 1923.7,576.8 1926.2,596.1 1903.5,593.6" fill="#d4d6d9"/><line x1="1912.8" y1="560" x2="1912.8" y2="576.8" stroke="#2b2b2b" stroke-width="1.6"/><ellipse cx="1912.8" cy="565.9" rx="7.5" ry="2.6" fill="none" stroke="#2b2b2b" stroke-width="1.8"/><ellipse cx="1911.9" cy="576.8" rx="3.2" ry="2.2" fill="#d8402f"/><polygon points="1921.2,608.7 1979.1,562 1994.2,560 1997.6,570.4 1984.1,585.2 1937.1,627.2 1930.4,641 1922,630.6" fill="#f6f6f7" stroke="#d9dadd" stroke-width="0.4"/><polygon points="1921.2,608.7 1979.1,562 1987.5,566.7 1930.4,613.8" fill="#fdfdfd"/><polygon points="1990,560 2012.7,558.3 2019.4,602 2011,607.4 1997.6,576.8" fill="#a6a9ae"/><polygon points="1995.9,549.9 2009.3,548.2 2012.7,560 1995.9,561.7" fill="#3c3d41"/><polygon points="2007.7,585.2 2017.7,583.5 2020.3,602.8 2012.7,606.2" fill="#d7d9dc"/><polygon points="1937.1,626.4 1995.9,581.8 2011.4,622.5 2008,630.9 1950.6,644.3 1943,641" fill="#ee7a22"/><polygon points="1937.1,626.4 1995.9,581.8 1997.6,587.7 1941.3,631.4" fill="#f6923e"/><line x1="1953.9" y1="639" x2="1958.1" y2="637.6" stroke="#b5530f" stroke-width="1"/><line x1="1963.7" y1="636.6" x2="1967.9" y2="635.2" stroke="#b5530f" stroke-width="1"/><line x1="1973.4" y1="634.2" x2="1977.6" y2="632.8" stroke="#b5530f" stroke-width="1"/><line x1="1983.1" y1="631.9" x2="1987.3" y2="630.5" stroke="#b5530f" stroke-width="1"/><line x1="1992.9" y1="629.5" x2="1997.1" y2="628.1" stroke="#b5530f" stroke-width="1"/><line x1="2002.6" y1="627.2" x2="2006.8" y2="625.8" stroke="#b5530f" stroke-width="1"/><line x1="1958.3" y1="631.6" x2="1962.5" y2="630.2" stroke="#b5530f" stroke-width="1"/><line x1="1966.9" y1="629.5" x2="1971.1" y2="628.1" stroke="#b5530f" stroke-width="1"/><line x1="1975.4" y1="627.4" x2="1979.6" y2="626" stroke="#b5530f" stroke-width="1"/><line x1="1984" y1="625.3" x2="1988.2" y2="623.9" stroke="#b5530f" stroke-width="1"/><line x1="1992.6" y1="623.1" x2="1996.8" y2="621.7" stroke="#b5530f" stroke-width="1"/><line x1="1962.7" y1="624.3" x2="1966.9" y2="622.9" stroke="#b5530f" stroke-width="1"/><line x1="1970.1" y1="622.4" x2="1974.3" y2="621" stroke="#b5530f" stroke-width="1"/><line x1="1977.5" y1="620.5" x2="1981.7" y2="619.1" stroke="#b5530f" stroke-width="1"/><line x1="1984.9" y1="618.6" x2="1989.1" y2="617.2" stroke="#b5530f" stroke-width="1"/><line x1="1967.1" y1="617" x2="1971.3" y2="615.6" stroke="#b5530f" stroke-width="1"/><line x1="1973.3" y1="615.3" x2="1977.5" y2="613.9" stroke="#b5530f" stroke-width="1"/><line x1="1979.5" y1="613.7" x2="1983.7" y2="612.3" stroke="#b5530f" stroke-width="1"/><line x1="1971.4" y1="609.7" x2="1975.6" y2="608.3" stroke="#b5530f" stroke-width="1"/><line x1="1976.5" y1="608.3" x2="1980.7" y2="606.9" stroke="#b5530f" stroke-width="1"/><polygon points="1930.4,641.5 1950.6,644.3 2008,630.9 2009.3,633.9 1952.2,648.2 1929.6,645.7" fill="#6a6c71"/></g><g id="m4"><polygon points="1799.3,1183.8 1894.4,1224.6 1894.4,1238.9 1799.3,1198.1" fill="#e9eaec"/><polygon points="1931.8,1280.7 1974.2,1262 1974.2,1276.2 1931.8,1296.6" fill="#e9eaec"/><polygon points="1772.1,1160.1 1790.8,1166.8 1791.8,1245.7 1778.9,1241.6" fill="#f1f1f2"/><polygon points="1790.8,1166.8 1800,1170.2 1800,1249.1 1791.8,1245.7" fill="#dddfe2"/><polygon points="1774.8,1241.6 1782.3,1238.2 1806.8,1248.4 1795.9,1253.5" fill="#cfd1d5"/><polygon points="1894.4,1224.6 1921.6,1236.5 1922.3,1323.1 1897.8,1316.3" fill="#f1f1f2"/><polygon points="1921.6,1236.5 1932.5,1241.6 1932.5,1327.2 1922.3,1323.1" fill="#dddfe2"/><polygon points="1892,1321.4 1902.9,1316.3 1935.9,1333.3 1928.4,1340.8" fill="#cfd1d5"/><polygon points="1743.8,1119.2 1969.2,1203.2 1969.2,1259.8 1747.1,1139.7" fill="#d9dbde"/><polygon points="1743.8,1119.2 1969.2,1203.2 1969.2,1209.1 1744.1,1122.9" fill="#e7e8ea"/><polygon points="1746.8,1136.3 1969.2,1253.6 1969.2,1259.8 1747.1,1139.7" fill="#c9cbcf"/><polygon points="1777.4,1074.7 2057.5,1022.5 2383.6,1070 2389.1,1072.2 2265.5,1137.1 1982.3,1157.8" fill="#9fa2a8"/><polygon points="2040,1162.4 2265.5,1124.5 2370.2,1075.8 2388.2,1075.8 2388.2,1086.6 2268.2,1144.3 2265.5,1149.8 2121.2,1212 2043.6,1182.2" fill="#e3e4e7"/><clipPath id="m4c"><polygon points="1777.4,1074.7 2057.5,1022.5 2383.6,1070 2389.1,1075.8 2268.2,1134.4 2265.5,1124.5 1982.3,1157.8"/></clipPath><g clip-path="url(#m4c)"><line x1="2033.6" y1="1027" x2="2084.9" y2="1026.5" stroke="#c6c8cd" stroke-width="5.5"/><line x1="2033.6" y1="1026.2" x2="2084.9" y2="1025.7" stroke="#e4e5e8" stroke-width="2.2"/><line x1="1994.7" y1="1034.2" x2="2122.3" y2="1031.9" stroke="#c6c8cd" stroke-width="5"/><line x1="1994.7" y1="1033.5" x2="2122.3" y2="1031.2" stroke="#e4e5e8" stroke-width="2"/><line x1="1955.9" y1="1041.4" x2="2153" y2="1036.4" stroke="#c6c8cd" stroke-width="4.5"/><line x1="1955.9" y1="1040.8" x2="2153" y2="1035.8" stroke="#e4e5e8" stroke-width="1.8"/><line x1="1917.1" y1="1048.6" x2="2178.7" y2="1040.2" stroke="#c6c8cd" stroke-width="4.1"/><line x1="1917.1" y1="1048.1" x2="2178.7" y2="1039.6" stroke="#e4e5e8" stroke-width="1.7"/><line x1="1878.3" y1="1055.9" x2="2200.5" y2="1043.3" stroke="#c6c8cd" stroke-width="3.8"/><line x1="1878.3" y1="1055.3" x2="2200.5" y2="1042.8" stroke="#e4e5e8" stroke-width="1.5"/><line x1="1839.5" y1="1063.1" x2="2219.3" y2="1046.1" stroke="#c6c8cd" stroke-width="3.5"/><line x1="1839.5" y1="1062.6" x2="2219.3" y2="1045.6" stroke="#e4e5e8" stroke-width="1.4"/><line x1="1800.6" y1="1070.3" x2="2235.5" y2="1048.4" stroke="#c6c8cd" stroke-width="2.7"/><line x1="1800.6" y1="1070" x2="2235.5" y2="1048.1" stroke="#e4e5e8" stroke-width="1.1"/><line x1="1779.8" y1="1075.7" x2="2247.4" y2="1050.2" stroke="#c6c8cd" stroke-width="1.5"/><line x1="1779.8" y1="1075.5" x2="2247.4" y2="1050" stroke="#e4e5e8" stroke-width="0.6"/><line x1="1785" y1="1077.8" x2="2253.7" y2="1051.1" stroke="#c6c8cd" stroke-width="1.6"/><line x1="1785" y1="1077.5" x2="2253.7" y2="1050.9" stroke="#e4e5e8" stroke-width="0.6"/><line x1="1790.3" y1="1079.9" x2="2260.3" y2="1052" stroke="#c6c8cd" stroke-width="1.7"/><line x1="1790.3" y1="1079.7" x2="2260.3" y2="1051.8" stroke="#e4e5e8" stroke-width="0.7"/><line x1="1795.9" y1="1082.2" x2="2267" y2="1053" stroke="#c6c8cd" stroke-width="1.8"/><line x1="1795.9" y1="1082" x2="2267" y2="1052.8" stroke="#e4e5e8" stroke-width="0.7"/><line x1="1801.8" y1="1084.6" x2="2274" y2="1054" stroke="#c6c8cd" stroke-width="1.9"/><line x1="1801.8" y1="1084.3" x2="2274" y2="1053.8" stroke="#e4e5e8" stroke-width="0.7"/><line x1="1807.9" y1="1087.1" x2="2281.2" y2="1055.1" stroke="#c6c8cd" stroke-width="2"/><line x1="1807.9" y1="1086.8" x2="2281.2" y2="1054.8" stroke="#e4e5e8" stroke-width="0.8"/><line x1="1814.4" y1="1089.7" x2="2288.6" y2="1056.2" stroke="#c6c8cd" stroke-width="2.1"/><line x1="1814.4" y1="1089.4" x2="2288.6" y2="1055.9" stroke="#e4e5e8" stroke-width="0.8"/><line x1="1821.2" y1="1092.5" x2="2296.3" y2="1057.3" stroke="#c6c8cd" stroke-width="2.3"/><line x1="1821.2" y1="1092.1" x2="2296.3" y2="1057" stroke="#e4e5e8" stroke-width="0.9"/><line x1="1828.4" y1="1095.4" x2="2304.3" y2="1058.5" stroke="#c6c8cd" stroke-width="2.4"/><line x1="1828.4" y1="1095" x2="2304.3" y2="1058.1" stroke="#e4e5e8" stroke-width="1"/><line x1="1835.9" y1="1098.4" x2="2312.6" y2="1059.7" stroke="#c6c8cd" stroke-width="2.6"/><line x1="1835.9" y1="1098.1" x2="2312.6" y2="1059.3" stroke="#e4e5e8" stroke-width="1"/><line x1="1843.9" y1="1101.7" x2="2321.1" y2="1060.9" stroke="#c6c8cd" stroke-width="2.8"/><line x1="1843.9" y1="1101.3" x2="2321.1" y2="1060.5" stroke="#e4e5e8" stroke-width="1.1"/><line x1="1852.3" y1="1105.1" x2="2330" y2="1062.2" stroke="#c6c8cd" stroke-width="3"/><line x1="1852.3" y1="1104.7" x2="2330" y2="1061.8" stroke="#e4e5e8" stroke-width="1.2"/><line x1="1861.2" y1="1108.7" x2="2339.2" y2="1063.5" stroke="#c6c8cd" stroke-width="3.3"/><line x1="1861.2" y1="1108.2" x2="2339.2" y2="1063.1" stroke="#e4e5e8" stroke-width="1.3"/><line x1="1870.7" y1="1112.5" x2="2348.8" y2="1064.9" stroke="#c6c8cd" stroke-width="3.5"/><line x1="1870.7" y1="1112" x2="2348.8" y2="1064.4" stroke="#e4e5e8" stroke-width="1.4"/><line x1="1880.7" y1="1116.6" x2="2358.7" y2="1066.4" stroke="#c6c8cd" stroke-width="3.8"/><line x1="1880.7" y1="1116.1" x2="2358.7" y2="1065.8" stroke="#e4e5e8" stroke-width="1.5"/><line x1="1891.4" y1="1121" x2="2369.1" y2="1067.9" stroke="#c6c8cd" stroke-width="4.2"/><line x1="1891.4" y1="1120.4" x2="2369.1" y2="1067.3" stroke="#e4e5e8" stroke-width="1.7"/><line x1="1902.8" y1="1125.6" x2="2379.8" y2="1069.4" stroke="#c6c8cd" stroke-width="4.6"/><line x1="1902.8" y1="1124.9" x2="2379.8" y2="1068.8" stroke="#e4e5e8" stroke-width="1.8"/><line x1="1915" y1="1130.5" x2="2391" y2="1071.1" stroke="#c6c8cd" stroke-width="5.1"/><line x1="1915" y1="1129.8" x2="2391" y2="1070.4" stroke="#e4e5e8" stroke-width="2"/><line x1="1928.1" y1="1135.8" x2="2402.7" y2="1072.8" stroke="#c6c8cd" stroke-width="5.6"/><line x1="1928.1" y1="1135" x2="2402.7" y2="1072" stroke="#e4e5e8" stroke-width="2.3"/><line x1="1942.1" y1="1141.5" x2="2413.6" y2="1074.7" stroke="#c6c8cd" stroke-width="6.3"/><line x1="1942.1" y1="1140.7" x2="2413.6" y2="1073.9" stroke="#e4e5e8" stroke-width="2.5"/><line x1="1957.3" y1="1147.7" x2="2413.6" y2="1078.5" stroke="#c6c8cd" stroke-width="7.1"/><line x1="1957.3" y1="1146.7" x2="2413.6" y2="1077.6" stroke="#e4e5e8" stroke-width="2.8"/><line x1="1973.6" y1="1154.3" x2="2413.6" y2="1082.8" stroke="#c6c8cd" stroke-width="7.1"/><line x1="1973.6" y1="1153.3" x2="2413.6" y2="1081.8" stroke="#e4e5e8" stroke-width="2.8"/></g><ellipse cx="1952.1" cy="1048.1" rx="2.6" ry="2.1" fill="#3346c8"/><line x1="1947.9" y1="1045.5" x2="1948.7" y2="1050.7" stroke="#2fae8a" stroke-width="1.2"/><ellipse cx="1969.4" cy="1052.4" rx="2.9" ry="2.3" fill="#3346c8"/><line x1="1964.8" y1="1049.5" x2="1965.7" y2="1055.3" stroke="#2fae8a" stroke-width="1.2"/><ellipse cx="1987.8" cy="1056.8" rx="3.2" ry="2.6" fill="#3346c8"/><line x1="1982.6" y1="1053.6" x2="1983.6" y2="1060.1" stroke="#2fae8a" stroke-width="1.2"/><ellipse cx="2007.2" cy="1061.6" rx="3.6" ry="2.8" fill="#3346c8"/><line x1="2001.5" y1="1058" x2="2002.5" y2="1065.1" stroke="#2fae8a" stroke-width="1.2"/><ellipse cx="2027.7" cy="1066.6" rx="3.9" ry="3.1" fill="#3346c8"/><line x1="2021.4" y1="1062.7" x2="2022.6" y2="1070.4" stroke="#2fae8a" stroke-width="1.2"/><ellipse cx="2049.4" cy="1071.8" rx="4.2" ry="3.4" fill="#3346c8"/><line x1="2042.7" y1="1067.6" x2="2043.9" y2="1076" stroke="#2fae8a" stroke-width="1.2"/><ellipse cx="2072.4" cy="1077.5" rx="4.5" ry="3.6" fill="#3346c8"/><line x1="2065.2" y1="1072.9" x2="2066.6" y2="1082" stroke="#2fae8a" stroke-width="1.2"/><ellipse cx="2097" cy="1083.4" rx="4.8" ry="3.9" fill="#3346c8"/><line x1="2089.2" y1="1078.6" x2="2090.7" y2="1088.3" stroke="#2fae8a" stroke-width="1.2"/><ellipse cx="2123.1" cy="1089.8" rx="5.2" ry="4.1" fill="#3346c8"/><line x1="2114.8" y1="1084.6" x2="2116.4" y2="1095" stroke="#2fae8a" stroke-width="1.2"/><ellipse cx="2151" cy="1096.6" rx="5.5" ry="4.4" fill="#3346c8"/><line x1="2142.2" y1="1091.1" x2="2143.9" y2="1102.1" stroke="#2fae8a" stroke-width="1.2"/><ellipse cx="2180.8" cy="1103.9" rx="5.8" ry="4.6" fill="#3346c8"/><line x1="2171.6" y1="1098.1" x2="2173.3" y2="1109.7" stroke="#2fae8a" stroke-width="1.2"/><ellipse cx="2212.9" cy="1111.7" rx="6.1" ry="4.9" fill="#3346c8"/><line x1="2203.1" y1="1105.5" x2="2204.9" y2="1117.8" stroke="#2fae8a" stroke-width="1.2"/><ellipse cx="2247.3" cy="1120.1" rx="6.4" ry="5.2" fill="#3346c8"/><line x1="2237" y1="1113.6" x2="2238.9" y2="1126.5" stroke="#2fae8a" stroke-width="1.2"/><rect x="1858.1" y="1058.5" width="1.8" height="1.8" rx="0.6" fill="#3346c8"/><rect x="1881.5" y="1054.2" width="1.9" height="1.9" rx="0.7" fill="#3346c8"/><rect x="1904.8" y="1049.8" width="1.9" height="1.9" rx="0.7" fill="#3346c8"/><rect x="1928.1" y="1045.4" width="2" height="2" rx="0.7" fill="#3346c8"/><rect x="1951.4" y="1041.1" width="2" height="2" rx="0.7" fill="#3346c8"/><rect x="1974.8" y="1036.7" width="2" height="2" rx="0.7" fill="#3346c8"/><rect x="1998.1" y="1032.3" width="2.1" height="2.1" rx="0.7" fill="#3346c8"/><rect x="2021.4" y="1028" width="2.1" height="2.1" rx="0.7" fill="#3346c8"/><rect x="2044.7" y="1023.6" width="2.2" height="2.2" rx="0.8" fill="#3346c8"/><line x1="2029.2" y1="1153.4" x2="2269.1" y2="1058.6" stroke="#90939a" stroke-width="7.2"/><line x1="2029" y1="1152.8" x2="2268.9" y2="1058.1" stroke="#c3c5ca" stroke-width="5.8"/><line x1="2028.6" y1="1152" x2="2268.6" y2="1057.3" stroke="#eceded" stroke-width="2.2"/><line x1="2061.7" y1="1162.4" x2="2292.6" y2="1063.1" stroke="#90939a" stroke-width="7.6"/><line x1="2061.4" y1="1161.8" x2="2292.4" y2="1062.6" stroke="#c3c5ca" stroke-width="6.1"/><line x1="2061.1" y1="1161" x2="2292" y2="1061.8" stroke="#eceded" stroke-width="2.3"/><line x1="2092.3" y1="1171.4" x2="2337.7" y2="1068.6" stroke="#90939a" stroke-width="8"/><line x1="2092.1" y1="1170.8" x2="2337.5" y2="1068" stroke="#c3c5ca" stroke-width="6.4"/><line x1="2091.7" y1="1169.9" x2="2337.1" y2="1067.1" stroke="#eceded" stroke-width="2.4"/><line x1="2126.6" y1="1182.2" x2="2364.8" y2="1075.8" stroke="#90939a" stroke-width="8.4"/><line x1="2126.3" y1="1181.6" x2="2364.5" y2="1075.2" stroke="#c3c5ca" stroke-width="6.7"/><line x1="2125.9" y1="1180.7" x2="2364.1" y2="1074.2" stroke="#eceded" stroke-width="2.5"/><line x1="2227.6" y1="1126.3" x2="2335.9" y2="1079.4" stroke="#90939a" stroke-width="6.6"/><line x1="2227.4" y1="1125.8" x2="2335.7" y2="1078.9" stroke="#c3c5ca" stroke-width="5.3"/><line x1="2227.1" y1="1125.1" x2="2335.4" y2="1078.2" stroke="#eceded" stroke-width="2"/><line x1="2258.3" y1="1133.5" x2="2364.8" y2="1084.8" stroke="#90939a" stroke-width="7"/><line x1="2258.1" y1="1133" x2="2364.5" y2="1084.3" stroke="#c3c5ca" stroke-width="5.6"/><line x1="2257.7" y1="1132.2" x2="2364.2" y2="1083.5" stroke="#eceded" stroke-width="2.1"/><path d="M2055.7 1165.1 Q2060.7 1156.3 2065.6 1165.1 L2067.1 1178.1 L2054.2 1178.1 Z" fill="#3346c8"/><rect x="2059.2" y="1165.7" width="2.8" height="8.2" fill="#6f86ee"/><path d="M2086.1 1174.3 Q2091.3 1165 2096.5 1174.3 L2098.1 1187.9 L2084.5 1187.9 Z" fill="#3346c8"/><rect x="2089.8" y="1174.9" width="3" height="8.7" fill="#6f86ee"/><path d="M2120.1 1185.2 Q2125.6 1175.5 2131.1 1185.2 L2132.8 1199.6 L2118.4 1199.6 Z" fill="#3346c8"/><rect x="2124" y="1185.9" width="3.1" height="9.1" fill="#6f86ee"/><path d="M2222.3 1128.7 Q2226.6 1121 2230.9 1128.7 L2232.3 1139.9 L2221 1139.9 Z" fill="#3346c8"/><rect x="2225.4" y="1129.2" width="2.5" height="7.2" fill="#6f86ee"/><path d="M2252.8 1136 Q2257.3 1127.9 2261.9 1136 L2263.3 1148 L2251.3 1148 Z" fill="#3346c8"/><rect x="2256" y="1136.6" width="2.6" height="7.6" fill="#6f86ee"/><path d="M2198.8 1116.5 Q2202.4 1110.1 2206 1116.5 L2207.1 1125.8 L2197.7 1125.8 Z" fill="#3346c8"/><rect x="2201.4" y="1116.9" width="2" height="5.9" fill="#6f86ee"/><path d="M2222.3 1107.5 Q2225.8 1101.1 2229.4 1107.5 L2230.5 1116.8 L2221.2 1116.8 Z" fill="#3346c8"/><rect x="2224.8" y="1107.9" width="2" height="5.9" fill="#6f86ee"/><ellipse cx="2292.6" cy="1062.2" rx="3.2" ry="3.6" fill="#3346c8"/><ellipse cx="2312.4" cy="1068.6" rx="3.2" ry="3.6" fill="#3346c8"/><ellipse cx="2335.9" cy="1072.2" rx="3.2" ry="3.6" fill="#3346c8"/><ellipse cx="2363" cy="1079.4" rx="3.2" ry="3.6" fill="#3346c8"/><polygon points="2278.2,1044.2 2370.2,1060.4 2370.2,1068.2 2278.2,1051.8" fill="#d5d7da" stroke="#b4b6ba" stroke-width="0.5"/><polygon points="2370.2,1057.7 2390.4,1061.3 2389.5,1087 2372,1084.8" fill="#f3f3f4" stroke="#d5d7da" stroke-width="0.4"/><polygon points="2316,1045.1 2346.7,1039.7 2350.3,1048.7 2321.5,1052.3" fill="#cfd1d4"/><polygon points="1969.7,1202.3 2041.9,1178 2042.8,1233.8 1970.5,1260.3" fill="#f3f3f4" stroke="#dadbde" stroke-width="0.4"/><polygon points="2043.6,1182.2 2121.2,1211.5 2121.6,1270.6 2045.4,1234.6" fill="#e6e7e9"/><polygon points="2045.4,1223.7 2121.6,1259.8 2121.6,1270.6 2045.4,1234.6" fill="#f0f0f1"/><polygon points="2121.2,1211.5 2265.5,1147 2266.6,1193.1 2122.1,1270.6" fill="#f3f3f4" stroke="#dadbde" stroke-width="0.4"/><polygon points="2268.2,1134.4 2388.2,1075.8 2389.3,1126.3 2269.1,1182.6" fill="#f3f3f4" stroke="#dadbde" stroke-width="0.4"/><line x1="2267" y1="1144.3" x2="2267.7" y2="1183.1" stroke="#77797e" stroke-width="1.3"/><g transform="translate(2170.8 1222.8) rotate(-22.5) skewX(-18)"><path d="M0 0 L0 -5.6 L2.8 -5.6 L8.1 -0 L5 0 Z" fill="#1f5bb5"/><path d="M0.6 -8.1 L6.2 -8.1 Q9.5 -6.2 6.7 -3.1 L4.5 -3.1 Q6.2 -5.6 1.7 -5.9 Z" fill="#d8232a"/><text x="10.1" y="0" font-family="Liberation Sans, sans-serif" font-weight="bold" font-style="italic" font-size="7.7" fill="#1f5bb5" textLength="24.6" lengthAdjust="spacingAndGlyphs">HRCK</text><g transform="translate(36.4 -0.1)"><text class="cj" x="0" y="0" font-size="7.3" font-weight="bold" fill="#26262a">洪锐数控</text></g></g><g transform="translate(2307.4 1146.5) rotate(-23.5) skewX(-18)"><path d="M0 0 L0 -5 L2.5 -5 L7.2 -0 L4.5 0 Z" fill="#1f5bb5"/><path d="M0.5 -7.2 L5.5 -7.2 Q8.5 -5.5 6 -2.8 L4 -2.8 Q5.5 -5 1.5 -5.2 Z" fill="#d8232a"/><text x="9" y="0" font-family="Liberation Sans, sans-serif" font-weight="bold" font-style="italic" font-size="6.9" fill="#1f5bb5" textLength="22" lengthAdjust="spacingAndGlyphs">HRCK</text><g transform="translate(32.5 -0.1)"><text class="cj" x="0" y="0" font-size="6.5" font-weight="bold" fill="#26262a">洪锐数控</text></g></g><polygon points="1957.1,1262 1970.5,1260.3 1971.4,1269.5 1958.8,1271.2" fill="#c4c6ca"/><polygon points="2105.9,1270.6 2122.1,1270.6 2122.1,1281.5 2107.1,1281.5" fill="#d3d5d8"/><polygon points="1748.8,1088.1 1986,1167.1 1970.2,1203.2 1743.8,1119.2" fill="#eef0f2"/><polygon points="1748.8,1100.7 1975.6,1179.7 1970.2,1203.2 1743.8,1119.2" fill="#dfe1e4"/><path d="M1749.5 1094.1 Q1752.5 1088.8 1755.4 1094.1 L1756.3 1101.8 L1748.6 1101.8 Z" fill="#3346c8"/><rect x="1751.6" y="1094.4" width="1.7" height="4.9" fill="#6f86ee"/><path d="M1759.1 1097.2 Q1762.2 1091.6 1765.4 1097.2 L1766.4 1105.5 L1758.1 1105.5 Z" fill="#3346c8"/><rect x="1761.3" y="1097.6" width="1.8" height="5.2" fill="#6f86ee"/><path d="M1771.5 1103 Q1774.8 1097 1778.2 1103 L1779.2 1111.8 L1770.4 1111.8 Z" fill="#3346c8"/><rect x="1773.9" y="1103.4" width="1.9" height="5.6" fill="#6f86ee"/><path d="M1785.5 1109.5 Q1789.1 1103.1 1792.7 1109.5 L1793.8 1118.8 L1784.4 1118.8 Z" fill="#3346c8"/><rect x="1788.1" y="1109.9" width="2" height="5.9" fill="#6f86ee"/><path d="M1799.1 1116 Q1802.9 1109.3 1806.7 1116 L1807.8 1125.9 L1797.9 1125.9 Z" fill="#3346c8"/><rect x="1801.8" y="1116.5" width="2.2" height="6.3" fill="#6f86ee"/><path d="M1830.6 1128.3 Q1834.8 1120.8 1839 1128.3 L1840.3 1139.3 L1829.3 1139.3 Z" fill="#3346c8"/><rect x="1833.6" y="1128.8" width="2.4" height="7" fill="#6f86ee"/><path d="M1849.4 1136 Q1853.8 1128.1 1858.2 1136 L1859.6 1147.6 L1848 1147.6 Z" fill="#3346c8"/><rect x="1852.5" y="1136.5" width="2.5" height="7.3" fill="#6f86ee"/><path d="M1868.5 1144.2 Q1873.1 1136 1877.7 1144.2 L1879.2 1156.3 L1867.1 1156.3 Z" fill="#3346c8"/><rect x="1871.8" y="1144.8" width="2.6" height="7.7" fill="#6f86ee"/><path d="M1887.6 1155.5 Q1892.4 1146.9 1897.2 1155.5 L1898.7 1168.1 L1886.1 1168.1 Z" fill="#3346c8"/><rect x="1891" y="1156.1" width="2.8" height="8" fill="#6f86ee"/><path d="M1914 1163.5 Q1919.3 1154.2 1924.5 1163.5 L1926.2 1177.3 L1912.4 1177.3 Z" fill="#3346c8"/><rect x="1917.8" y="1164.2" width="3" height="8.8" fill="#6f86ee"/><path d="M1938.3 1173.3 Q1944 1163.1 1949.7 1173.3 L1951.4 1188.1 L1936.6 1188.1 Z" fill="#3346c8"/><rect x="1942.4" y="1173.9" width="3.2" height="9.4" fill="#6f86ee"/><path d="M1964.8 1183 Q1970.9 1172.1 1977 1183 L1978.8 1198.9 L1962.9 1198.9 Z" fill="#3346c8"/><rect x="1969.1" y="1183.7" width="3.5" height="10.1" fill="#6f86ee"/><polygon points="1748.8,1080.6 1986,1159.5 1986,1167.6 1748.8,1088.4" fill="#f5f5f6" stroke="#dcdde0" stroke-width="0.4"/><path d="M1975.6 1156.1 Q1987.3 1157.8 1985.6 1167.1 L1973.9 1178 Q1967.2 1175.5 1975.6 1164.5 Z" fill="#f5f5f6" stroke="#dcdde0" stroke-width="0.4"/><polygon points="1734.5,1077.2 1755.8,1082.6 1755.8,1117.8 1739.1,1117.8" fill="#f7f7f8" stroke="#dcdde0" stroke-width="0.5"/><polygon points="1807.6,1109.1 1829.8,1116.2 1829.8,1154.8 1811.3,1153.1" fill="#f7f7f8" stroke="#dcdde0" stroke-width="0.5"/><polygon points="1894.1,1142.7 1923.8,1153.1 1923.8,1196.8 1897,1193.4" fill="#f7f7f8" stroke="#dcdde0" stroke-width="0.5"/><polygon points="1710.2,1101.6 1733.7,1097.4 1744.1,1104.1 1744.1,1143 1717.2,1143 1711,1136.3" fill="#f0f0f1" stroke="#d8d9dc" stroke-width="0.5"/><polygon points="1733.7,1097.4 1744.1,1104.1 1744.1,1143 1734,1141" fill="#dddfe2"/><ellipse cx="1735.4" cy="1114.1" rx="2.2" ry="2.6" fill="#222"/><ellipse cx="1735.7" cy="1134.3" rx="2.2" ry="2.6" fill="#222"/><path d="M1736.2 1135.1 Q1743.8 1149.4 1757.2 1149.4" fill="none" stroke="#222" stroke-width="1.2"/><polygon points="1730.3,1060.4 1746.3,1065.4 1748,1117.8 1737.4,1117.8" fill="#f4f4f5"/><polygon points="1721.9,1038.6 1757.2,1043.6 1760.6,1060.4 1728.6,1068.8" fill="#b9bcc0"/><polygon points="1753.8,1042.8 1777.4,1041.1 1779.9,1060.4 1760.6,1064.6" fill="#26272a"/><path d="M1726.1 1035.2 C1732 1020.1 1784.1 1020.1 1789.9 1036.9 S1760.6 1050.3 1740.4 1041.9" fill="none" stroke="#232427" stroke-width="2.2"/><path d="M1730.3 1040.2 C1745.4 1026.8 1774 1026.8 1784.1 1041.9" fill="none" stroke="#232427" stroke-width="2"/></g>
<text class="cj" x="354.7" y="205.3" font-size="19.1" letter-spacing="0.35" fill="#4b4b4b">产品设备应用</text>
<text class="cj" x="488.4" y="205.3" font-size="19.1" letter-spacing="0.5" fill="#2d5ea9">封边机设备系列</text>
<text class="cj" x="1454.3" y="205.3" font-size="19.1" letter-spacing="0.35" fill="#4b4b4b">产品设备应用</text>
<text class="cj" x="1588" y="205.3" font-size="19.1" letter-spacing="0.5" fill="#2d5ea9">封边机设备系列</text>
<g transform="translate(190.0 306.0)"><clipPath id="bc496"><rect width="136.0" height="77.5" rx="8" ry="8"/></clipPath><g clip-path="url(#bc496)"><rect width="136.0" height="77.5" fill="url(#bdg)"/><path d="M86 0 L136 0 L136 46 C120 30 104 14 86 0Z" fill="url(#bdg2)"/><path d="M0 52 C18 60 40 70 60 77.5 L0 77.5Z" fill="url(#bdg2)" opacity="0.85"/></g></g>
<text class="cj" x="203" y="342.4" font-size="25.2" letter-spacing="1.6" fill="#ffffff" stroke="#ffffff" stroke-width="0.25">90度单排</text>
<text class="cj" x="193.4" y="369.8" font-size="25.2" letter-spacing="0.8" fill="#ffffff" stroke="#ffffff" stroke-width="0.25">锥型转向机</text>
<g transform="translate(190.0 871.0)"><clipPath id="bc1061"><rect width="136.0" height="77.5" rx="8" ry="8"/></clipPath><g clip-path="url(#bc1061)"><rect width="136.0" height="77.5" fill="url(#bdg)"/><path d="M86 0 L136 0 L136 46 C120 30 104 14 86 0Z" fill="url(#bdg2)"/><path d="M0 52 C18 60 40 70 60 77.5 L0 77.5Z" fill="url(#bdg2)" opacity="0.85"/></g></g>
<text class="cj" x="203" y="907.4" font-size="25.2" letter-spacing="1.6" fill="#ffffff" stroke="#ffffff" stroke-width="0.25">90度双排</text>
<text class="cj" x="193.4" y="934.8" font-size="25.2" letter-spacing="0.8" fill="#ffffff" stroke="#ffffff" stroke-width="0.25">锥型转向机</text>
<g transform="translate(1453.8 306.0)"><clipPath id="bc1759"><rect width="136.0" height="77.5" rx="8" ry="8"/></clipPath><g clip-path="url(#bc1759)"><rect width="136.0" height="77.5" fill="url(#bdg)"/><path d="M86 0 L136 0 L136 46 C120 30 104 14 86 0Z" fill="url(#bdg2)"/><path d="M0 52 C18 60 40 70 60 77.5 L0 77.5Z" fill="url(#bdg2)" opacity="0.85"/></g></g>
<text class="cj" x="1472.45" y="342.4" font-size="24.3" letter-spacing="0.5" fill="#ffffff" stroke="#ffffff" stroke-width="0.24">双排斜辊</text>
<text class="cj" x="1460.05" y="369.8" font-size="24.3" letter-spacing="0.5" fill="#ffffff" stroke="#ffffff" stroke-width="0.24">锥型转向机</text>
<g transform="translate(1453.8 871.0)"><clipPath id="bc2324"><rect width="136.0" height="77.5" rx="8" ry="8"/></clipPath><g clip-path="url(#bc2324)"><rect width="136.0" height="77.5" fill="url(#bdg)"/><path d="M86 0 L136 0 L136 46 C120 30 104 14 86 0Z" fill="url(#bdg2)"/><path d="M0 52 C18 60 40 70 60 77.5 L0 77.5Z" fill="url(#bdg2)" opacity="0.85"/></g></g>
<text class="cj" x="1466.4" y="907.4" font-size="26.2" letter-spacing="2" fill="#ffffff" stroke="#ffffff" stroke-width="0.26">双排斜辊</text>
<text class="cj" x="1466.4" y="934.8" font-size="26.2" letter-spacing="2" fill="#ffffff" stroke="#ffffff" stroke-width="0.26">进料辊台</text>
<path d="M369.0 1425.5 H1186.6 A17.4 17.4 0 0 1 1186.6 1460.3 H369.0 Z" fill="url(#hdr)"/>
<path d="M369.0 1425.5 H1186.6 A17.4 17.4 0 0 1 1186.6 1460.3 H369.0 Z" fill="url(#hdrv)"/>
<g transform="translate(369.90 1443.50) scale(1.0000)"><circle cx="0" cy="0" r="14.9" fill="#fff"/><path d="M-9.96 -8.56 L-7.47 -13.38 Q2.49 -14.63 9.03 -8.71 Q13.69 -1.87 9.03 4.36 Q7.47 6.54 5.29 7.47 L1.24 3.27 Q4.67 1.87 5.91 -1.87 Q6.54 -6.85 1.87 -8.25 Q-1.24 -8.71 -9.96 -8.56Z" fill="url(#rred)"/><path d="M-12.14 -5.29 L12.45 16.18 L5.91 16.18 L-1.56 8.4 L-9.49 8.4 Q-13.07 2.49 -12.14 -5.29Z" fill="url(#rblu)"/><path d="M-7.47 11.2 L-2.96 10.89 L1.87 16.34 L-0.31 16.34 Q-4.98 14.63 -7.47 11.2Z" fill="url(#rblu)"/><path d="M14.8 -17.6 A23 23 0 0 1 14.8 17.6" fill="none" stroke="#5a9ae6" stroke-width="0.7" opacity="0.55"/></g>
<text class="cj" x="415.6" y="1451.3" font-size="18.4" fill="#ffffff" stroke="#ffffff" stroke-width="0.26">主要参数</text>
<text class="cj" x="415.6" y="1486.1" font-size="17.4" letter-spacing="0.1" fill="#4c4c4c" stroke="#4c4c4c" stroke-width="0.17">外形尺寸</text>
<rect x="358.5" y="1496.4" width="844.5" height="34.6" rx="17.3" fill="#f3f3f3" filter="url(#soft)"/>
<text class="cj" x="415.6" y="1520.3" font-size="17.4" letter-spacing="0.1" fill="#4c4c4c" stroke="#4c4c4c" stroke-width="0.17">主梁规格</text>
<text class="cj" x="762.59" y="1520.5" font-size="15.6" letter-spacing="-0.2" fill="#565656" stroke="#565656" stroke-width="0.12">铝型材</text>
<text class="cj" x="986.99" y="1520.5" font-size="15.6" letter-spacing="-0.2" fill="#565656" stroke="#565656" stroke-width="0.12">铝型材</text>
<text class="cj" x="415.6" y="1554.6" font-size="17.4" letter-spacing="0.1" fill="#4c4c4c" stroke="#4c4c4c" stroke-width="0.17">辊筒直径</text>
<rect x="358.5" y="1565.0" width="844.5" height="34.6" rx="17.3" fill="#f3f3f3" filter="url(#soft)"/>
<text class="cj" x="415.6" y="1588.9" font-size="17.4" letter-spacing="0.1" fill="#4c4c4c" stroke="#4c4c4c" stroke-width="0.17">电机功率</text>
<text class="cj" x="415.6" y="1623.2" font-size="17.4" letter-spacing="0.1" fill="#4c4c4c" stroke="#4c4c4c" stroke-width="0.17">最大板件</text>
<rect x="358.5" y="1633.7" width="844.5" height="34.6" rx="17.3" fill="#f3f3f3" filter="url(#soft)"/>
<rect x="357.0" y="1634.6" width="848.0" height="35.4" rx="17.6" fill="none" stroke="url(#rowline)" stroke-width="1.6"/>
<text class="cj" x="415.6" y="1657.6" font-size="17.4" letter-spacing="0.1" fill="#4c4c4c" stroke="#4c4c4c" stroke-width="0.17">最小板件</text>
<path d="M1632.0 1425.5 H2449.6 A17.4 17.4 0 0 1 2449.6 1460.3 H1632.0 Z" fill="url(#hdr)"/>
<path d="M1632.0 1425.5 H2449.6 A17.4 17.4 0 0 1 2449.6 1460.3 H1632.0 Z" fill="url(#hdrv)"/>
<g transform="translate(1632.90 1443.50) scale(1.0000)"><circle cx="0" cy="0" r="14.9" fill="#fff"/><path d="M-9.96 -8.56 L-7.47 -13.38 Q2.49 -14.63 9.03 -8.71 Q13.69 -1.87 9.03 4.36 Q7.47 6.54 5.29 7.47 L1.24 3.27 Q4.67 1.87 5.91 -1.87 Q6.54 -6.85 1.87 -8.25 Q-1.24 -8.71 -9.96 -8.56Z" fill="url(#rred)"/><path d="M-12.14 -5.29 L12.45 16.18 L5.91 16.18 L-1.56 8.4 L-9.49 8.4 Q-13.07 2.49 -12.14 -5.29Z" fill="url(#rblu)"/><path d="M-7.47 11.2 L-2.96 10.89 L1.87 16.34 L-0.31 16.34 Q-4.98 14.63 -7.47 11.2Z" fill="url(#rblu)"/><path d="M14.8 -17.6 A23 23 0 0 1 14.8 17.6" fill="none" stroke="#5a9ae6" stroke-width="0.7" opacity="0.55"/></g>
<text class="cj" x="1678.6" y="1451.3" font-size="18.4" fill="#ffffff" stroke="#ffffff" stroke-width="0.26">主要参数</text>
<text class="cj" x="1678.6" y="1486.1" font-size="17.4" letter-spacing="0.1" fill="#4c4c4c" stroke="#4c4c4c" stroke-width="0.17">外形尺寸</text>
<rect x="1621.5" y="1496.4" width="844.5" height="34.6" rx="17.3" fill="#f3f3f3" filter="url(#soft)"/>
<text class="cj" x="1678.6" y="1520.3" font-size="17.4" letter-spacing="0.1" fill="#4c4c4c" stroke="#4c4c4c" stroke-width="0.17">主梁规格</text>
<text class="cj" x="2025.59" y="1520.5" font-size="15.6" letter-spacing="-0.2" fill="#565656" stroke="#565656" stroke-width="0.12">铝型材</text>
<text class="cj" x="2249.99" y="1520.5" font-size="15.6" letter-spacing="-0.2" fill="#565656" stroke="#565656" stroke-width="0.12">铝型材</text>
<text class="cj" x="1678.6" y="1554.6" font-size="17.4" letter-spacing="0.1" fill="#4c4c4c" stroke="#4c4c4c" stroke-width="0.17">辊筒直径</text>
<rect x="1621.5" y="1565.0" width="844.5" height="34.6" rx="17.3" fill="#f3f3f3" filter="url(#soft)"/>
<text class="cj" x="1678.6" y="1588.9" font-size="17.4" letter-spacing="0.1" fill="#4c4c4c" stroke="#4c4c4c" stroke-width="0.17">电机功率</text>
<text class="cj" x="1678.6" y="1623.2" font-size="17.4" letter-spacing="0.1" fill="#4c4c4c" stroke="#4c4c4c" stroke-width="0.17">最大板件</text>
<rect x="1621.5" y="1633.7" width="844.5" height="34.6" rx="17.3" fill="#f3f3f3" filter="url(#soft)"/>
<rect x="1620.0" y="1634.6" width="848.0" height="35.4" rx="17.6" fill="none" stroke="url(#rowline)" stroke-width="1.6"/>
<text class="cj" x="1678.6" y="1657.6" font-size="17.4" letter-spacing="0.1" fill="#4c4c4c" stroke="#4c4c4c" stroke-width="0.17">最小板件</text>
<path d="M2466 1706.2 H2586.6 V1740.6 H2466 A17.2 17.2 0 0 1 2466 1706.2Z" fill="url(#pgn)"/>
<path d="M2466 1706.2 H2586.6 V1740.6 H2466 A17.2 17.2 0 0 1 2466 1706.2Z" fill="url(#hdrv)"/>
<g transform="translate(2463.20 1724.40) scale(0.9799)"><circle cx="0" cy="0" r="14.9" fill="#fff"/><path d="M-9.96 -8.56 L-7.47 -13.38 Q2.49 -14.63 9.03 -8.71 Q13.69 -1.87 9.03 4.36 Q7.47 6.54 5.29 7.47 L1.24 3.27 Q4.67 1.87 5.91 -1.87 Q6.54 -6.85 1.87 -8.25 Q-1.24 -8.71 -9.96 -8.56Z" fill="url(#rred)"/><path d="M-12.14 -5.29 L12.45 16.18 L5.91 16.18 L-1.56 8.4 L-9.49 8.4 Q-13.07 2.49 -12.14 -5.29Z" fill="url(#rblu)"/><path d="M-7.47 11.2 L-2.96 10.89 L1.87 16.34 L-0.31 16.34 Q-4.98 14.63 -7.47 11.2Z" fill="url(#rblu)"/><path d="M14.8 -17.6 A23 23 0 0 1 14.8 17.6" fill="none" stroke="#5a9ae6" stroke-width="0.7" opacity="0.55"/></g>
<defs><linearGradient id="lg1" gradientUnits="userSpaceOnUse" x1="0" y1="153" x2="0" y2="228"><stop offset="0" stop-color="#1592da"/><stop offset="0.5" stop-color="#1a6fc4"/><stop offset="1" stop-color="#1c49a2"/></linearGradient>
<linearGradient id="lgA" gradientUnits="userSpaceOnUse" x1="0" y1="-880" x2="0" y2="100"><stop offset="0" stop-color="#1592da"/><stop offset="1" stop-color="#1a6dc2"/></linearGradient>
<linearGradient id="lgB" gradientUnits="userSpaceOnUse" x1="0" y1="-880" x2="0" y2="100"><stop offset="0" stop-color="#1a66be"/><stop offset="1" stop-color="#1c49a2"/></linearGradient></defs>
<g fill="url(#lg1)">
<path d="M189.9 155 L197.5 162.4 H243 L241.5 167.1 H202.8 L228 193.3 H221.2 L209 180.8 H196.3 L189.9 175.2Z"/>
<path d="M190 179.6 L202.8 192.6 H194.4 V222.4 H212 V227.6 H190Z"/>
<path d="M200.9 184.5 H207.5 L215.3 192.6 H208.7Z"/>
<path d="M325.7 155.1 V175.2 L319.8 180.7 H306.4 L294.6 193.1 H287.7 L308.3 172.1 H268 L269 167.7 H313.3Z"/>
<path d="M325.7 179.6 V227.6 H298.5 V222.4 H321.4 V192.6 H313Z"/>
<path d="M307.3 184.5 H314.8 L307 193.1 H300.2Z"/>
<g transform="translate(238.5 189.6) skewX(-12) scale(1.0 0.98)"><g transform="scale(0.0430)"><text class="cj" x="0" y="0" font-size="1000" font-weight="bold" fill="url(#lgA)" stroke="url(#lgA)" stroke-width="8">连</text></g></g>
<g transform="translate(202.5 224.8) skewX(-12) scale(1.13 0.97)"><g transform="scale(0.0310)"><text class="cj" x="0" y="0" font-size="1000" font-weight="bold" letter-spacing="6.5" fill="url(#lgB)" stroke="url(#lgB)" stroke-width="14">你所想</text></g></g>
</g>
<g transform="translate(2105 135) scale(0.06969)" stroke-linejoin="round">
<path d="M205 125 L612 162 C590 260 568 420 572 600 C580 800 660 1000 810 1085 L660 1310 C400 1290 170 1000 155 620 C150 400 170 220 205 125Z" fill="#e66a14"/>
<path d="M950 275 C870 300 810 400 795 520 C780 700 810 860 875 975 C940 880 1000 740 1010 560 C1020 420 990 330 950 275Z" fill="#e66a14"/>
<path d="M1290 1000 L1430 1065 C1390 1120 1350 1160 1300 1200 C1250 1215 1200 1205 1165 1190 C1220 1130 1260 1070 1290 1000Z" fill="#e66a14"/>
<path d="M1590 410 C1520 430 1475 500 1468 600 C1465 700 1500 790 1565 850 C1600 780 1625 680 1622 580 C1620 500 1610 450 1590 410Z" fill="#e66a14"/>
<path d="M1860 870 C1900 920 1960 950 2075 958 C2010 1010 1900 1040 1815 1015 C1840 960 1855 910 1860 870Z" fill="#e66a14"/>
<path d="M660 1310 C800 1340 960 1330 1060 1270 C1230 1160 1360 900 1385 620 C1395 450 1330 330 1230 315 L950 275 C1000 360 1030 520 1000 700 C975 860 900 1000 810 1085Z" fill="#fff" stroke="#e0691a" stroke-width="7"/>
<path d="M1310 965 L1565 850 C1530 940 1480 1010 1430 1065 L1290 1000Z" fill="#fff" stroke="#e0691a" stroke-width="6"/>
<path d="M1300 1200 C1450 1230 1600 1200 1720 1100 C1840 990 1900 820 1905 640 C1905 540 1880 470 1830 440 L1590 410 C1620 480 1630 600 1610 720 C1590 830 1530 960 1430 1065Z" fill="#fff" stroke="#e0691a" stroke-width="7"/>
</g>
<g transform="translate(2255.3 187.6) scale(1.035 1)"><text class="cjt" x="0" y="0" font-size="41.5" font-weight="bold" fill="#1b1412">華倫機械</text></g>

</svg>
<div class="t " style="left:477.30px;top:189.64px;font-size:18.50px;line-height:18.50px;color:#2d5ea9;font-style:italic;">/</div>
<div class="t " style="left:630.80px;top:189.64px;font-size:18.50px;line-height:18.50px;color:#2d5ea9;font-style:italic;">/</div>
<div class="t " style="left:354.70px;top:213.50px;font-size:14.30px;line-height:14.30px;color:#b0b0b0;letter-spacing:0.400px;">Product equipment application/edge banding machine equipment series/</div>
<div class="t " style="left:1576.90px;top:189.64px;font-size:18.50px;line-height:18.50px;color:#2d5ea9;font-style:italic;">/</div>
<div class="t " style="left:1730.40px;top:189.64px;font-size:18.50px;line-height:18.50px;color:#2d5ea9;font-style:italic;">/</div>
<div class="t " style="left:1454.30px;top:213.50px;font-size:14.30px;line-height:14.30px;color:#b0b0b0;letter-spacing:0.400px;">Product equipment application/edge banding machine equipment series/</div>
<div class="t" style="left:356.90px;top:309.81px;font-size:37.20px;line-height:37.20px;transform-origin:0 0;transform:scaleX(0.9298);color:#989898"><span style="color:#2d59a6">HR-</span>DPZ5015</div>
<div class="t " style="left:358.30px;top:354.70px;font-size:18.90px;line-height:18.90px;color:#3563ab;letter-spacing:0.164px;">90 degree single row cone steering gear</div>
<div class="t" style="left:356.90px;top:874.81px;font-size:37.20px;line-height:37.20px;transform-origin:0 0;transform:scaleX(0.8932);color:#989898"><span style="color:#2d59a6">HR-</span>SPZ6028</div>
<div class="t " style="left:358.30px;top:919.70px;font-size:18.90px;line-height:18.90px;color:#3563ab;letter-spacing:0.346px;">90 degree double row cone steering gear</div>
<div class="t" style="left:1620.70px;top:309.81px;font-size:37.20px;line-height:37.20px;transform-origin:0 0;transform:scaleX(0.8987);color:#989898"><span style="color:#2d59a6">HR-</span>SXZ7028</div>
<div class="t " style="left:1622.10px;top:354.70px;font-size:18.90px;line-height:18.90px;color:#3563ab;letter-spacing:0.226px;">Double row inclined roll cone steering machine</div>
<div class="t" style="left:1620.70px;top:874.81px;font-size:37.20px;line-height:37.20px;transform-origin:0 0;transform:scaleX(0.9157);color:#989898"><span style="color:#2d59a6">HR-</span>SPJ3028</div>
<div class="t " style="left:1622.10px;top:919.70px;font-size:18.90px;line-height:18.90px;color:#3563ab;letter-spacing:0.254px;">Double row inclined roller feed table</div>
<div class="t " style="left:499.20px;top:1438.15px;font-size:12.70px;line-height:12.70px;color:#e9f0fa;letter-spacing:0.087px;">Main parameters</div>
<div class="t " style="left:710.60px;top:1434.13px;font-size:20.40px;line-height:20.40px;color:#f1f5fb;transform-origin:0 0;transform:scaleX(0.8657);">HR-DPZ5015</div>
<div class="t " style="left:935.00px;top:1434.13px;font-size:20.40px;line-height:20.40px;color:#f1f5fb;transform-origin:0 0;transform:scaleX(0.8779);">HR-SPZ6028</div>
<div class="t " style="left:510.70px;top:1471.72px;font-size:15.10px;line-height:15.10px;color:#a9a9a9;letter-spacing:0.094px;">Overall dimensions</div>
<div class="t " style="left:710.60px;top:1471.07px;font-size:17.40px;line-height:17.40px;color:#565656;transform-origin:0 0;transform:scaleX(0.9282);">5000*1415*950mm(±50)</div>
<div class="t " style="left:935.00px;top:1471.07px;font-size:17.40px;line-height:17.40px;color:#565656;transform-origin:0 0;transform:scaleX(0.9282);">6000*2830*950mm(±50)</div>
<div class="t " style="left:510.70px;top:1505.92px;font-size:15.10px;line-height:15.10px;color:#a9a9a9;letter-spacing:0.498px;">Main beam specifications</div>
<div class="t " style="left:710.60px;top:1505.27px;font-size:17.40px;line-height:17.40px;color:#565656;transform-origin:0 0;transform:scaleX(0.9282);">240*50</div>
<div class="t " style="left:935.00px;top:1505.27px;font-size:17.40px;line-height:17.40px;color:#565656;transform-origin:0 0;transform:scaleX(0.9282);">240*50</div>
<div class="t " style="left:510.70px;top:1540.22px;font-size:15.10px;line-height:15.10px;color:#a9a9a9;letter-spacing:0.039px;">Roller Diamter</div>
<div class="t " style="left:714.10px;top:1542.57px;font-size:13.50px;line-height:13.50px;color:#565656;">ϕ</div>
<div class="t " style="left:725.40px;top:1539.57px;font-size:17.40px;line-height:17.40px;color:#565656;transform-origin:0 0;transform:scaleX(0.9282);">54mm</div>
<div class="t " style="left:938.50px;top:1542.57px;font-size:13.50px;line-height:13.50px;color:#565656;">ϕ</div>
<div class="t " style="left:949.80px;top:1539.57px;font-size:17.40px;line-height:17.40px;color:#565656;transform-origin:0 0;transform:scaleX(0.9282);">54mm</div>
<div class="t " style="left:510.70px;top:1574.52px;font-size:15.10px;line-height:15.10px;color:#a9a9a9;letter-spacing:0.708px;">Motor power</div>
<div class="t " style="left:710.60px;top:1573.87px;font-size:17.40px;line-height:17.40px;color:#565656;transform-origin:0 0;transform:scaleX(0.9282);">2.25kw</div>
<div class="t " style="left:935.00px;top:1573.87px;font-size:17.40px;line-height:17.40px;color:#565656;transform-origin:0 0;transform:scaleX(0.9282);">2.25kw</div>
<div class="t " style="left:510.70px;top:1608.82px;font-size:15.10px;line-height:15.10px;color:#a9a9a9;letter-spacing:0.329px;">Maximum Plate</div>
<div class="t " style="left:710.60px;top:1608.17px;font-size:17.40px;line-height:17.40px;color:#565656;transform-origin:0 0;transform:scaleX(0.9282);">1200*1200mm</div>
<div class="t " style="left:935.00px;top:1608.17px;font-size:17.40px;line-height:17.40px;color:#565656;transform-origin:0 0;transform:scaleX(0.9282);">2800*1200mm</div>
<div class="t " style="left:510.70px;top:1643.22px;font-size:15.10px;line-height:15.10px;color:#a9a9a9;letter-spacing:0.262px;">Minimum Plate</div>
<div class="t " style="left:710.60px;top:1642.57px;font-size:17.40px;line-height:17.40px;color:#565656;transform-origin:0 0;transform:scaleX(0.9282);">180*180mm</div>
<div class="t " style="left:935.00px;top:1642.57px;font-size:17.40px;line-height:17.40px;color:#565656;transform-origin:0 0;transform:scaleX(0.9282);">180*180mm</div>
<div class="t " style="left:1762.20px;top:1438.15px;font-size:12.70px;line-height:12.70px;color:#e9f0fa;letter-spacing:0.087px;">Main parameters</div>
<div class="t " style="left:1973.60px;top:1434.13px;font-size:20.40px;line-height:20.40px;color:#f1f5fb;transform-origin:0 0;transform:scaleX(0.8738);">HR-SXZ7028</div>
<div class="t " style="left:2198.00px;top:1434.13px;font-size:20.40px;line-height:20.40px;color:#f1f5fb;transform-origin:0 0;transform:scaleX(0.8946);">HR-SPJ3028</div>
<div class="t " style="left:1773.70px;top:1471.72px;font-size:15.10px;line-height:15.10px;color:#a9a9a9;letter-spacing:0.094px;">Overall dimensions</div>
<div class="t " style="left:1973.60px;top:1471.07px;font-size:17.40px;line-height:17.40px;color:#565656;transform-origin:0 0;transform:scaleX(0.9282);">7000*2830*950mm(±50)</div>
<div class="t " style="left:2198.00px;top:1471.07px;font-size:17.40px;line-height:17.40px;color:#565656;transform-origin:0 0;transform:scaleX(0.9282);">3000*2830*950mm(±50)</div>
<div class="t " style="left:1773.70px;top:1505.92px;font-size:15.10px;line-height:15.10px;color:#a9a9a9;letter-spacing:0.498px;">Main beam specifications</div>
<div class="t " style="left:1973.60px;top:1505.27px;font-size:17.40px;line-height:17.40px;color:#565656;transform-origin:0 0;transform:scaleX(0.9282);">240*50</div>
<div class="t " style="left:2198.00px;top:1505.27px;font-size:17.40px;line-height:17.40px;color:#565656;transform-origin:0 0;transform:scaleX(0.9282);">240*50</div>
<div class="t " style="left:1773.70px;top:1540.22px;font-size:15.10px;line-height:15.10px;color:#a9a9a9;letter-spacing:0.039px;">Roller Diamter</div>
<div class="t " style="left:1977.10px;top:1542.57px;font-size:13.50px;line-height:13.50px;color:#565656;">ϕ</div>
<div class="t " style="left:1988.40px;top:1539.57px;font-size:17.40px;line-height:17.40px;color:#565656;transform-origin:0 0;transform:scaleX(0.9282);">54mm</div>
<div class="t " style="left:2201.50px;top:1542.57px;font-size:13.50px;line-height:13.50px;color:#565656;">ϕ</div>
<div class="t " style="left:2212.80px;top:1539.57px;font-size:17.40px;line-height:17.40px;color:#565656;transform-origin:0 0;transform:scaleX(0.9282);">54mm</div>
<div class="t " style="left:1773.70px;top:1574.52px;font-size:15.10px;line-height:15.10px;color:#a9a9a9;letter-spacing:0.708px;">Motor power</div>
<div class="t " style="left:1973.60px;top:1573.87px;font-size:17.40px;line-height:17.40px;color:#565656;transform-origin:0 0;transform:scaleX(0.9282);">2.25kw</div>
<div class="t " style="left:2198.00px;top:1573.87px;font-size:17.40px;line-height:17.40px;color:#565656;transform-origin:0 0;transform:scaleX(0.9282);">1.87kw</div>
<div class="t " style="left:1773.70px;top:1608.82px;font-size:15.10px;line-height:15.10px;color:#a9a9a9;letter-spacing:0.329px;">Maximum Plate</div>
<div class="t " style="left:1973.60px;top:1608.17px;font-size:17.40px;line-height:17.40px;color:#565656;transform-origin:0 0;transform:scaleX(0.9282);">2400*1200mm</div>
<div class="t " style="left:2198.00px;top:1608.17px;font-size:17.40px;line-height:17.40px;color:#565656;transform-origin:0 0;transform:scaleX(0.9282);">2800*1200mm</div>
<div class="t " style="left:1773.70px;top:1643.22px;font-size:15.10px;line-height:15.10px;color:#a9a9a9;letter-spacing:0.262px;">Minimum Plate</div>
<div class="t " style="left:1973.60px;top:1642.57px;font-size:17.40px;line-height:17.40px;color:#565656;transform-origin:0 0;transform:scaleX(0.9282);">200*200mm</div>
<div class="t " style="left:2198.00px;top:1642.57px;font-size:17.40px;line-height:17.40px;color:#565656;transform-origin:0 0;transform:scaleX(0.9282);">180*180mm</div>
<div class="t " style="left:2494.00px;top:1711.49px;font-size:23.40px;line-height:23.40px;color:#e6edf8;transform-origin:0 0;transform:scaleX(0.8966);">43/44</div>
<div class="t ser" style="left:2254.5px;top:193.90px;font-size:32.6px;line-height:32.6px;color:#1b1412;-webkit-text-stroke:0.5px #1b1412;transform-origin:0 0;transform:scaleX(1.2573)">WELLUN</div>
</body></html>
